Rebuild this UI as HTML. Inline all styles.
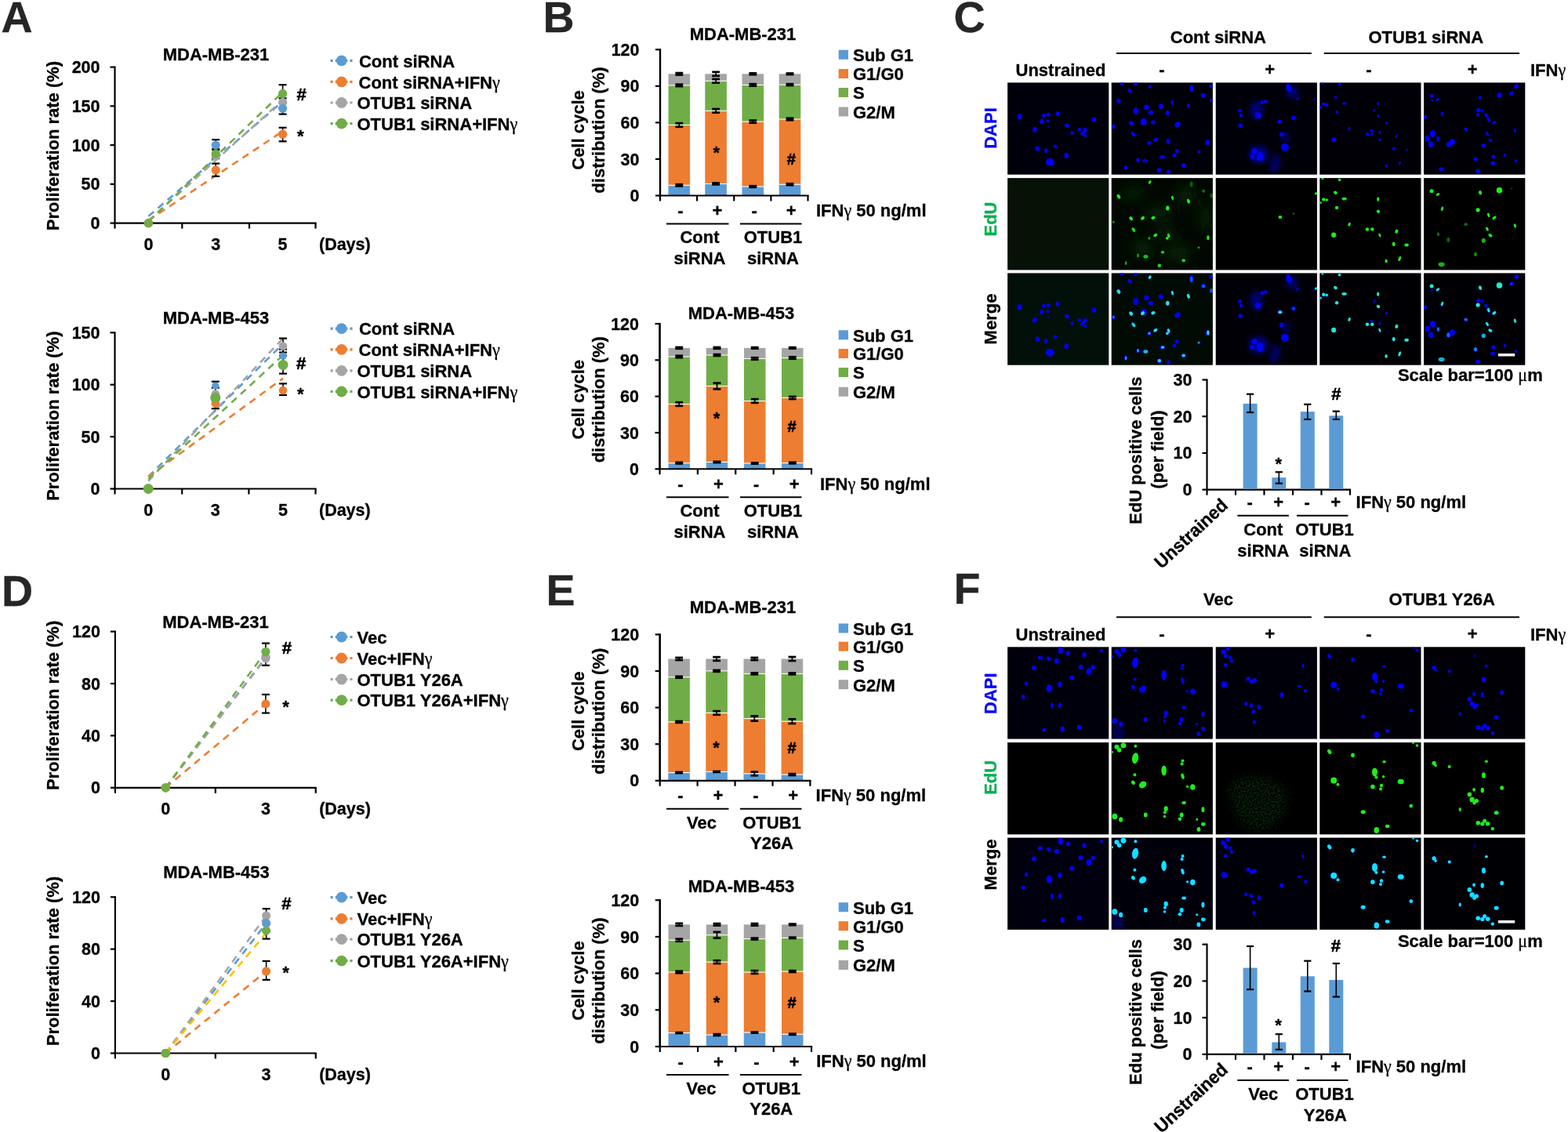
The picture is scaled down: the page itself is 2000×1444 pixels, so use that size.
<!DOCTYPE html>
<html><head><meta charset="utf-8"><title>Figure</title>
<style>html,body{margin:0;padding:0;background:#fff;} svg{display:block;}</style></head>
<body><svg width="2000" height="1444" viewBox="0 0 2000 1444" font-family='"Liberation Sans", Arial, sans-serif'>
<rect x="0" y="0" width="2000" height="1444" fill="#fff"/>
<text x="1.50" y="41.00" font-size="55.5" text-anchor="start" fill="#262626" font-weight="bold" transform="translate(1.50 41.00) rotate(0) scale(1 1.0) translate(-1.50 -41.00)" stroke="#262626" stroke-width="0.3">A</text>
<text x="692.50" y="41.00" font-size="55.5" text-anchor="start" fill="#262626" font-weight="bold" transform="translate(692.50 41.00) rotate(0) scale(1 1.0) translate(-692.50 -41.00)" stroke="#262626" stroke-width="0.3">B</text>
<text x="1216.50" y="41.20" font-size="55.5" text-anchor="start" fill="#262626" font-weight="bold" transform="translate(1216.50 41.20) rotate(0) scale(1 1.0) translate(-1216.50 -41.20)" stroke="#262626" stroke-width="0.3">C</text>
<text x="2.00" y="772.70" font-size="55.5" text-anchor="start" fill="#262626" font-weight="bold" transform="translate(2.00 772.70) rotate(0) scale(1 1.0) translate(-2.00 -772.70)" stroke="#262626" stroke-width="0.3">D</text>
<text x="696.50" y="772.30" font-size="55.5" text-anchor="start" fill="#262626" font-weight="bold" transform="translate(696.50 772.30) rotate(0) scale(1 1.0) translate(-696.50 -772.30)" stroke="#262626" stroke-width="0.3">E</text>
<text x="1216.50" y="770.00" font-size="55.5" text-anchor="start" fill="#262626" font-weight="bold" transform="translate(1216.50 770.00) rotate(0) scale(1 1.0) translate(-1216.50 -770.00)" stroke="#262626" stroke-width="0.3">F</text>
<text x="275.50" y="77.50" font-size="22" text-anchor="middle" fill="#000" font-weight="bold" transform="translate(275.50 77.50) rotate(0) scale(1 1.04) translate(-275.50 -77.50)" stroke="#000" stroke-width="0.3">MDA-MB-231</text>
<text x="75.50" y="186.00" font-size="22" text-anchor="middle" fill="#000" font-weight="bold" transform="translate(75.50 186.00) rotate(-90) scale(1 1.04) translate(-75.50 -186.00)" stroke="#000" stroke-width="0.3">Proliferation rate (%)</text>
<line x1="146.50" y1="84.60" x2="146.50" y2="285.60" stroke="#000" stroke-width="2.2"/>
<line x1="140.50" y1="284.60" x2="146.50" y2="284.60" stroke="#000" stroke-width="2.2"/>
<text x="127.50" y="292.20" font-size="21.5" text-anchor="end" fill="#000" font-weight="bold" transform="translate(127.50 292.20) rotate(0) scale(1 1.04) translate(-127.50 -292.20)" stroke="#000" stroke-width="0.3">0</text>
<line x1="140.50" y1="234.85" x2="146.50" y2="234.85" stroke="#000" stroke-width="2.2"/>
<text x="127.50" y="242.45" font-size="21.5" text-anchor="end" fill="#000" font-weight="bold" transform="translate(127.50 242.45) rotate(0) scale(1 1.04) translate(-127.50 -242.45)" stroke="#000" stroke-width="0.3">50</text>
<line x1="140.50" y1="185.10" x2="146.50" y2="185.10" stroke="#000" stroke-width="2.2"/>
<text x="127.50" y="192.70" font-size="21.5" text-anchor="end" fill="#000" font-weight="bold" transform="translate(127.50 192.70) rotate(0) scale(1 1.04) translate(-127.50 -192.70)" stroke="#000" stroke-width="0.3">100</text>
<line x1="140.50" y1="135.35" x2="146.50" y2="135.35" stroke="#000" stroke-width="2.2"/>
<text x="127.50" y="142.95" font-size="21.5" text-anchor="end" fill="#000" font-weight="bold" transform="translate(127.50 142.95) rotate(0) scale(1 1.04) translate(-127.50 -142.95)" stroke="#000" stroke-width="0.3">150</text>
<line x1="140.50" y1="85.60" x2="146.50" y2="85.60" stroke="#000" stroke-width="2.2"/>
<text x="127.50" y="93.20" font-size="21.5" text-anchor="end" fill="#000" font-weight="bold" transform="translate(127.50 93.20) rotate(0) scale(1 1.04) translate(-127.50 -93.20)" stroke="#000" stroke-width="0.3">200</text>
<line x1="145.50" y1="284.60" x2="403.60" y2="284.60" stroke="#000" stroke-width="2.2"/>
<line x1="146.50" y1="284.60" x2="146.50" y2="291.60" stroke="#000" stroke-width="2.2"/>
<line x1="232.30" y1="284.60" x2="232.30" y2="291.60" stroke="#000" stroke-width="2.2"/>
<line x1="318.00" y1="284.60" x2="318.00" y2="291.60" stroke="#000" stroke-width="2.2"/>
<line x1="402.50" y1="284.60" x2="402.50" y2="291.60" stroke="#000" stroke-width="2.2"/>
<text x="189.40" y="319.10" font-size="21.5" text-anchor="middle" fill="#000" font-weight="bold" transform="translate(189.40 319.10) rotate(0) scale(1 1.04) translate(-189.40 -319.10)" stroke="#000" stroke-width="0.3">0</text>
<text x="275.20" y="319.10" font-size="21.5" text-anchor="middle" fill="#000" font-weight="bold" transform="translate(275.20 319.10) rotate(0) scale(1 1.04) translate(-275.20 -319.10)" stroke="#000" stroke-width="0.3">3</text>
<text x="360.60" y="319.10" font-size="21.5" text-anchor="middle" fill="#000" font-weight="bold" transform="translate(360.60 319.10) rotate(0) scale(1 1.04) translate(-360.60 -319.10)" stroke="#000" stroke-width="0.3">5</text>
<text x="407.00" y="319.10" font-size="21.5" text-anchor="start" fill="#000" font-weight="bold" transform="translate(407.00 319.10) rotate(0) scale(1 1.04) translate(-407.00 -319.10)" stroke="#000" stroke-width="0.3">(Days)</text>
<line x1="189.40" y1="275.81" x2="360.60" y2="129.55" stroke="#5b9bd5" stroke-width="2.6" stroke-dasharray="9 7"/>
<line x1="189.40" y1="281.78" x2="360.60" y2="127.56" stroke="#a5a5a5" stroke-width="2.6" stroke-dasharray="9 7"/>
<line x1="189.40" y1="280.95" x2="360.60" y2="167.52" stroke="#ed7d31" stroke-width="2.6" stroke-dasharray="9 7"/>
<line x1="189.40" y1="282.61" x2="360.60" y2="117.44" stroke="#70ad47" stroke-width="2.6" stroke-dasharray="9 7"/>
<line x1="275.20" y1="191.07" x2="275.20" y2="178.13" stroke="#000" stroke-width="1.6"/>
<line x1="270.20" y1="191.07" x2="280.20" y2="191.07" stroke="#000" stroke-width="2.2"/>
<line x1="270.20" y1="178.13" x2="280.20" y2="178.13" stroke="#000" stroke-width="2.2"/>
<line x1="275.20" y1="202.02" x2="275.20" y2="190.08" stroke="#000" stroke-width="1.6"/>
<line x1="270.20" y1="202.02" x2="280.20" y2="202.02" stroke="#000" stroke-width="2.2"/>
<line x1="270.20" y1="190.08" x2="280.20" y2="190.08" stroke="#000" stroke-width="2.2"/>
<line x1="275.20" y1="224.90" x2="275.20" y2="208.58" stroke="#000" stroke-width="1.6"/>
<line x1="270.20" y1="224.90" x2="280.20" y2="224.90" stroke="#000" stroke-width="2.2"/>
<line x1="270.20" y1="208.58" x2="280.20" y2="208.58" stroke="#000" stroke-width="2.2"/>
<line x1="360.60" y1="108.19" x2="360.60" y2="125.40" stroke="#000" stroke-width="1.6"/>
<line x1="355.60" y1="108.19" x2="365.60" y2="108.19" stroke="#000" stroke-width="2.2"/>
<line x1="355.60" y1="125.40" x2="365.60" y2="125.40" stroke="#000" stroke-width="2.2"/>
<line x1="360.60" y1="145.60" x2="360.60" y2="131.37" stroke="#000" stroke-width="1.6"/>
<line x1="355.60" y1="145.60" x2="365.60" y2="145.60" stroke="#000" stroke-width="2.2"/>
<line x1="355.60" y1="131.37" x2="365.60" y2="131.37" stroke="#000" stroke-width="2.2"/>
<line x1="360.60" y1="180.32" x2="360.60" y2="162.81" stroke="#000" stroke-width="1.6"/>
<line x1="355.60" y1="180.32" x2="365.60" y2="180.32" stroke="#000" stroke-width="2.2"/>
<line x1="355.60" y1="162.81" x2="365.60" y2="162.81" stroke="#000" stroke-width="2.2"/>
<circle cx="189.40" cy="284.60" r="5.60" fill="#a5a5a5"/>
<circle cx="275.20" cy="199.03" r="5.60" fill="#a5a5a5"/>
<circle cx="360.60" cy="130.38" r="5.60" fill="#a5a5a5"/>
<circle cx="189.40" cy="284.60" r="5.60" fill="#5b9bd5"/>
<circle cx="275.20" cy="185.10" r="5.60" fill="#5b9bd5"/>
<circle cx="360.60" cy="138.34" r="5.60" fill="#5b9bd5"/>
<circle cx="189.40" cy="284.60" r="5.60" fill="#ed7d31"/>
<circle cx="275.20" cy="216.94" r="5.60" fill="#ed7d31"/>
<circle cx="360.60" cy="171.17" r="5.60" fill="#ed7d31"/>
<circle cx="189.40" cy="284.60" r="5.60" fill="#70ad47"/>
<circle cx="275.20" cy="196.05" r="5.60" fill="#70ad47"/>
<circle cx="360.60" cy="119.43" r="5.60" fill="#70ad47"/>
<text x="384.60" y="128.30" font-size="22" text-anchor="middle" fill="#000" font-weight="bold" transform="translate(384.60 128.30) rotate(0) scale(1 1.04) translate(-384.60 -128.30)" stroke="#000" stroke-width="0.6">#</text>
<text x="383.20" y="181.30" font-size="22" text-anchor="middle" fill="#000" font-weight="bold" transform="translate(383.20 181.30) rotate(0) scale(1 1.04) translate(-383.20 -181.30)" stroke="#000" stroke-width="0.3">*</text>
<line x1="421.50" y1="77.30" x2="451.00" y2="77.30" stroke="#5b9bd5" stroke-width="3.2" stroke-dasharray="3.2 3"/>
<circle cx="435.70" cy="77.30" r="6.90" fill="#5b9bd5"/>
<text x="458.00" y="85.60" font-size="22" text-anchor="start" fill="#000" font-weight="bold" transform="translate(458.00 85.60) rotate(0) scale(1 1.04) translate(-458.00 -85.60)" stroke="#000" stroke-width="0.3">Cont siRNA</text>
<line x1="421.50" y1="104.30" x2="451.00" y2="104.30" stroke="#ed7d31" stroke-width="3.2" stroke-dasharray="3.2 3"/>
<circle cx="435.70" cy="104.30" r="6.90" fill="#ed7d31"/>
<text x="457.50" y="112.60" font-size="22" text-anchor="start" fill="#000" font-weight="bold" transform="translate(457.50 112.60) rotate(0) scale(1 1.04) translate(-457.50 -112.60)" stroke="#000" stroke-width="0.3">Cont siRNA+IFN<tspan font-family="Liberation Serif, serif" font-weight="normal">γ</tspan></text>
<line x1="421.50" y1="131.00" x2="451.00" y2="131.00" stroke="#a5a5a5" stroke-width="3.2" stroke-dasharray="3.2 3"/>
<circle cx="435.70" cy="131.00" r="6.90" fill="#a5a5a5"/>
<text x="455.50" y="139.30" font-size="22" text-anchor="start" fill="#000" font-weight="bold" transform="translate(455.50 139.30) rotate(0) scale(1 1.04) translate(-455.50 -139.30)" stroke="#000" stroke-width="0.3">OTUB1 siRNA</text>
<line x1="421.50" y1="157.70" x2="451.00" y2="157.70" stroke="#70ad47" stroke-width="3.2" stroke-dasharray="3.2 3"/>
<circle cx="435.70" cy="157.70" r="6.90" fill="#70ad47"/>
<text x="455.50" y="166.00" font-size="22" text-anchor="start" fill="#000" font-weight="bold" transform="translate(455.50 166.00) rotate(0) scale(1 1.04) translate(-455.50 -166.00)" stroke="#000" stroke-width="0.3">OTUB1 siRNA+IFN<tspan font-family="Liberation Serif, serif" font-weight="normal">γ</tspan></text>
<text x="275.50" y="413.30" font-size="22" text-anchor="middle" fill="#000" font-weight="bold" transform="translate(275.50 413.30) rotate(0) scale(1 1.04) translate(-275.50 -413.30)" stroke="#000" stroke-width="0.3">MDA-MB-453</text>
<text x="75.50" y="530.70" font-size="22" text-anchor="middle" fill="#000" font-weight="bold" transform="translate(75.50 530.70) rotate(-90) scale(1 1.04) translate(-75.50 -530.70)" stroke="#000" stroke-width="0.3">Proliferation rate (%)</text>
<line x1="146.50" y1="423.30" x2="146.50" y2="624.50" stroke="#000" stroke-width="2.2"/>
<line x1="140.50" y1="623.50" x2="146.50" y2="623.50" stroke="#000" stroke-width="2.2"/>
<text x="127.50" y="631.10" font-size="21.5" text-anchor="end" fill="#000" font-weight="bold" transform="translate(127.50 631.10) rotate(0) scale(1 1.04) translate(-127.50 -631.10)" stroke="#000" stroke-width="0.3">0</text>
<line x1="140.50" y1="557.10" x2="146.50" y2="557.10" stroke="#000" stroke-width="2.2"/>
<text x="127.50" y="564.70" font-size="21.5" text-anchor="end" fill="#000" font-weight="bold" transform="translate(127.50 564.70) rotate(0) scale(1 1.04) translate(-127.50 -564.70)" stroke="#000" stroke-width="0.3">50</text>
<line x1="140.50" y1="490.70" x2="146.50" y2="490.70" stroke="#000" stroke-width="2.2"/>
<text x="127.50" y="498.30" font-size="21.5" text-anchor="end" fill="#000" font-weight="bold" transform="translate(127.50 498.30) rotate(0) scale(1 1.04) translate(-127.50 -498.30)" stroke="#000" stroke-width="0.3">100</text>
<line x1="140.50" y1="424.30" x2="146.50" y2="424.30" stroke="#000" stroke-width="2.2"/>
<text x="127.50" y="431.90" font-size="21.5" text-anchor="end" fill="#000" font-weight="bold" transform="translate(127.50 431.90) rotate(0) scale(1 1.04) translate(-127.50 -431.90)" stroke="#000" stroke-width="0.3">150</text>
<line x1="145.50" y1="623.50" x2="403.60" y2="623.50" stroke="#000" stroke-width="2.2"/>
<line x1="146.50" y1="623.50" x2="146.50" y2="630.50" stroke="#000" stroke-width="2.2"/>
<line x1="232.20" y1="623.50" x2="232.20" y2="630.50" stroke="#000" stroke-width="2.2"/>
<line x1="317.40" y1="623.50" x2="317.40" y2="630.50" stroke="#000" stroke-width="2.2"/>
<line x1="402.50" y1="623.50" x2="402.50" y2="630.50" stroke="#000" stroke-width="2.2"/>
<text x="189.20" y="658.00" font-size="21.5" text-anchor="middle" fill="#000" font-weight="bold" transform="translate(189.20 658.00) rotate(0) scale(1 1.04) translate(-189.20 -658.00)" stroke="#000" stroke-width="0.3">0</text>
<text x="274.80" y="658.00" font-size="21.5" text-anchor="middle" fill="#000" font-weight="bold" transform="translate(274.80 658.00) rotate(0) scale(1 1.04) translate(-274.80 -658.00)" stroke="#000" stroke-width="0.3">3</text>
<text x="361.00" y="658.00" font-size="21.5" text-anchor="middle" fill="#000" font-weight="bold" transform="translate(361.00 658.00) rotate(0) scale(1 1.04) translate(-361.00 -658.00)" stroke="#000" stroke-width="0.3">5</text>
<text x="407.00" y="658.00" font-size="21.5" text-anchor="start" fill="#000" font-weight="bold" transform="translate(407.00 658.00) rotate(0) scale(1 1.04) translate(-407.00 -658.00)" stroke="#000" stroke-width="0.3">(Days)</text>
<line x1="189.20" y1="607.90" x2="361.00" y2="438.58" stroke="#5b9bd5" stroke-width="2.6" stroke-dasharray="9 7"/>
<line x1="189.20" y1="613.54" x2="361.00" y2="431.60" stroke="#a5a5a5" stroke-width="2.6" stroke-dasharray="9 7"/>
<line x1="189.20" y1="608.12" x2="361.00" y2="482.62" stroke="#ed7d31" stroke-width="2.6" stroke-dasharray="9 7"/>
<line x1="189.20" y1="611.11" x2="361.00" y2="453.07" stroke="#70ad47" stroke-width="2.6" stroke-dasharray="9 7"/>
<line x1="274.80" y1="521.24" x2="274.80" y2="486.72" stroke="#000" stroke-width="1.6"/>
<line x1="269.80" y1="521.24" x2="279.80" y2="521.24" stroke="#000" stroke-width="2.2"/>
<line x1="269.80" y1="486.72" x2="279.80" y2="486.72" stroke="#000" stroke-width="2.2"/>
<line x1="274.80" y1="510.62" x2="274.80" y2="494.68" stroke="#000" stroke-width="1.6"/>
<line x1="269.80" y1="510.62" x2="279.80" y2="510.62" stroke="#000" stroke-width="2.2"/>
<line x1="269.80" y1="494.68" x2="279.80" y2="494.68" stroke="#000" stroke-width="2.2"/>
<line x1="361.00" y1="449.53" x2="361.00" y2="431.60" stroke="#000" stroke-width="1.6"/>
<line x1="356.00" y1="449.53" x2="366.00" y2="449.53" stroke="#000" stroke-width="2.2"/>
<line x1="356.00" y1="431.60" x2="366.00" y2="431.60" stroke="#000" stroke-width="2.2"/>
<line x1="361.00" y1="476.62" x2="361.00" y2="453.52" stroke="#000" stroke-width="1.6"/>
<line x1="356.00" y1="476.62" x2="366.00" y2="476.62" stroke="#000" stroke-width="2.2"/>
<line x1="356.00" y1="453.52" x2="366.00" y2="453.52" stroke="#000" stroke-width="2.2"/>
<line x1="361.00" y1="503.98" x2="361.00" y2="489.37" stroke="#000" stroke-width="1.6"/>
<line x1="356.00" y1="503.98" x2="366.00" y2="503.98" stroke="#000" stroke-width="2.2"/>
<line x1="356.00" y1="489.37" x2="366.00" y2="489.37" stroke="#000" stroke-width="2.2"/>
<line x1="361.00" y1="464.14" x2="361.00" y2="445.55" stroke="#000" stroke-width="1.6"/>
<line x1="356.00" y1="464.14" x2="366.00" y2="464.14" stroke="#000" stroke-width="2.2"/>
<line x1="356.00" y1="445.55" x2="366.00" y2="445.55" stroke="#000" stroke-width="2.2"/>
<circle cx="189.20" cy="623.50" r="5.30" fill="#ed7d31"/>
<circle cx="274.80" cy="514.60" r="5.30" fill="#ed7d31"/>
<circle cx="361.00" cy="498.00" r="5.30" fill="#ed7d31"/>
<circle cx="189.20" cy="623.50" r="5.30" fill="#a5a5a5"/>
<circle cx="274.80" cy="502.65" r="5.30" fill="#a5a5a5"/>
<circle cx="361.00" cy="441.56" r="5.30" fill="#a5a5a5"/>
<circle cx="189.20" cy="623.50" r="4.60" fill="#5b9bd5"/>
<circle cx="274.80" cy="492.03" r="4.60" fill="#5b9bd5"/>
<circle cx="361.00" cy="454.18" r="4.60" fill="#5b9bd5"/>
<circle cx="189.20" cy="623.50" r="6.50" fill="#70ad47"/>
<circle cx="274.80" cy="507.30" r="6.50" fill="#70ad47"/>
<circle cx="361.00" cy="465.47" r="6.50" fill="#70ad47"/>
<text x="384.20" y="471.40" font-size="22" text-anchor="middle" fill="#000" font-weight="bold" transform="translate(384.20 471.40) rotate(0) scale(1 1.04) translate(-384.20 -471.40)" stroke="#000" stroke-width="0.6">#</text>
<text x="383.40" y="510.00" font-size="22" text-anchor="middle" fill="#000" font-weight="bold" transform="translate(383.40 510.00) rotate(0) scale(1 1.04) translate(-383.40 -510.00)" stroke="#000" stroke-width="0.3">*</text>
<line x1="421.50" y1="419.20" x2="451.00" y2="419.20" stroke="#5b9bd5" stroke-width="3.2" stroke-dasharray="3.2 3"/>
<circle cx="435.70" cy="419.20" r="6.90" fill="#5b9bd5"/>
<text x="458.00" y="427.50" font-size="22" text-anchor="start" fill="#000" font-weight="bold" transform="translate(458.00 427.50) rotate(0) scale(1 1.04) translate(-458.00 -427.50)" stroke="#000" stroke-width="0.3">Cont siRNA</text>
<line x1="421.50" y1="445.80" x2="451.00" y2="445.80" stroke="#ed7d31" stroke-width="3.2" stroke-dasharray="3.2 3"/>
<circle cx="435.70" cy="445.80" r="6.90" fill="#ed7d31"/>
<text x="457.50" y="454.10" font-size="22" text-anchor="start" fill="#000" font-weight="bold" transform="translate(457.50 454.10) rotate(0) scale(1 1.04) translate(-457.50 -454.10)" stroke="#000" stroke-width="0.3">Cont siRNA+IFN<tspan font-family="Liberation Serif, serif" font-weight="normal">γ</tspan></text>
<line x1="421.50" y1="472.80" x2="451.00" y2="472.80" stroke="#a5a5a5" stroke-width="3.2" stroke-dasharray="3.2 3"/>
<circle cx="435.70" cy="472.80" r="6.90" fill="#a5a5a5"/>
<text x="455.50" y="481.10" font-size="22" text-anchor="start" fill="#000" font-weight="bold" transform="translate(455.50 481.10) rotate(0) scale(1 1.04) translate(-455.50 -481.10)" stroke="#000" stroke-width="0.3">OTUB1 siRNA</text>
<line x1="421.50" y1="499.50" x2="451.00" y2="499.50" stroke="#70ad47" stroke-width="3.2" stroke-dasharray="3.2 3"/>
<circle cx="435.70" cy="499.50" r="6.90" fill="#70ad47"/>
<text x="455.50" y="507.80" font-size="22" text-anchor="start" fill="#000" font-weight="bold" transform="translate(455.50 507.80) rotate(0) scale(1 1.04) translate(-455.50 -507.80)" stroke="#000" stroke-width="0.3">OTUB1 siRNA+IFN<tspan font-family="Liberation Serif, serif" font-weight="normal">γ</tspan></text>
<text x="275.00" y="801.50" font-size="22" text-anchor="middle" fill="#000" font-weight="bold" transform="translate(275.00 801.50) rotate(0) scale(1 1.04) translate(-275.00 -801.50)" stroke="#000" stroke-width="0.3">MDA-MB-231</text>
<text x="75.50" y="899.90" font-size="22" text-anchor="middle" fill="#000" font-weight="bold" transform="translate(75.50 899.90) rotate(-90) scale(1 1.04) translate(-75.50 -899.90)" stroke="#000" stroke-width="0.3">Proliferation rate (%)</text>
<line x1="146.90" y1="804.60" x2="146.90" y2="1005.80" stroke="#000" stroke-width="2.2"/>
<line x1="140.90" y1="1004.80" x2="146.90" y2="1004.80" stroke="#000" stroke-width="2.2"/>
<text x="127.90" y="1012.40" font-size="21.5" text-anchor="end" fill="#000" font-weight="bold" transform="translate(127.90 1012.40) rotate(0) scale(1 1.04) translate(-127.90 -1012.40)" stroke="#000" stroke-width="0.3">0</text>
<line x1="140.90" y1="938.40" x2="146.90" y2="938.40" stroke="#000" stroke-width="2.2"/>
<text x="127.90" y="946.00" font-size="21.5" text-anchor="end" fill="#000" font-weight="bold" transform="translate(127.90 946.00) rotate(0) scale(1 1.04) translate(-127.90 -946.00)" stroke="#000" stroke-width="0.3">40</text>
<line x1="140.90" y1="872.00" x2="146.90" y2="872.00" stroke="#000" stroke-width="2.2"/>
<text x="127.90" y="879.60" font-size="21.5" text-anchor="end" fill="#000" font-weight="bold" transform="translate(127.90 879.60) rotate(0) scale(1 1.04) translate(-127.90 -879.60)" stroke="#000" stroke-width="0.3">80</text>
<line x1="140.90" y1="805.60" x2="146.90" y2="805.60" stroke="#000" stroke-width="2.2"/>
<text x="127.90" y="813.20" font-size="21.5" text-anchor="end" fill="#000" font-weight="bold" transform="translate(127.90 813.20) rotate(0) scale(1 1.04) translate(-127.90 -813.20)" stroke="#000" stroke-width="0.3">120</text>
<line x1="145.90" y1="1004.80" x2="403.80" y2="1004.80" stroke="#000" stroke-width="2.2"/>
<line x1="146.90" y1="1004.80" x2="146.90" y2="1011.80" stroke="#000" stroke-width="2.2"/>
<line x1="274.80" y1="1004.80" x2="274.80" y2="1011.80" stroke="#000" stroke-width="2.2"/>
<line x1="402.70" y1="1004.80" x2="402.70" y2="1011.80" stroke="#000" stroke-width="2.2"/>
<text x="211.20" y="1039.30" font-size="21.5" text-anchor="middle" fill="#000" font-weight="bold" transform="translate(211.20 1039.30) rotate(0) scale(1 1.04) translate(-211.20 -1039.30)" stroke="#000" stroke-width="0.3">0</text>
<text x="338.90" y="1039.30" font-size="21.5" text-anchor="middle" fill="#000" font-weight="bold" transform="translate(338.90 1039.30) rotate(0) scale(1 1.04) translate(-338.90 -1039.30)" stroke="#000" stroke-width="0.3">3</text>
<text x="407.20" y="1039.30" font-size="21.5" text-anchor="start" fill="#000" font-weight="bold" transform="translate(407.20 1039.30) rotate(0) scale(1 1.04) translate(-407.20 -1039.30)" stroke="#000" stroke-width="0.3">(Days)</text>
<line x1="211.20" y1="1004.80" x2="338.90" y2="838.80" stroke="#5b9bd5" stroke-width="2.6" stroke-dasharray="9 7"/>
<line x1="211.20" y1="1004.80" x2="338.90" y2="839.80" stroke="#a5a5a5" stroke-width="2.6" stroke-dasharray="9 7"/>
<line x1="211.20" y1="1004.80" x2="338.90" y2="897.90" stroke="#ed7d31" stroke-width="2.6" stroke-dasharray="9 7"/>
<line x1="211.20" y1="1004.80" x2="338.90" y2="831.33" stroke="#70ad47" stroke-width="2.6" stroke-dasharray="9 7"/>
<line x1="338.90" y1="848.76" x2="338.90" y2="820.54" stroke="#000" stroke-width="1.6"/>
<line x1="333.90" y1="848.76" x2="343.90" y2="848.76" stroke="#000" stroke-width="2.2"/>
<line x1="333.90" y1="820.54" x2="343.90" y2="820.54" stroke="#000" stroke-width="2.2"/>
<line x1="338.90" y1="909.52" x2="338.90" y2="885.94" stroke="#000" stroke-width="1.6"/>
<line x1="333.90" y1="909.52" x2="343.90" y2="909.52" stroke="#000" stroke-width="2.2"/>
<line x1="333.90" y1="885.94" x2="343.90" y2="885.94" stroke="#000" stroke-width="2.2"/>
<circle cx="211.20" cy="1004.80" r="5.60" fill="#5b9bd5"/>
<circle cx="338.90" cy="838.80" r="5.60" fill="#5b9bd5"/>
<circle cx="211.20" cy="1004.80" r="5.60" fill="#a5a5a5"/>
<circle cx="338.90" cy="839.80" r="5.60" fill="#a5a5a5"/>
<circle cx="211.20" cy="1004.80" r="5.60" fill="#ed7d31"/>
<circle cx="338.90" cy="897.90" r="5.60" fill="#ed7d31"/>
<circle cx="211.20" cy="1004.80" r="5.60" fill="#70ad47"/>
<circle cx="338.90" cy="831.33" r="5.60" fill="#70ad47"/>
<text x="365.80" y="834.50" font-size="22" text-anchor="middle" fill="#000" font-weight="bold" transform="translate(365.80 834.50) rotate(0) scale(1 1.04) translate(-365.80 -834.50)" stroke="#000" stroke-width="0.6">#</text>
<text x="364.50" y="909.00" font-size="22" text-anchor="middle" fill="#000" font-weight="bold" transform="translate(364.50 909.00) rotate(0) scale(1 1.04) translate(-364.50 -909.00)" stroke="#000" stroke-width="0.3">*</text>
<line x1="421.50" y1="812.50" x2="451.00" y2="812.50" stroke="#5b9bd5" stroke-width="3.2" stroke-dasharray="3.2 3"/>
<circle cx="435.70" cy="812.50" r="6.90" fill="#5b9bd5"/>
<text x="455.50" y="820.80" font-size="22" text-anchor="start" fill="#000" font-weight="bold" transform="translate(455.50 820.80) rotate(0) scale(1 1.04) translate(-455.50 -820.80)" stroke="#000" stroke-width="0.3">Vec</text>
<line x1="421.50" y1="839.50" x2="451.00" y2="839.50" stroke="#ed7d31" stroke-width="3.2" stroke-dasharray="3.2 3"/>
<circle cx="435.70" cy="839.50" r="6.90" fill="#ed7d31"/>
<text x="455.50" y="847.80" font-size="22" text-anchor="start" fill="#000" font-weight="bold" transform="translate(455.50 847.80) rotate(0) scale(1 1.04) translate(-455.50 -847.80)" stroke="#000" stroke-width="0.3">Vec+IFN<tspan font-family="Liberation Serif, serif" font-weight="normal">γ</tspan></text>
<line x1="421.50" y1="866.50" x2="451.00" y2="866.50" stroke="#a5a5a5" stroke-width="3.2" stroke-dasharray="3.2 3"/>
<circle cx="435.70" cy="866.50" r="6.90" fill="#a5a5a5"/>
<text x="455.50" y="874.80" font-size="22" text-anchor="start" fill="#000" font-weight="bold" transform="translate(455.50 874.80) rotate(0) scale(1 1.04) translate(-455.50 -874.80)" stroke="#000" stroke-width="0.3">OTUB1 Y26A</text>
<line x1="421.50" y1="893.20" x2="451.00" y2="893.20" stroke="#70ad47" stroke-width="3.2" stroke-dasharray="3.2 3"/>
<circle cx="435.70" cy="893.20" r="6.90" fill="#70ad47"/>
<text x="455.50" y="901.50" font-size="22" text-anchor="start" fill="#000" font-weight="bold" transform="translate(455.50 901.50) rotate(0) scale(1 1.04) translate(-455.50 -901.50)" stroke="#000" stroke-width="0.3">OTUB1 Y26A+IFN<tspan font-family="Liberation Serif, serif" font-weight="normal">γ</tspan></text>
<text x="276.00" y="1119.60" font-size="22" text-anchor="middle" fill="#000" font-weight="bold" transform="translate(276.00 1119.60) rotate(0) scale(1 1.04) translate(-276.00 -1119.60)" stroke="#000" stroke-width="0.3">MDA-MB-453</text>
<text x="75.50" y="1226.00" font-size="22" text-anchor="middle" fill="#000" font-weight="bold" transform="translate(75.50 1226.00) rotate(-90) scale(1 1.04) translate(-75.50 -1226.00)" stroke="#000" stroke-width="0.3">Proliferation rate (%)</text>
<line x1="146.90" y1="1143.30" x2="146.90" y2="1344.50" stroke="#000" stroke-width="2.2"/>
<line x1="140.90" y1="1343.50" x2="146.90" y2="1343.50" stroke="#000" stroke-width="2.2"/>
<text x="127.90" y="1351.10" font-size="21.5" text-anchor="end" fill="#000" font-weight="bold" transform="translate(127.90 1351.10) rotate(0) scale(1 1.04) translate(-127.90 -1351.10)" stroke="#000" stroke-width="0.3">0</text>
<line x1="140.90" y1="1277.10" x2="146.90" y2="1277.10" stroke="#000" stroke-width="2.2"/>
<text x="127.90" y="1284.70" font-size="21.5" text-anchor="end" fill="#000" font-weight="bold" transform="translate(127.90 1284.70) rotate(0) scale(1 1.04) translate(-127.90 -1284.70)" stroke="#000" stroke-width="0.3">40</text>
<line x1="140.90" y1="1210.70" x2="146.90" y2="1210.70" stroke="#000" stroke-width="2.2"/>
<text x="127.90" y="1218.30" font-size="21.5" text-anchor="end" fill="#000" font-weight="bold" transform="translate(127.90 1218.30) rotate(0) scale(1 1.04) translate(-127.90 -1218.30)" stroke="#000" stroke-width="0.3">80</text>
<line x1="140.90" y1="1144.30" x2="146.90" y2="1144.30" stroke="#000" stroke-width="2.2"/>
<text x="127.90" y="1151.90" font-size="21.5" text-anchor="end" fill="#000" font-weight="bold" transform="translate(127.90 1151.90) rotate(0) scale(1 1.04) translate(-127.90 -1151.90)" stroke="#000" stroke-width="0.3">120</text>
<line x1="145.90" y1="1343.50" x2="403.80" y2="1343.50" stroke="#000" stroke-width="2.2"/>
<line x1="146.90" y1="1343.50" x2="146.90" y2="1350.50" stroke="#000" stroke-width="2.2"/>
<line x1="274.80" y1="1343.50" x2="274.80" y2="1350.50" stroke="#000" stroke-width="2.2"/>
<line x1="402.70" y1="1343.50" x2="402.70" y2="1350.50" stroke="#000" stroke-width="2.2"/>
<text x="211.20" y="1378.00" font-size="21.5" text-anchor="middle" fill="#000" font-weight="bold" transform="translate(211.20 1378.00) rotate(0) scale(1 1.04) translate(-211.20 -1378.00)" stroke="#000" stroke-width="0.3">0</text>
<text x="339.60" y="1378.00" font-size="21.5" text-anchor="middle" fill="#000" font-weight="bold" transform="translate(339.60 1378.00) rotate(0) scale(1 1.04) translate(-339.60 -1378.00)" stroke="#000" stroke-width="0.3">3</text>
<text x="407.20" y="1378.00" font-size="21.5" text-anchor="start" fill="#000" font-weight="bold" transform="translate(407.20 1378.00) rotate(0) scale(1 1.04) translate(-407.20 -1378.00)" stroke="#000" stroke-width="0.3">(Days)</text>
<line x1="211.20" y1="1343.50" x2="339.60" y2="1177.67" stroke="#5b9bd5" stroke-width="2.6" stroke-dasharray="9 7"/>
<line x1="211.20" y1="1343.50" x2="339.60" y2="1168.20" stroke="#a5a5a5" stroke-width="2.6" stroke-dasharray="9 7"/>
<line x1="211.20" y1="1343.50" x2="339.60" y2="1238.92" stroke="#ed7d31" stroke-width="2.6" stroke-dasharray="9 7"/>
<line x1="211.20" y1="1343.50" x2="339.60" y2="1189.95" stroke="#ffc000" stroke-width="2.6" stroke-dasharray="9 7"/>
<line x1="339.60" y1="1197.59" x2="339.60" y2="1159.24" stroke="#000" stroke-width="1.6"/>
<line x1="334.60" y1="1197.59" x2="344.60" y2="1197.59" stroke="#000" stroke-width="2.2"/>
<line x1="334.60" y1="1159.24" x2="344.60" y2="1159.24" stroke="#000" stroke-width="2.2"/>
<line x1="339.60" y1="1249.88" x2="339.60" y2="1225.97" stroke="#000" stroke-width="1.6"/>
<line x1="334.60" y1="1249.88" x2="344.60" y2="1249.88" stroke="#000" stroke-width="2.2"/>
<line x1="334.60" y1="1225.97" x2="344.60" y2="1225.97" stroke="#000" stroke-width="2.2"/>
<circle cx="211.20" cy="1343.50" r="5.60" fill="#a5a5a5"/>
<circle cx="339.60" cy="1168.20" r="5.60" fill="#a5a5a5"/>
<circle cx="211.20" cy="1343.50" r="5.60" fill="#5b9bd5"/>
<circle cx="339.60" cy="1177.67" r="5.60" fill="#5b9bd5"/>
<circle cx="211.20" cy="1343.50" r="5.60" fill="#ed7d31"/>
<circle cx="339.60" cy="1238.92" r="5.60" fill="#ed7d31"/>
<circle cx="211.20" cy="1343.50" r="5.60" fill="#70ad47"/>
<circle cx="339.60" cy="1187.13" r="5.60" fill="#70ad47"/>
<text x="365.50" y="1160.50" font-size="22" text-anchor="middle" fill="#000" font-weight="bold" transform="translate(365.50 1160.50) rotate(0) scale(1 1.04) translate(-365.50 -1160.50)" stroke="#000" stroke-width="0.6">#</text>
<text x="364.50" y="1248.00" font-size="22" text-anchor="middle" fill="#000" font-weight="bold" transform="translate(364.50 1248.00) rotate(0) scale(1 1.04) translate(-364.50 -1248.00)" stroke="#000" stroke-width="0.3">*</text>
<line x1="421.50" y1="1144.70" x2="451.00" y2="1144.70" stroke="#5b9bd5" stroke-width="3.2" stroke-dasharray="3.2 3"/>
<circle cx="435.70" cy="1144.70" r="6.90" fill="#5b9bd5"/>
<text x="455.50" y="1153.00" font-size="22" text-anchor="start" fill="#000" font-weight="bold" transform="translate(455.50 1153.00) rotate(0) scale(1 1.04) translate(-455.50 -1153.00)" stroke="#000" stroke-width="0.3">Vec</text>
<line x1="421.50" y1="1171.80" x2="451.00" y2="1171.80" stroke="#ed7d31" stroke-width="3.2" stroke-dasharray="3.2 3"/>
<circle cx="435.70" cy="1171.80" r="6.90" fill="#ed7d31"/>
<text x="455.50" y="1180.10" font-size="22" text-anchor="start" fill="#000" font-weight="bold" transform="translate(455.50 1180.10) rotate(0) scale(1 1.04) translate(-455.50 -1180.10)" stroke="#000" stroke-width="0.3">Vec+IFN<tspan font-family="Liberation Serif, serif" font-weight="normal">γ</tspan></text>
<line x1="421.50" y1="1198.20" x2="451.00" y2="1198.20" stroke="#a5a5a5" stroke-width="3.2" stroke-dasharray="3.2 3"/>
<circle cx="435.70" cy="1198.20" r="6.90" fill="#a5a5a5"/>
<text x="455.50" y="1206.50" font-size="22" text-anchor="start" fill="#000" font-weight="bold" transform="translate(455.50 1206.50) rotate(0) scale(1 1.04) translate(-455.50 -1206.50)" stroke="#000" stroke-width="0.3">OTUB1 Y26A</text>
<line x1="421.50" y1="1225.60" x2="451.00" y2="1225.60" stroke="#70ad47" stroke-width="3.2" stroke-dasharray="3.2 3"/>
<circle cx="435.70" cy="1225.60" r="6.90" fill="#70ad47"/>
<text x="455.50" y="1233.90" font-size="22" text-anchor="start" fill="#000" font-weight="bold" transform="translate(455.50 1233.90) rotate(0) scale(1 1.04) translate(-455.50 -1233.90)" stroke="#000" stroke-width="0.3">OTUB1 Y26A+IFN<tspan font-family="Liberation Serif, serif" font-weight="normal">γ</tspan></text>
<text x="947.50" y="51.00" font-size="22" text-anchor="middle" fill="#000" font-weight="bold" transform="translate(947.50 51.00) rotate(0) scale(1 1.04) translate(-947.50 -51.00)" stroke="#000" stroke-width="0.3">MDA-MB-231</text>
<text x="745.50" y="166.00" font-size="22" text-anchor="middle" fill="#000" font-weight="bold" transform="translate(745.50 166.00) rotate(-90) scale(1 1.04) translate(-745.50 -166.00)" stroke="#000" stroke-width="0.3">Cell cycle</text>
<text x="771.00" y="166.00" font-size="22" text-anchor="middle" fill="#000" font-weight="bold" transform="translate(771.00 166.00) rotate(-90) scale(1 1.04) translate(-771.00 -166.00)" stroke="#000" stroke-width="0.3">distribution (%)</text>
<line x1="842.00" y1="62.25" x2="842.00" y2="250.50" stroke="#000" stroke-width="2.2"/>
<line x1="836.00" y1="249.50" x2="842.00" y2="249.50" stroke="#000" stroke-width="2.2"/>
<text x="815.50" y="257.10" font-size="21.5" text-anchor="end" fill="#000" font-weight="bold" transform="translate(815.50 257.10) rotate(0) scale(1 1.04) translate(-815.50 -257.10)" stroke="#000" stroke-width="0.3">0</text>
<line x1="836.00" y1="202.94" x2="842.00" y2="202.94" stroke="#000" stroke-width="2.2"/>
<text x="815.50" y="210.54" font-size="21.5" text-anchor="end" fill="#000" font-weight="bold" transform="translate(815.50 210.54) rotate(0) scale(1 1.04) translate(-815.50 -210.54)" stroke="#000" stroke-width="0.3">30</text>
<line x1="836.00" y1="156.38" x2="842.00" y2="156.38" stroke="#000" stroke-width="2.2"/>
<text x="815.50" y="163.97" font-size="21.5" text-anchor="end" fill="#000" font-weight="bold" transform="translate(815.50 163.97) rotate(0) scale(1 1.04) translate(-815.50 -163.97)" stroke="#000" stroke-width="0.3">60</text>
<line x1="836.00" y1="109.81" x2="842.00" y2="109.81" stroke="#000" stroke-width="2.2"/>
<text x="815.50" y="117.41" font-size="21.5" text-anchor="end" fill="#000" font-weight="bold" transform="translate(815.50 117.41) rotate(0) scale(1 1.04) translate(-815.50 -117.41)" stroke="#000" stroke-width="0.3">90</text>
<line x1="836.00" y1="63.25" x2="842.00" y2="63.25" stroke="#000" stroke-width="2.2"/>
<text x="815.50" y="70.85" font-size="21.5" text-anchor="end" fill="#000" font-weight="bold" transform="translate(815.50 70.85) rotate(0) scale(1 1.04) translate(-815.50 -70.85)" stroke="#000" stroke-width="0.3">120</text>
<rect x="852.50" y="236.31" width="27.60" height="13.19" fill="#5b9bd5"/>
<rect x="852.50" y="159.48" width="27.60" height="76.83" fill="#ed7d31"/>
<rect x="852.50" y="108.88" width="27.60" height="50.60" fill="#70ad47"/>
<rect x="852.50" y="94.29" width="27.60" height="14.59" fill="#a5a5a5"/>
<line x1="852.50" y1="236.31" x2="880.10" y2="236.31" stroke="#fff" stroke-width="1.1"/>
<line x1="852.50" y1="159.48" x2="880.10" y2="159.48" stroke="#fff" stroke-width="1.1"/>
<line x1="852.50" y1="108.88" x2="880.10" y2="108.88" stroke="#fff" stroke-width="1.1"/>
<line x1="866.30" y1="237.39" x2="866.30" y2="235.22" stroke="#000" stroke-width="1.7"/>
<line x1="861.40" y1="237.39" x2="871.20" y2="237.39" stroke="#000" stroke-width="2.7"/>
<line x1="861.40" y1="235.22" x2="871.20" y2="235.22" stroke="#000" stroke-width="2.7"/>
<line x1="866.30" y1="161.81" x2="866.30" y2="157.15" stroke="#000" stroke-width="1.7"/>
<line x1="861.40" y1="161.81" x2="871.20" y2="161.81" stroke="#000" stroke-width="2.7"/>
<line x1="861.40" y1="157.15" x2="871.20" y2="157.15" stroke="#000" stroke-width="2.7"/>
<line x1="866.30" y1="110.12" x2="866.30" y2="107.64" stroke="#000" stroke-width="1.7"/>
<line x1="861.40" y1="110.12" x2="871.20" y2="110.12" stroke="#000" stroke-width="2.7"/>
<line x1="861.40" y1="107.64" x2="871.20" y2="107.64" stroke="#000" stroke-width="2.7"/>
<line x1="866.30" y1="95.53" x2="866.30" y2="93.05" stroke="#000" stroke-width="1.7"/>
<line x1="861.40" y1="95.53" x2="871.20" y2="95.53" stroke="#000" stroke-width="2.7"/>
<line x1="861.40" y1="93.05" x2="871.20" y2="93.05" stroke="#000" stroke-width="2.7"/>
<rect x="899.30" y="234.44" width="27.60" height="15.06" fill="#5b9bd5"/>
<rect x="899.30" y="141.32" width="27.60" height="93.12" fill="#ed7d31"/>
<rect x="899.30" y="103.29" width="27.60" height="38.03" fill="#70ad47"/>
<rect x="899.30" y="94.29" width="27.60" height="9.00" fill="#a5a5a5"/>
<line x1="899.30" y1="234.44" x2="926.90" y2="234.44" stroke="#fff" stroke-width="1.1"/>
<line x1="899.30" y1="141.32" x2="926.90" y2="141.32" stroke="#fff" stroke-width="1.1"/>
<line x1="899.30" y1="103.29" x2="926.90" y2="103.29" stroke="#fff" stroke-width="1.1"/>
<line x1="913.10" y1="235.38" x2="913.10" y2="233.51" stroke="#000" stroke-width="1.7"/>
<line x1="908.20" y1="235.38" x2="918.00" y2="235.38" stroke="#000" stroke-width="2.7"/>
<line x1="908.20" y1="233.51" x2="918.00" y2="233.51" stroke="#000" stroke-width="2.7"/>
<line x1="913.10" y1="143.65" x2="913.10" y2="138.99" stroke="#000" stroke-width="1.7"/>
<line x1="908.20" y1="143.65" x2="918.00" y2="143.65" stroke="#000" stroke-width="2.7"/>
<line x1="908.20" y1="138.99" x2="918.00" y2="138.99" stroke="#000" stroke-width="2.7"/>
<line x1="913.10" y1="105.62" x2="913.10" y2="100.97" stroke="#000" stroke-width="1.7"/>
<line x1="908.20" y1="105.62" x2="918.00" y2="105.62" stroke="#000" stroke-width="2.7"/>
<line x1="908.20" y1="100.97" x2="918.00" y2="100.97" stroke="#000" stroke-width="2.7"/>
<line x1="913.10" y1="96.78" x2="913.10" y2="91.81" stroke="#000" stroke-width="1.7"/>
<line x1="908.20" y1="96.78" x2="918.00" y2="96.78" stroke="#000" stroke-width="2.7"/>
<line x1="908.20" y1="91.81" x2="918.00" y2="91.81" stroke="#000" stroke-width="2.7"/>
<rect x="946.50" y="238.01" width="27.60" height="11.49" fill="#5b9bd5"/>
<rect x="946.50" y="155.13" width="27.60" height="82.88" fill="#ed7d31"/>
<rect x="946.50" y="108.42" width="27.60" height="46.72" fill="#70ad47"/>
<rect x="946.50" y="94.29" width="27.60" height="14.12" fill="#a5a5a5"/>
<line x1="946.50" y1="238.01" x2="974.10" y2="238.01" stroke="#fff" stroke-width="1.1"/>
<line x1="946.50" y1="155.13" x2="974.10" y2="155.13" stroke="#fff" stroke-width="1.1"/>
<line x1="946.50" y1="108.42" x2="974.10" y2="108.42" stroke="#fff" stroke-width="1.1"/>
<line x1="960.30" y1="238.79" x2="960.30" y2="237.24" stroke="#000" stroke-width="1.7"/>
<line x1="955.40" y1="238.79" x2="965.20" y2="238.79" stroke="#000" stroke-width="2.7"/>
<line x1="955.40" y1="237.24" x2="965.20" y2="237.24" stroke="#000" stroke-width="2.7"/>
<line x1="960.30" y1="156.69" x2="960.30" y2="153.58" stroke="#000" stroke-width="1.7"/>
<line x1="955.40" y1="156.69" x2="965.20" y2="156.69" stroke="#000" stroke-width="2.7"/>
<line x1="955.40" y1="153.58" x2="965.20" y2="153.58" stroke="#000" stroke-width="2.7"/>
<line x1="960.30" y1="109.66" x2="960.30" y2="107.17" stroke="#000" stroke-width="1.7"/>
<line x1="955.40" y1="109.66" x2="965.20" y2="109.66" stroke="#000" stroke-width="2.7"/>
<line x1="955.40" y1="107.17" x2="965.20" y2="107.17" stroke="#000" stroke-width="2.7"/>
<line x1="960.30" y1="95.22" x2="960.30" y2="93.36" stroke="#000" stroke-width="1.7"/>
<line x1="955.40" y1="95.22" x2="965.20" y2="95.22" stroke="#000" stroke-width="2.7"/>
<line x1="955.40" y1="93.36" x2="965.20" y2="93.36" stroke="#000" stroke-width="2.7"/>
<rect x="993.70" y="235.22" width="27.60" height="14.28" fill="#5b9bd5"/>
<rect x="993.70" y="152.03" width="27.60" height="83.19" fill="#ed7d31"/>
<rect x="993.70" y="108.11" width="27.60" height="43.92" fill="#70ad47"/>
<rect x="993.70" y="94.29" width="27.60" height="13.81" fill="#a5a5a5"/>
<line x1="993.70" y1="235.22" x2="1021.30" y2="235.22" stroke="#fff" stroke-width="1.1"/>
<line x1="993.70" y1="152.03" x2="1021.30" y2="152.03" stroke="#fff" stroke-width="1.1"/>
<line x1="993.70" y1="108.11" x2="1021.30" y2="108.11" stroke="#fff" stroke-width="1.1"/>
<line x1="1007.50" y1="236.15" x2="1007.50" y2="234.29" stroke="#000" stroke-width="1.7"/>
<line x1="1002.60" y1="236.15" x2="1012.40" y2="236.15" stroke="#000" stroke-width="2.7"/>
<line x1="1002.60" y1="234.29" x2="1012.40" y2="234.29" stroke="#000" stroke-width="2.7"/>
<line x1="1007.50" y1="153.27" x2="1007.50" y2="150.79" stroke="#000" stroke-width="1.7"/>
<line x1="1002.60" y1="153.27" x2="1012.40" y2="153.27" stroke="#000" stroke-width="2.7"/>
<line x1="1002.60" y1="150.79" x2="1012.40" y2="150.79" stroke="#000" stroke-width="2.7"/>
<line x1="1007.50" y1="109.04" x2="1007.50" y2="107.17" stroke="#000" stroke-width="1.7"/>
<line x1="1002.60" y1="109.04" x2="1012.40" y2="109.04" stroke="#000" stroke-width="2.7"/>
<line x1="1002.60" y1="107.17" x2="1012.40" y2="107.17" stroke="#000" stroke-width="2.7"/>
<line x1="1007.50" y1="95.07" x2="1007.50" y2="93.52" stroke="#000" stroke-width="1.7"/>
<line x1="1002.60" y1="95.07" x2="1012.40" y2="95.07" stroke="#000" stroke-width="2.7"/>
<line x1="1002.60" y1="93.52" x2="1012.40" y2="93.52" stroke="#000" stroke-width="2.7"/>
<line x1="841.00" y1="249.50" x2="1031.60" y2="249.50" stroke="#000" stroke-width="2.2"/>
<line x1="842.00" y1="249.50" x2="842.00" y2="256.50" stroke="#000" stroke-width="2.2"/>
<line x1="889.12" y1="249.50" x2="889.12" y2="256.50" stroke="#000" stroke-width="2.2"/>
<line x1="936.25" y1="249.50" x2="936.25" y2="256.50" stroke="#000" stroke-width="2.2"/>
<line x1="983.38" y1="249.50" x2="983.38" y2="256.50" stroke="#000" stroke-width="2.2"/>
<line x1="1030.50" y1="249.50" x2="1030.50" y2="256.50" stroke="#000" stroke-width="2.2"/>
<line x1="842.00" y1="62.25" x2="842.00" y2="250.50" stroke="#000" stroke-width="2.2"/>
<text x="913.70" y="202.00" font-size="22" text-anchor="middle" fill="#000" font-weight="bold" transform="translate(913.70 202.00) rotate(0) scale(1 1.04) translate(-913.70 -202.00)" stroke="#000" stroke-width="0.3">*</text>
<text x="1009.40" y="210.10" font-size="20" text-anchor="middle" fill="#000" font-weight="bold" transform="translate(1009.40 210.10) rotate(0) scale(1 1.04) translate(-1009.40 -210.10)" stroke="#000" stroke-width="0.6">#</text>
<text x="867.86" y="276.10" font-size="22" text-anchor="middle" fill="#000" font-weight="bold" transform="translate(867.86 276.10) rotate(0) scale(1 1.04) translate(-867.86 -276.10)" stroke="#000" stroke-width="0.3">-</text>
<text x="914.99" y="276.10" font-size="22" text-anchor="middle" fill="#000" font-weight="bold" transform="translate(914.99 276.10) rotate(0) scale(1 1.04) translate(-914.99 -276.10)" stroke="#000" stroke-width="0.3">+</text>
<text x="962.11" y="276.10" font-size="22" text-anchor="middle" fill="#000" font-weight="bold" transform="translate(962.11 276.10) rotate(0) scale(1 1.04) translate(-962.11 -276.10)" stroke="#000" stroke-width="0.3">-</text>
<text x="1009.24" y="276.10" font-size="22" text-anchor="middle" fill="#000" font-weight="bold" transform="translate(1009.24 276.10) rotate(0) scale(1 1.04) translate(-1009.24 -276.10)" stroke="#000" stroke-width="0.3">+</text>
<text x="1041.00" y="276.00" font-size="22" text-anchor="start" fill="#000" font-weight="bold" transform="translate(1041.00 276.00) rotate(0) scale(1 1.04) translate(-1041.00 -276.00)" stroke="#000" stroke-width="0.3">IFN<tspan font-family="Liberation Serif, serif" font-weight="normal">γ</tspan> 50 ng/ml</text>
<line x1="850.00" y1="285.50" x2="929.50" y2="285.50" stroke="#000" stroke-width="2.0"/>
<line x1="944.00" y1="285.50" x2="1022.50" y2="285.50" stroke="#000" stroke-width="2.0"/>
<text x="892.50" y="310.50" font-size="22" text-anchor="middle" fill="#000" font-weight="bold" transform="translate(892.50 310.50) rotate(0) scale(1 1.04) translate(-892.50 -310.50)" stroke="#000" stroke-width="0.3">Cont</text>
<text x="892.50" y="337.00" font-size="22" text-anchor="middle" fill="#000" font-weight="bold" transform="translate(892.50 337.00) rotate(0) scale(1 1.04) translate(-892.50 -337.00)" stroke="#000" stroke-width="0.3">siRNA</text>
<text x="986.00" y="310.50" font-size="22" text-anchor="middle" fill="#000" font-weight="bold" transform="translate(986.00 310.50) rotate(0) scale(1 1.04) translate(-986.00 -310.50)" stroke="#000" stroke-width="0.3">OTUB1</text>
<text x="986.00" y="337.00" font-size="22" text-anchor="middle" fill="#000" font-weight="bold" transform="translate(986.00 337.00) rotate(0) scale(1 1.04) translate(-986.00 -337.00)" stroke="#000" stroke-width="0.3">siRNA</text>
<rect x="1069.70" y="63.75" width="12.30" height="12.00" fill="#5b9bd5"/>
<text x="1088.00" y="78.25" font-size="22" text-anchor="start" fill="#000" font-weight="bold" transform="translate(1088.00 78.25) rotate(0) scale(1 1.04) translate(-1088.00 -78.25)" stroke="#000" stroke-width="0.3">Sub G1</text>
<rect x="1069.70" y="88.00" width="12.30" height="12.00" fill="#ed7d31"/>
<text x="1088.00" y="102.50" font-size="22" text-anchor="start" fill="#000" font-weight="bold" transform="translate(1088.00 102.50) rotate(0) scale(1 1.04) translate(-1088.00 -102.50)" stroke="#000" stroke-width="0.3">G1/G0</text>
<rect x="1069.70" y="112.00" width="12.30" height="12.00" fill="#70ad47"/>
<text x="1088.00" y="126.50" font-size="22" text-anchor="start" fill="#000" font-weight="bold" transform="translate(1088.00 126.50) rotate(0) scale(1 1.04) translate(-1088.00 -126.50)" stroke="#000" stroke-width="0.3">S</text>
<rect x="1069.70" y="136.50" width="12.30" height="12.00" fill="#a5a5a5"/>
<text x="1088.00" y="151.00" font-size="22" text-anchor="start" fill="#000" font-weight="bold" transform="translate(1088.00 151.00) rotate(0) scale(1 1.04) translate(-1088.00 -151.00)" stroke="#000" stroke-width="0.3">G2/M</text>
<text x="945.50" y="407.50" font-size="22" text-anchor="middle" fill="#000" font-weight="bold" transform="translate(945.50 407.50) rotate(0) scale(1 1.04) translate(-945.50 -407.50)" stroke="#000" stroke-width="0.3">MDA-MB-453</text>
<text x="745.50" y="509.70" font-size="22" text-anchor="middle" fill="#000" font-weight="bold" transform="translate(745.50 509.70) rotate(-90) scale(1 1.04) translate(-745.50 -509.70)" stroke="#000" stroke-width="0.3">Cell cycle</text>
<text x="771.00" y="509.70" font-size="22" text-anchor="middle" fill="#000" font-weight="bold" transform="translate(771.00 509.70) rotate(-90) scale(1 1.04) translate(-771.00 -509.70)" stroke="#000" stroke-width="0.3">distribution (%)</text>
<line x1="841.50" y1="412.00" x2="841.50" y2="599.25" stroke="#000" stroke-width="2.2"/>
<line x1="835.50" y1="598.25" x2="841.50" y2="598.25" stroke="#000" stroke-width="2.2"/>
<text x="815.00" y="605.85" font-size="21.5" text-anchor="end" fill="#000" font-weight="bold" transform="translate(815.00 605.85) rotate(0) scale(1 1.04) translate(-815.00 -605.85)" stroke="#000" stroke-width="0.3">0</text>
<line x1="835.50" y1="551.94" x2="841.50" y2="551.94" stroke="#000" stroke-width="2.2"/>
<text x="815.00" y="559.54" font-size="21.5" text-anchor="end" fill="#000" font-weight="bold" transform="translate(815.00 559.54) rotate(0) scale(1 1.04) translate(-815.00 -559.54)" stroke="#000" stroke-width="0.3">30</text>
<line x1="835.50" y1="505.62" x2="841.50" y2="505.62" stroke="#000" stroke-width="2.2"/>
<text x="815.00" y="513.23" font-size="21.5" text-anchor="end" fill="#000" font-weight="bold" transform="translate(815.00 513.23) rotate(0) scale(1 1.04) translate(-815.00 -513.23)" stroke="#000" stroke-width="0.3">60</text>
<line x1="835.50" y1="459.31" x2="841.50" y2="459.31" stroke="#000" stroke-width="2.2"/>
<text x="815.00" y="466.91" font-size="21.5" text-anchor="end" fill="#000" font-weight="bold" transform="translate(815.00 466.91) rotate(0) scale(1 1.04) translate(-815.00 -466.91)" stroke="#000" stroke-width="0.3">90</text>
<line x1="835.50" y1="413.00" x2="841.50" y2="413.00" stroke="#000" stroke-width="2.2"/>
<text x="815.00" y="420.60" font-size="21.5" text-anchor="end" fill="#000" font-weight="bold" transform="translate(815.00 420.60) rotate(0) scale(1 1.04) translate(-815.00 -420.60)" stroke="#000" stroke-width="0.3">120</text>
<rect x="852.50" y="590.69" width="27.50" height="7.56" fill="#5b9bd5"/>
<rect x="852.50" y="515.50" width="27.50" height="75.18" fill="#ed7d31"/>
<rect x="852.50" y="454.99" width="27.50" height="60.51" fill="#70ad47"/>
<rect x="852.50" y="443.88" width="27.50" height="11.12" fill="#a5a5a5"/>
<line x1="852.50" y1="590.69" x2="880.00" y2="590.69" stroke="#fff" stroke-width="1.1"/>
<line x1="852.50" y1="515.50" x2="880.00" y2="515.50" stroke="#fff" stroke-width="1.1"/>
<line x1="852.50" y1="454.99" x2="880.00" y2="454.99" stroke="#fff" stroke-width="1.1"/>
<line x1="866.25" y1="591.46" x2="866.25" y2="589.91" stroke="#000" stroke-width="1.7"/>
<line x1="861.35" y1="591.46" x2="871.15" y2="591.46" stroke="#000" stroke-width="2.7"/>
<line x1="861.35" y1="589.91" x2="871.15" y2="589.91" stroke="#000" stroke-width="2.7"/>
<line x1="866.25" y1="517.82" x2="866.25" y2="513.19" stroke="#000" stroke-width="1.7"/>
<line x1="861.35" y1="517.82" x2="871.15" y2="517.82" stroke="#000" stroke-width="2.7"/>
<line x1="861.35" y1="513.19" x2="871.15" y2="513.19" stroke="#000" stroke-width="2.7"/>
<line x1="866.25" y1="456.23" x2="866.25" y2="453.75" stroke="#000" stroke-width="1.7"/>
<line x1="861.35" y1="456.23" x2="871.15" y2="456.23" stroke="#000" stroke-width="2.7"/>
<line x1="861.35" y1="453.75" x2="871.15" y2="453.75" stroke="#000" stroke-width="2.7"/>
<line x1="866.25" y1="444.80" x2="866.25" y2="442.95" stroke="#000" stroke-width="1.7"/>
<line x1="861.35" y1="444.80" x2="871.15" y2="444.80" stroke="#000" stroke-width="2.7"/>
<line x1="861.35" y1="442.95" x2="871.15" y2="442.95" stroke="#000" stroke-width="2.7"/>
<rect x="900.75" y="589.45" width="27.50" height="8.80" fill="#5b9bd5"/>
<rect x="900.75" y="492.50" width="27.50" height="96.95" fill="#ed7d31"/>
<rect x="900.75" y="452.98" width="27.50" height="39.52" fill="#70ad47"/>
<rect x="900.75" y="443.88" width="27.50" height="9.11" fill="#a5a5a5"/>
<line x1="900.75" y1="589.45" x2="928.25" y2="589.45" stroke="#fff" stroke-width="1.1"/>
<line x1="900.75" y1="492.50" x2="928.25" y2="492.50" stroke="#fff" stroke-width="1.1"/>
<line x1="900.75" y1="452.98" x2="928.25" y2="452.98" stroke="#fff" stroke-width="1.1"/>
<line x1="914.50" y1="590.07" x2="914.50" y2="588.83" stroke="#000" stroke-width="1.7"/>
<line x1="909.60" y1="590.07" x2="919.40" y2="590.07" stroke="#000" stroke-width="2.7"/>
<line x1="909.60" y1="588.83" x2="919.40" y2="588.83" stroke="#000" stroke-width="2.7"/>
<line x1="914.50" y1="496.36" x2="914.50" y2="488.64" stroke="#000" stroke-width="1.7"/>
<line x1="909.60" y1="496.36" x2="919.40" y2="496.36" stroke="#000" stroke-width="2.7"/>
<line x1="909.60" y1="488.64" x2="919.40" y2="488.64" stroke="#000" stroke-width="2.7"/>
<line x1="914.50" y1="453.91" x2="914.50" y2="452.06" stroke="#000" stroke-width="1.7"/>
<line x1="909.60" y1="453.91" x2="919.40" y2="453.91" stroke="#000" stroke-width="2.7"/>
<line x1="909.60" y1="452.06" x2="919.40" y2="452.06" stroke="#000" stroke-width="2.7"/>
<line x1="914.50" y1="444.80" x2="914.50" y2="442.95" stroke="#000" stroke-width="1.7"/>
<line x1="909.60" y1="444.80" x2="919.40" y2="444.80" stroke="#000" stroke-width="2.7"/>
<line x1="909.60" y1="442.95" x2="919.40" y2="442.95" stroke="#000" stroke-width="2.7"/>
<rect x="949.00" y="590.99" width="27.50" height="7.26" fill="#5b9bd5"/>
<rect x="949.00" y="511.49" width="27.50" height="79.50" fill="#ed7d31"/>
<rect x="949.00" y="457.46" width="27.50" height="54.03" fill="#70ad47"/>
<rect x="949.00" y="443.88" width="27.50" height="13.59" fill="#a5a5a5"/>
<line x1="949.00" y1="590.99" x2="976.50" y2="590.99" stroke="#fff" stroke-width="1.1"/>
<line x1="949.00" y1="511.49" x2="976.50" y2="511.49" stroke="#fff" stroke-width="1.1"/>
<line x1="949.00" y1="457.46" x2="976.50" y2="457.46" stroke="#fff" stroke-width="1.1"/>
<line x1="962.75" y1="591.61" x2="962.75" y2="590.38" stroke="#000" stroke-width="1.7"/>
<line x1="957.85" y1="591.61" x2="967.65" y2="591.61" stroke="#000" stroke-width="2.7"/>
<line x1="957.85" y1="590.38" x2="967.65" y2="590.38" stroke="#000" stroke-width="2.7"/>
<line x1="962.75" y1="513.81" x2="962.75" y2="509.18" stroke="#000" stroke-width="1.7"/>
<line x1="957.85" y1="513.81" x2="967.65" y2="513.81" stroke="#000" stroke-width="2.7"/>
<line x1="957.85" y1="509.18" x2="967.65" y2="509.18" stroke="#000" stroke-width="2.7"/>
<line x1="962.75" y1="458.69" x2="962.75" y2="456.23" stroke="#000" stroke-width="1.7"/>
<line x1="957.85" y1="458.69" x2="967.65" y2="458.69" stroke="#000" stroke-width="2.7"/>
<line x1="957.85" y1="456.23" x2="967.65" y2="456.23" stroke="#000" stroke-width="2.7"/>
<line x1="962.75" y1="444.65" x2="962.75" y2="443.10" stroke="#000" stroke-width="1.7"/>
<line x1="957.85" y1="444.65" x2="967.65" y2="444.65" stroke="#000" stroke-width="2.7"/>
<line x1="957.85" y1="443.10" x2="967.65" y2="443.10" stroke="#000" stroke-width="2.7"/>
<rect x="997.00" y="590.53" width="27.50" height="7.72" fill="#5b9bd5"/>
<rect x="997.00" y="507.48" width="27.50" height="83.05" fill="#ed7d31"/>
<rect x="997.00" y="456.53" width="27.50" height="50.94" fill="#70ad47"/>
<rect x="997.00" y="443.88" width="27.50" height="12.66" fill="#a5a5a5"/>
<line x1="997.00" y1="590.53" x2="1024.50" y2="590.53" stroke="#fff" stroke-width="1.1"/>
<line x1="997.00" y1="507.48" x2="1024.50" y2="507.48" stroke="#fff" stroke-width="1.1"/>
<line x1="997.00" y1="456.53" x2="1024.50" y2="456.53" stroke="#fff" stroke-width="1.1"/>
<line x1="1010.75" y1="591.30" x2="1010.75" y2="589.76" stroke="#000" stroke-width="1.7"/>
<line x1="1005.85" y1="591.30" x2="1015.65" y2="591.30" stroke="#000" stroke-width="2.7"/>
<line x1="1005.85" y1="589.76" x2="1015.65" y2="589.76" stroke="#000" stroke-width="2.7"/>
<line x1="1010.75" y1="509.02" x2="1010.75" y2="505.93" stroke="#000" stroke-width="1.7"/>
<line x1="1005.85" y1="509.02" x2="1015.65" y2="509.02" stroke="#000" stroke-width="2.7"/>
<line x1="1005.85" y1="505.93" x2="1015.65" y2="505.93" stroke="#000" stroke-width="2.7"/>
<line x1="1010.75" y1="457.77" x2="1010.75" y2="455.30" stroke="#000" stroke-width="1.7"/>
<line x1="1005.85" y1="457.77" x2="1015.65" y2="457.77" stroke="#000" stroke-width="2.7"/>
<line x1="1005.85" y1="455.30" x2="1015.65" y2="455.30" stroke="#000" stroke-width="2.7"/>
<line x1="1010.75" y1="444.65" x2="1010.75" y2="443.10" stroke="#000" stroke-width="1.7"/>
<line x1="1005.85" y1="444.65" x2="1015.65" y2="444.65" stroke="#000" stroke-width="2.7"/>
<line x1="1005.85" y1="443.10" x2="1015.65" y2="443.10" stroke="#000" stroke-width="2.7"/>
<line x1="840.50" y1="598.25" x2="1036.10" y2="598.25" stroke="#000" stroke-width="2.2"/>
<line x1="841.50" y1="598.25" x2="841.50" y2="605.25" stroke="#000" stroke-width="2.2"/>
<line x1="889.88" y1="598.25" x2="889.88" y2="605.25" stroke="#000" stroke-width="2.2"/>
<line x1="938.25" y1="598.25" x2="938.25" y2="605.25" stroke="#000" stroke-width="2.2"/>
<line x1="986.62" y1="598.25" x2="986.62" y2="605.25" stroke="#000" stroke-width="2.2"/>
<line x1="1035.00" y1="598.25" x2="1035.00" y2="605.25" stroke="#000" stroke-width="2.2"/>
<line x1="841.50" y1="412.00" x2="841.50" y2="599.25" stroke="#000" stroke-width="2.2"/>
<text x="914.00" y="541.00" font-size="22" text-anchor="middle" fill="#000" font-weight="bold" transform="translate(914.00 541.00) rotate(0) scale(1 1.04) translate(-914.00 -541.00)" stroke="#000" stroke-width="0.3">*</text>
<text x="1010.00" y="550.80" font-size="20" text-anchor="middle" fill="#000" font-weight="bold" transform="translate(1010.00 550.80) rotate(0) scale(1 1.04) translate(-1010.00 -550.80)" stroke="#000" stroke-width="0.6">#</text>
<text x="867.99" y="624.85" font-size="22" text-anchor="middle" fill="#000" font-weight="bold" transform="translate(867.99 624.85) rotate(0) scale(1 1.04) translate(-867.99 -624.85)" stroke="#000" stroke-width="0.3">-</text>
<text x="916.36" y="624.85" font-size="22" text-anchor="middle" fill="#000" font-weight="bold" transform="translate(916.36 624.85) rotate(0) scale(1 1.04) translate(-916.36 -624.85)" stroke="#000" stroke-width="0.3">+</text>
<text x="964.74" y="624.85" font-size="22" text-anchor="middle" fill="#000" font-weight="bold" transform="translate(964.74 624.85) rotate(0) scale(1 1.04) translate(-964.74 -624.85)" stroke="#000" stroke-width="0.3">-</text>
<text x="1013.11" y="624.85" font-size="22" text-anchor="middle" fill="#000" font-weight="bold" transform="translate(1013.11 624.85) rotate(0) scale(1 1.04) translate(-1013.11 -624.85)" stroke="#000" stroke-width="0.3">+</text>
<text x="1046.00" y="624.75" font-size="22" text-anchor="start" fill="#000" font-weight="bold" transform="translate(1046.00 624.75) rotate(0) scale(1 1.04) translate(-1046.00 -624.75)" stroke="#000" stroke-width="0.3">IFN<tspan font-family="Liberation Serif, serif" font-weight="normal">γ</tspan> 50 ng/ml</text>
<line x1="850.00" y1="634.25" x2="929.50" y2="634.25" stroke="#000" stroke-width="2.0"/>
<line x1="944.00" y1="634.25" x2="1022.50" y2="634.25" stroke="#000" stroke-width="2.0"/>
<text x="892.50" y="659.25" font-size="22" text-anchor="middle" fill="#000" font-weight="bold" transform="translate(892.50 659.25) rotate(0) scale(1 1.04) translate(-892.50 -659.25)" stroke="#000" stroke-width="0.3">Cont</text>
<text x="892.50" y="685.75" font-size="22" text-anchor="middle" fill="#000" font-weight="bold" transform="translate(892.50 685.75) rotate(0) scale(1 1.04) translate(-892.50 -685.75)" stroke="#000" stroke-width="0.3">siRNA</text>
<text x="986.00" y="659.25" font-size="22" text-anchor="middle" fill="#000" font-weight="bold" transform="translate(986.00 659.25) rotate(0) scale(1 1.04) translate(-986.00 -659.25)" stroke="#000" stroke-width="0.3">OTUB1</text>
<text x="986.00" y="685.75" font-size="22" text-anchor="middle" fill="#000" font-weight="bold" transform="translate(986.00 685.75) rotate(0) scale(1 1.04) translate(-986.00 -685.75)" stroke="#000" stroke-width="0.3">siRNA</text>
<rect x="1069.70" y="421.25" width="12.30" height="12.00" fill="#5b9bd5"/>
<text x="1088.00" y="435.75" font-size="22" text-anchor="start" fill="#000" font-weight="bold" transform="translate(1088.00 435.75) rotate(0) scale(1 1.04) translate(-1088.00 -435.75)" stroke="#000" stroke-width="0.3">Sub G1</text>
<rect x="1069.70" y="445.00" width="12.30" height="12.00" fill="#ed7d31"/>
<text x="1088.00" y="459.50" font-size="22" text-anchor="start" fill="#000" font-weight="bold" transform="translate(1088.00 459.50) rotate(0) scale(1 1.04) translate(-1088.00 -459.50)" stroke="#000" stroke-width="0.3">G1/G0</text>
<rect x="1069.70" y="469.00" width="12.30" height="12.00" fill="#70ad47"/>
<text x="1088.00" y="483.50" font-size="22" text-anchor="start" fill="#000" font-weight="bold" transform="translate(1088.00 483.50) rotate(0) scale(1 1.04) translate(-1088.00 -483.50)" stroke="#000" stroke-width="0.3">S</text>
<rect x="1069.70" y="493.75" width="12.30" height="12.00" fill="#a5a5a5"/>
<text x="1088.00" y="508.25" font-size="22" text-anchor="start" fill="#000" font-weight="bold" transform="translate(1088.00 508.25) rotate(0) scale(1 1.04) translate(-1088.00 -508.25)" stroke="#000" stroke-width="0.3">G2/M</text>
<text x="947.50" y="782.50" font-size="22" text-anchor="middle" fill="#000" font-weight="bold" transform="translate(947.50 782.50) rotate(0) scale(1 1.04) translate(-947.50 -782.50)" stroke="#000" stroke-width="0.3">MDA-MB-231</text>
<text x="745.50" y="907.30" font-size="22" text-anchor="middle" fill="#000" font-weight="bold" transform="translate(745.50 907.30) rotate(-90) scale(1 1.04) translate(-745.50 -907.30)" stroke="#000" stroke-width="0.3">Cell cycle</text>
<text x="771.00" y="907.30" font-size="22" text-anchor="middle" fill="#000" font-weight="bold" transform="translate(771.00 907.30) rotate(-90) scale(1 1.04) translate(-771.00 -907.30)" stroke="#000" stroke-width="0.3">distribution (%)</text>
<line x1="841.70" y1="808.40" x2="841.70" y2="996.80" stroke="#000" stroke-width="2.2"/>
<line x1="835.70" y1="995.80" x2="841.70" y2="995.80" stroke="#000" stroke-width="2.2"/>
<text x="815.20" y="1003.40" font-size="21.5" text-anchor="end" fill="#000" font-weight="bold" transform="translate(815.20 1003.40) rotate(0) scale(1 1.04) translate(-815.20 -1003.40)" stroke="#000" stroke-width="0.3">0</text>
<line x1="835.70" y1="949.20" x2="841.70" y2="949.20" stroke="#000" stroke-width="2.2"/>
<text x="815.20" y="956.80" font-size="21.5" text-anchor="end" fill="#000" font-weight="bold" transform="translate(815.20 956.80) rotate(0) scale(1 1.04) translate(-815.20 -956.80)" stroke="#000" stroke-width="0.3">30</text>
<line x1="835.70" y1="902.60" x2="841.70" y2="902.60" stroke="#000" stroke-width="2.2"/>
<text x="815.20" y="910.20" font-size="21.5" text-anchor="end" fill="#000" font-weight="bold" transform="translate(815.20 910.20) rotate(0) scale(1 1.04) translate(-815.20 -910.20)" stroke="#000" stroke-width="0.3">60</text>
<line x1="835.70" y1="856.00" x2="841.70" y2="856.00" stroke="#000" stroke-width="2.2"/>
<text x="815.20" y="863.60" font-size="21.5" text-anchor="end" fill="#000" font-weight="bold" transform="translate(815.20 863.60) rotate(0) scale(1 1.04) translate(-815.20 -863.60)" stroke="#000" stroke-width="0.3">90</text>
<line x1="835.70" y1="809.40" x2="841.70" y2="809.40" stroke="#000" stroke-width="2.2"/>
<text x="815.20" y="817.00" font-size="21.5" text-anchor="end" fill="#000" font-weight="bold" transform="translate(815.20 817.00) rotate(0) scale(1 1.04) translate(-815.20 -817.00)" stroke="#000" stroke-width="0.3">120</text>
<rect x="852.30" y="985.55" width="27.60" height="10.25" fill="#5b9bd5"/>
<rect x="852.30" y="920.93" width="27.60" height="64.62" fill="#ed7d31"/>
<rect x="852.30" y="863.77" width="27.60" height="57.16" fill="#70ad47"/>
<rect x="852.30" y="840.47" width="27.60" height="23.30" fill="#a5a5a5"/>
<line x1="852.30" y1="985.55" x2="879.90" y2="985.55" stroke="#fff" stroke-width="1.1"/>
<line x1="852.30" y1="920.93" x2="879.90" y2="920.93" stroke="#fff" stroke-width="1.1"/>
<line x1="852.30" y1="863.77" x2="879.90" y2="863.77" stroke="#fff" stroke-width="1.1"/>
<line x1="866.10" y1="986.17" x2="866.10" y2="984.93" stroke="#000" stroke-width="1.7"/>
<line x1="861.20" y1="986.17" x2="871.00" y2="986.17" stroke="#000" stroke-width="2.7"/>
<line x1="861.20" y1="984.93" x2="871.00" y2="984.93" stroke="#000" stroke-width="2.7"/>
<line x1="866.10" y1="921.86" x2="866.10" y2="920.00" stroke="#000" stroke-width="1.7"/>
<line x1="861.20" y1="921.86" x2="871.00" y2="921.86" stroke="#000" stroke-width="2.7"/>
<line x1="861.20" y1="920.00" x2="871.00" y2="920.00" stroke="#000" stroke-width="2.7"/>
<line x1="866.10" y1="864.70" x2="866.10" y2="862.83" stroke="#000" stroke-width="1.7"/>
<line x1="861.20" y1="864.70" x2="871.00" y2="864.70" stroke="#000" stroke-width="2.7"/>
<line x1="861.20" y1="862.83" x2="871.00" y2="862.83" stroke="#000" stroke-width="2.7"/>
<line x1="866.10" y1="842.02" x2="866.10" y2="838.91" stroke="#000" stroke-width="1.7"/>
<line x1="861.20" y1="842.02" x2="871.00" y2="842.02" stroke="#000" stroke-width="2.7"/>
<line x1="861.20" y1="838.91" x2="871.00" y2="838.91" stroke="#000" stroke-width="2.7"/>
<rect x="900.30" y="984.46" width="27.60" height="11.34" fill="#5b9bd5"/>
<rect x="900.30" y="909.43" width="27.60" height="75.03" fill="#ed7d31"/>
<rect x="900.30" y="855.84" width="27.60" height="53.59" fill="#70ad47"/>
<rect x="900.30" y="840.47" width="27.60" height="15.38" fill="#a5a5a5"/>
<line x1="900.30" y1="984.46" x2="927.90" y2="984.46" stroke="#fff" stroke-width="1.1"/>
<line x1="900.30" y1="909.43" x2="927.90" y2="909.43" stroke="#fff" stroke-width="1.1"/>
<line x1="900.30" y1="855.84" x2="927.90" y2="855.84" stroke="#fff" stroke-width="1.1"/>
<line x1="914.10" y1="984.93" x2="914.10" y2="983.99" stroke="#000" stroke-width="1.7"/>
<line x1="909.20" y1="984.93" x2="919.00" y2="984.93" stroke="#000" stroke-width="2.7"/>
<line x1="909.20" y1="983.99" x2="919.00" y2="983.99" stroke="#000" stroke-width="2.7"/>
<line x1="914.10" y1="911.76" x2="914.10" y2="907.10" stroke="#000" stroke-width="1.7"/>
<line x1="909.20" y1="911.76" x2="919.00" y2="911.76" stroke="#000" stroke-width="2.7"/>
<line x1="909.20" y1="907.10" x2="919.00" y2="907.10" stroke="#000" stroke-width="2.7"/>
<line x1="914.10" y1="856.78" x2="914.10" y2="854.91" stroke="#000" stroke-width="1.7"/>
<line x1="909.20" y1="856.78" x2="919.00" y2="856.78" stroke="#000" stroke-width="2.7"/>
<line x1="909.20" y1="854.91" x2="919.00" y2="854.91" stroke="#000" stroke-width="2.7"/>
<line x1="914.10" y1="842.80" x2="914.10" y2="838.14" stroke="#000" stroke-width="1.7"/>
<line x1="909.20" y1="842.80" x2="919.00" y2="842.80" stroke="#000" stroke-width="2.7"/>
<line x1="909.20" y1="838.14" x2="919.00" y2="838.14" stroke="#000" stroke-width="2.7"/>
<rect x="948.50" y="986.95" width="27.60" height="8.85" fill="#5b9bd5"/>
<rect x="948.50" y="916.58" width="27.60" height="70.37" fill="#ed7d31"/>
<rect x="948.50" y="859.42" width="27.60" height="57.16" fill="#70ad47"/>
<rect x="948.50" y="840.47" width="27.60" height="18.95" fill="#a5a5a5"/>
<line x1="948.50" y1="986.95" x2="976.10" y2="986.95" stroke="#fff" stroke-width="1.1"/>
<line x1="948.50" y1="916.58" x2="976.10" y2="916.58" stroke="#fff" stroke-width="1.1"/>
<line x1="948.50" y1="859.42" x2="976.10" y2="859.42" stroke="#fff" stroke-width="1.1"/>
<line x1="962.30" y1="989.28" x2="962.30" y2="984.62" stroke="#000" stroke-width="1.7"/>
<line x1="957.40" y1="989.28" x2="967.20" y2="989.28" stroke="#000" stroke-width="2.7"/>
<line x1="957.40" y1="984.62" x2="967.20" y2="984.62" stroke="#000" stroke-width="2.7"/>
<line x1="962.30" y1="919.69" x2="962.30" y2="913.47" stroke="#000" stroke-width="1.7"/>
<line x1="957.40" y1="919.69" x2="967.20" y2="919.69" stroke="#000" stroke-width="2.7"/>
<line x1="957.40" y1="913.47" x2="967.20" y2="913.47" stroke="#000" stroke-width="2.7"/>
<line x1="962.30" y1="860.35" x2="962.30" y2="858.49" stroke="#000" stroke-width="1.7"/>
<line x1="957.40" y1="860.35" x2="967.20" y2="860.35" stroke="#000" stroke-width="2.7"/>
<line x1="957.40" y1="858.49" x2="967.20" y2="858.49" stroke="#000" stroke-width="2.7"/>
<line x1="962.30" y1="842.02" x2="962.30" y2="838.91" stroke="#000" stroke-width="1.7"/>
<line x1="957.40" y1="842.02" x2="967.20" y2="842.02" stroke="#000" stroke-width="2.7"/>
<line x1="957.40" y1="838.91" x2="967.20" y2="838.91" stroke="#000" stroke-width="2.7"/>
<rect x="996.60" y="988.03" width="27.60" height="7.77" fill="#5b9bd5"/>
<rect x="996.60" y="920.15" width="27.60" height="67.88" fill="#ed7d31"/>
<rect x="996.60" y="859.42" width="27.60" height="60.74" fill="#70ad47"/>
<rect x="996.60" y="840.47" width="27.60" height="18.95" fill="#a5a5a5"/>
<line x1="996.60" y1="988.03" x2="1024.20" y2="988.03" stroke="#fff" stroke-width="1.1"/>
<line x1="996.60" y1="920.15" x2="1024.20" y2="920.15" stroke="#fff" stroke-width="1.1"/>
<line x1="996.60" y1="859.42" x2="1024.20" y2="859.42" stroke="#fff" stroke-width="1.1"/>
<line x1="1010.40" y1="988.97" x2="1010.40" y2="987.10" stroke="#000" stroke-width="1.7"/>
<line x1="1005.50" y1="988.97" x2="1015.30" y2="988.97" stroke="#000" stroke-width="2.7"/>
<line x1="1005.50" y1="987.10" x2="1015.30" y2="987.10" stroke="#000" stroke-width="2.7"/>
<line x1="1010.40" y1="922.95" x2="1010.40" y2="917.36" stroke="#000" stroke-width="1.7"/>
<line x1="1005.50" y1="922.95" x2="1015.30" y2="922.95" stroke="#000" stroke-width="2.7"/>
<line x1="1005.50" y1="917.36" x2="1015.30" y2="917.36" stroke="#000" stroke-width="2.7"/>
<line x1="1010.40" y1="860.35" x2="1010.40" y2="858.49" stroke="#000" stroke-width="1.7"/>
<line x1="1005.50" y1="860.35" x2="1015.30" y2="860.35" stroke="#000" stroke-width="2.7"/>
<line x1="1005.50" y1="858.49" x2="1015.30" y2="858.49" stroke="#000" stroke-width="2.7"/>
<line x1="1010.40" y1="842.95" x2="1010.40" y2="837.98" stroke="#000" stroke-width="1.7"/>
<line x1="1005.50" y1="842.95" x2="1015.30" y2="842.95" stroke="#000" stroke-width="2.7"/>
<line x1="1005.50" y1="837.98" x2="1015.30" y2="837.98" stroke="#000" stroke-width="2.7"/>
<line x1="840.70" y1="995.80" x2="1034.50" y2="995.80" stroke="#000" stroke-width="2.2"/>
<line x1="841.70" y1="995.80" x2="841.70" y2="1002.80" stroke="#000" stroke-width="2.2"/>
<line x1="889.62" y1="995.80" x2="889.62" y2="1002.80" stroke="#000" stroke-width="2.2"/>
<line x1="937.55" y1="995.80" x2="937.55" y2="1002.80" stroke="#000" stroke-width="2.2"/>
<line x1="985.48" y1="995.80" x2="985.48" y2="1002.80" stroke="#000" stroke-width="2.2"/>
<line x1="1033.40" y1="995.80" x2="1033.40" y2="1002.80" stroke="#000" stroke-width="2.2"/>
<line x1="841.70" y1="808.40" x2="841.70" y2="996.80" stroke="#000" stroke-width="2.2"/>
<text x="913.50" y="961.50" font-size="22" text-anchor="middle" fill="#000" font-weight="bold" transform="translate(913.50 961.50) rotate(0) scale(1 1.04) translate(-913.50 -961.50)" stroke="#000" stroke-width="0.3">*</text>
<text x="1010.00" y="961.40" font-size="20" text-anchor="middle" fill="#000" font-weight="bold" transform="translate(1010.00 961.40) rotate(0) scale(1 1.04) translate(-1010.00 -961.40)" stroke="#000" stroke-width="0.6">#</text>
<text x="867.96" y="1022.40" font-size="22" text-anchor="middle" fill="#000" font-weight="bold" transform="translate(867.96 1022.40) rotate(0) scale(1 1.04) translate(-867.96 -1022.40)" stroke="#000" stroke-width="0.3">-</text>
<text x="915.89" y="1022.40" font-size="22" text-anchor="middle" fill="#000" font-weight="bold" transform="translate(915.89 1022.40) rotate(0) scale(1 1.04) translate(-915.89 -1022.40)" stroke="#000" stroke-width="0.3">+</text>
<text x="963.81" y="1022.40" font-size="22" text-anchor="middle" fill="#000" font-weight="bold" transform="translate(963.81 1022.40) rotate(0) scale(1 1.04) translate(-963.81 -1022.40)" stroke="#000" stroke-width="0.3">-</text>
<text x="1011.74" y="1022.40" font-size="22" text-anchor="middle" fill="#000" font-weight="bold" transform="translate(1011.74 1022.40) rotate(0) scale(1 1.04) translate(-1011.74 -1022.40)" stroke="#000" stroke-width="0.3">+</text>
<text x="1040.60" y="1022.30" font-size="22" text-anchor="start" fill="#000" font-weight="bold" transform="translate(1040.60 1022.30) rotate(0) scale(1 1.04) translate(-1040.60 -1022.30)" stroke="#000" stroke-width="0.3">IFN<tspan font-family="Liberation Serif, serif" font-weight="normal">γ</tspan> 50 ng/ml</text>
<line x1="850.00" y1="1031.80" x2="929.50" y2="1031.80" stroke="#000" stroke-width="2.0"/>
<line x1="944.00" y1="1031.80" x2="1022.50" y2="1031.80" stroke="#000" stroke-width="2.0"/>
<text x="895.00" y="1056.80" font-size="22" text-anchor="middle" fill="#000" font-weight="bold" transform="translate(895.00 1056.80) rotate(0) scale(1 1.04) translate(-895.00 -1056.80)" stroke="#000" stroke-width="0.3">Vec</text>
<text x="984.50" y="1056.80" font-size="22" text-anchor="middle" fill="#000" font-weight="bold" transform="translate(984.50 1056.80) rotate(0) scale(1 1.04) translate(-984.50 -1056.80)" stroke="#000" stroke-width="0.3">OTUB1</text>
<text x="984.50" y="1083.30" font-size="22" text-anchor="middle" fill="#000" font-weight="bold" transform="translate(984.50 1083.30) rotate(0) scale(1 1.04) translate(-984.50 -1083.30)" stroke="#000" stroke-width="0.3">Y26A</text>
<rect x="1069.70" y="795.40" width="12.30" height="12.00" fill="#5b9bd5"/>
<text x="1088.00" y="809.90" font-size="22" text-anchor="start" fill="#000" font-weight="bold" transform="translate(1088.00 809.90) rotate(0) scale(1 1.04) translate(-1088.00 -809.90)" stroke="#000" stroke-width="0.3">Sub G1</text>
<rect x="1069.70" y="818.60" width="12.30" height="12.00" fill="#ed7d31"/>
<text x="1088.00" y="833.10" font-size="22" text-anchor="start" fill="#000" font-weight="bold" transform="translate(1088.00 833.10) rotate(0) scale(1 1.04) translate(-1088.00 -833.10)" stroke="#000" stroke-width="0.3">G1/G0</text>
<rect x="1069.70" y="842.80" width="12.30" height="12.00" fill="#70ad47"/>
<text x="1088.00" y="857.30" font-size="22" text-anchor="start" fill="#000" font-weight="bold" transform="translate(1088.00 857.30) rotate(0) scale(1 1.04) translate(-1088.00 -857.30)" stroke="#000" stroke-width="0.3">S</text>
<rect x="1069.70" y="867.20" width="12.30" height="12.00" fill="#a5a5a5"/>
<text x="1088.00" y="881.70" font-size="22" text-anchor="start" fill="#000" font-weight="bold" transform="translate(1088.00 881.70) rotate(0) scale(1 1.04) translate(-1088.00 -881.70)" stroke="#000" stroke-width="0.3">G2/M</text>
<text x="945.50" y="1138.00" font-size="22" text-anchor="middle" fill="#000" font-weight="bold" transform="translate(945.50 1138.00) rotate(0) scale(1 1.04) translate(-945.50 -1138.00)" stroke="#000" stroke-width="0.3">MDA-MB-453</text>
<text x="745.50" y="1251.10" font-size="22" text-anchor="middle" fill="#000" font-weight="bold" transform="translate(745.50 1251.10) rotate(-90) scale(1 1.04) translate(-745.50 -1251.10)" stroke="#000" stroke-width="0.3">Cell cycle</text>
<text x="771.00" y="1251.10" font-size="22" text-anchor="middle" fill="#000" font-weight="bold" transform="translate(771.00 1251.10) rotate(-90) scale(1 1.04) translate(-771.00 -1251.10)" stroke="#000" stroke-width="0.3">distribution (%)</text>
<line x1="841.75" y1="1147.25" x2="841.75" y2="1336.00" stroke="#000" stroke-width="2.2"/>
<line x1="835.75" y1="1335.00" x2="841.75" y2="1335.00" stroke="#000" stroke-width="2.2"/>
<text x="815.25" y="1342.60" font-size="21.5" text-anchor="end" fill="#000" font-weight="bold" transform="translate(815.25 1342.60) rotate(0) scale(1 1.04) translate(-815.25 -1342.60)" stroke="#000" stroke-width="0.3">0</text>
<line x1="835.75" y1="1288.31" x2="841.75" y2="1288.31" stroke="#000" stroke-width="2.2"/>
<text x="815.25" y="1295.91" font-size="21.5" text-anchor="end" fill="#000" font-weight="bold" transform="translate(815.25 1295.91) rotate(0) scale(1 1.04) translate(-815.25 -1295.91)" stroke="#000" stroke-width="0.3">30</text>
<line x1="835.75" y1="1241.62" x2="841.75" y2="1241.62" stroke="#000" stroke-width="2.2"/>
<text x="815.25" y="1249.22" font-size="21.5" text-anchor="end" fill="#000" font-weight="bold" transform="translate(815.25 1249.22) rotate(0) scale(1 1.04) translate(-815.25 -1249.22)" stroke="#000" stroke-width="0.3">60</text>
<line x1="835.75" y1="1194.94" x2="841.75" y2="1194.94" stroke="#000" stroke-width="2.2"/>
<text x="815.25" y="1202.54" font-size="21.5" text-anchor="end" fill="#000" font-weight="bold" transform="translate(815.25 1202.54) rotate(0) scale(1 1.04) translate(-815.25 -1202.54)" stroke="#000" stroke-width="0.3">90</text>
<line x1="835.75" y1="1148.25" x2="841.75" y2="1148.25" stroke="#000" stroke-width="2.2"/>
<text x="815.25" y="1155.85" font-size="21.5" text-anchor="end" fill="#000" font-weight="bold" transform="translate(815.25 1155.85) rotate(0) scale(1 1.04) translate(-815.25 -1155.85)" stroke="#000" stroke-width="0.3">120</text>
<rect x="852.50" y="1317.57" width="27.50" height="17.43" fill="#5b9bd5"/>
<rect x="852.50" y="1240.07" width="27.50" height="77.50" fill="#ed7d31"/>
<rect x="852.50" y="1199.30" width="27.50" height="40.77" fill="#70ad47"/>
<rect x="852.50" y="1179.38" width="27.50" height="19.92" fill="#a5a5a5"/>
<line x1="852.50" y1="1317.57" x2="880.00" y2="1317.57" stroke="#fff" stroke-width="1.1"/>
<line x1="852.50" y1="1240.07" x2="880.00" y2="1240.07" stroke="#fff" stroke-width="1.1"/>
<line x1="852.50" y1="1199.30" x2="880.00" y2="1199.30" stroke="#fff" stroke-width="1.1"/>
<line x1="866.25" y1="1318.04" x2="866.25" y2="1317.10" stroke="#000" stroke-width="1.7"/>
<line x1="861.35" y1="1318.04" x2="871.15" y2="1318.04" stroke="#000" stroke-width="2.7"/>
<line x1="861.35" y1="1317.10" x2="871.15" y2="1317.10" stroke="#000" stroke-width="2.7"/>
<line x1="866.25" y1="1241.31" x2="866.25" y2="1238.82" stroke="#000" stroke-width="1.7"/>
<line x1="861.35" y1="1241.31" x2="871.15" y2="1241.31" stroke="#000" stroke-width="2.7"/>
<line x1="861.35" y1="1238.82" x2="871.15" y2="1238.82" stroke="#000" stroke-width="2.7"/>
<line x1="866.25" y1="1200.85" x2="866.25" y2="1197.74" stroke="#000" stroke-width="1.7"/>
<line x1="861.35" y1="1200.85" x2="871.15" y2="1200.85" stroke="#000" stroke-width="2.7"/>
<line x1="861.35" y1="1197.74" x2="871.15" y2="1197.74" stroke="#000" stroke-width="2.7"/>
<line x1="866.25" y1="1180.93" x2="866.25" y2="1177.82" stroke="#000" stroke-width="1.7"/>
<line x1="861.35" y1="1180.93" x2="871.15" y2="1180.93" stroke="#000" stroke-width="2.7"/>
<line x1="861.35" y1="1177.82" x2="871.15" y2="1177.82" stroke="#000" stroke-width="2.7"/>
<rect x="900.75" y="1320.06" width="27.50" height="14.94" fill="#5b9bd5"/>
<rect x="900.75" y="1227.15" width="27.50" height="92.91" fill="#ed7d31"/>
<rect x="900.75" y="1192.76" width="27.50" height="34.39" fill="#70ad47"/>
<rect x="900.75" y="1179.38" width="27.50" height="13.38" fill="#a5a5a5"/>
<line x1="900.75" y1="1320.06" x2="928.25" y2="1320.06" stroke="#fff" stroke-width="1.1"/>
<line x1="900.75" y1="1227.15" x2="928.25" y2="1227.15" stroke="#fff" stroke-width="1.1"/>
<line x1="900.75" y1="1192.76" x2="928.25" y2="1192.76" stroke="#fff" stroke-width="1.1"/>
<line x1="914.50" y1="1320.99" x2="914.50" y2="1319.13" stroke="#000" stroke-width="1.7"/>
<line x1="909.60" y1="1320.99" x2="919.40" y2="1320.99" stroke="#000" stroke-width="2.7"/>
<line x1="909.60" y1="1319.13" x2="919.40" y2="1319.13" stroke="#000" stroke-width="2.7"/>
<line x1="914.50" y1="1229.02" x2="914.50" y2="1225.28" stroke="#000" stroke-width="1.7"/>
<line x1="909.60" y1="1229.02" x2="919.40" y2="1229.02" stroke="#000" stroke-width="2.7"/>
<line x1="909.60" y1="1225.28" x2="919.40" y2="1225.28" stroke="#000" stroke-width="2.7"/>
<line x1="914.50" y1="1196.65" x2="914.50" y2="1188.87" stroke="#000" stroke-width="1.7"/>
<line x1="909.60" y1="1196.65" x2="919.40" y2="1196.65" stroke="#000" stroke-width="2.7"/>
<line x1="909.60" y1="1188.87" x2="919.40" y2="1188.87" stroke="#000" stroke-width="2.7"/>
<line x1="914.50" y1="1180.62" x2="914.50" y2="1178.13" stroke="#000" stroke-width="1.7"/>
<line x1="909.60" y1="1180.62" x2="919.40" y2="1180.62" stroke="#000" stroke-width="2.7"/>
<line x1="909.60" y1="1178.13" x2="919.40" y2="1178.13" stroke="#000" stroke-width="2.7"/>
<rect x="948.75" y="1317.10" width="27.50" height="17.90" fill="#5b9bd5"/>
<rect x="948.75" y="1240.07" width="27.50" height="77.03" fill="#ed7d31"/>
<rect x="948.75" y="1197.58" width="27.50" height="42.49" fill="#70ad47"/>
<rect x="948.75" y="1179.38" width="27.50" height="18.21" fill="#a5a5a5"/>
<line x1="948.75" y1="1317.10" x2="976.25" y2="1317.10" stroke="#fff" stroke-width="1.1"/>
<line x1="948.75" y1="1240.07" x2="976.25" y2="1240.07" stroke="#fff" stroke-width="1.1"/>
<line x1="948.75" y1="1197.58" x2="976.25" y2="1197.58" stroke="#fff" stroke-width="1.1"/>
<line x1="962.50" y1="1317.57" x2="962.50" y2="1316.64" stroke="#000" stroke-width="1.7"/>
<line x1="957.60" y1="1317.57" x2="967.40" y2="1317.57" stroke="#000" stroke-width="2.7"/>
<line x1="957.60" y1="1316.64" x2="967.40" y2="1316.64" stroke="#000" stroke-width="2.7"/>
<line x1="962.50" y1="1241.94" x2="962.50" y2="1238.20" stroke="#000" stroke-width="1.7"/>
<line x1="957.60" y1="1241.94" x2="967.40" y2="1241.94" stroke="#000" stroke-width="2.7"/>
<line x1="957.60" y1="1238.20" x2="967.40" y2="1238.20" stroke="#000" stroke-width="2.7"/>
<line x1="962.50" y1="1198.52" x2="962.50" y2="1196.65" stroke="#000" stroke-width="1.7"/>
<line x1="957.60" y1="1198.52" x2="967.40" y2="1198.52" stroke="#000" stroke-width="2.7"/>
<line x1="957.60" y1="1196.65" x2="967.40" y2="1196.65" stroke="#000" stroke-width="2.7"/>
<line x1="962.50" y1="1180.62" x2="962.50" y2="1178.13" stroke="#000" stroke-width="1.7"/>
<line x1="957.60" y1="1180.62" x2="967.40" y2="1180.62" stroke="#000" stroke-width="2.7"/>
<line x1="957.60" y1="1178.13" x2="967.40" y2="1178.13" stroke="#000" stroke-width="2.7"/>
<rect x="997.00" y="1319.28" width="27.50" height="15.72" fill="#5b9bd5"/>
<rect x="997.00" y="1239.13" width="27.50" height="80.15" fill="#ed7d31"/>
<rect x="997.00" y="1196.34" width="27.50" height="42.80" fill="#70ad47"/>
<rect x="997.00" y="1179.38" width="27.50" height="16.96" fill="#a5a5a5"/>
<line x1="997.00" y1="1319.28" x2="1024.50" y2="1319.28" stroke="#fff" stroke-width="1.1"/>
<line x1="997.00" y1="1239.13" x2="1024.50" y2="1239.13" stroke="#fff" stroke-width="1.1"/>
<line x1="997.00" y1="1196.34" x2="1024.50" y2="1196.34" stroke="#fff" stroke-width="1.1"/>
<line x1="1010.75" y1="1319.90" x2="1010.75" y2="1318.66" stroke="#000" stroke-width="1.7"/>
<line x1="1005.85" y1="1319.90" x2="1015.65" y2="1319.90" stroke="#000" stroke-width="2.7"/>
<line x1="1005.85" y1="1318.66" x2="1015.65" y2="1318.66" stroke="#000" stroke-width="2.7"/>
<line x1="1010.75" y1="1240.07" x2="1010.75" y2="1238.20" stroke="#000" stroke-width="1.7"/>
<line x1="1005.85" y1="1240.07" x2="1015.65" y2="1240.07" stroke="#000" stroke-width="2.7"/>
<line x1="1005.85" y1="1238.20" x2="1015.65" y2="1238.20" stroke="#000" stroke-width="2.7"/>
<line x1="1010.75" y1="1196.96" x2="1010.75" y2="1195.72" stroke="#000" stroke-width="1.7"/>
<line x1="1005.85" y1="1196.96" x2="1015.65" y2="1196.96" stroke="#000" stroke-width="2.7"/>
<line x1="1005.85" y1="1195.72" x2="1015.65" y2="1195.72" stroke="#000" stroke-width="2.7"/>
<line x1="1010.75" y1="1180.15" x2="1010.75" y2="1178.60" stroke="#000" stroke-width="1.7"/>
<line x1="1005.85" y1="1180.15" x2="1015.65" y2="1180.15" stroke="#000" stroke-width="2.7"/>
<line x1="1005.85" y1="1178.60" x2="1015.65" y2="1178.60" stroke="#000" stroke-width="2.7"/>
<line x1="840.75" y1="1335.00" x2="1036.10" y2="1335.00" stroke="#000" stroke-width="2.2"/>
<line x1="841.75" y1="1335.00" x2="841.75" y2="1342.00" stroke="#000" stroke-width="2.2"/>
<line x1="890.06" y1="1335.00" x2="890.06" y2="1342.00" stroke="#000" stroke-width="2.2"/>
<line x1="938.38" y1="1335.00" x2="938.38" y2="1342.00" stroke="#000" stroke-width="2.2"/>
<line x1="986.69" y1="1335.00" x2="986.69" y2="1342.00" stroke="#000" stroke-width="2.2"/>
<line x1="1035.00" y1="1335.00" x2="1035.00" y2="1342.00" stroke="#000" stroke-width="2.2"/>
<line x1="841.75" y1="1147.25" x2="841.75" y2="1336.00" stroke="#000" stroke-width="2.2"/>
<text x="914.00" y="1286.00" font-size="22" text-anchor="middle" fill="#000" font-weight="bold" transform="translate(914.00 1286.00) rotate(0) scale(1 1.04) translate(-914.00 -1286.00)" stroke="#000" stroke-width="0.3">*</text>
<text x="1010.00" y="1286.30" font-size="20" text-anchor="middle" fill="#000" font-weight="bold" transform="translate(1010.00 1286.30) rotate(0) scale(1 1.04) translate(-1010.00 -1286.30)" stroke="#000" stroke-width="0.6">#</text>
<text x="868.21" y="1361.60" font-size="22" text-anchor="middle" fill="#000" font-weight="bold" transform="translate(868.21 1361.60) rotate(0) scale(1 1.04) translate(-868.21 -1361.60)" stroke="#000" stroke-width="0.3">-</text>
<text x="916.52" y="1361.60" font-size="22" text-anchor="middle" fill="#000" font-weight="bold" transform="translate(916.52 1361.60) rotate(0) scale(1 1.04) translate(-916.52 -1361.60)" stroke="#000" stroke-width="0.3">+</text>
<text x="964.83" y="1361.60" font-size="22" text-anchor="middle" fill="#000" font-weight="bold" transform="translate(964.83 1361.60) rotate(0) scale(1 1.04) translate(-964.83 -1361.60)" stroke="#000" stroke-width="0.3">-</text>
<text x="1013.14" y="1361.60" font-size="22" text-anchor="middle" fill="#000" font-weight="bold" transform="translate(1013.14 1361.60) rotate(0) scale(1 1.04) translate(-1013.14 -1361.60)" stroke="#000" stroke-width="0.3">+</text>
<text x="1041.25" y="1361.50" font-size="22" text-anchor="start" fill="#000" font-weight="bold" transform="translate(1041.25 1361.50) rotate(0) scale(1 1.04) translate(-1041.25 -1361.50)" stroke="#000" stroke-width="0.3">IFN<tspan font-family="Liberation Serif, serif" font-weight="normal">γ</tspan> 50 ng/ml</text>
<line x1="850.00" y1="1371.00" x2="929.50" y2="1371.00" stroke="#000" stroke-width="2.0"/>
<line x1="944.00" y1="1371.00" x2="1022.50" y2="1371.00" stroke="#000" stroke-width="2.0"/>
<text x="894.50" y="1396.00" font-size="22" text-anchor="middle" fill="#000" font-weight="bold" transform="translate(894.50 1396.00) rotate(0) scale(1 1.04) translate(-894.50 -1396.00)" stroke="#000" stroke-width="0.3">Vec</text>
<text x="983.75" y="1396.00" font-size="22" text-anchor="middle" fill="#000" font-weight="bold" transform="translate(983.75 1396.00) rotate(0) scale(1 1.04) translate(-983.75 -1396.00)" stroke="#000" stroke-width="0.3">OTUB1</text>
<text x="983.75" y="1422.50" font-size="22" text-anchor="middle" fill="#000" font-weight="bold" transform="translate(983.75 1422.50) rotate(0) scale(1 1.04) translate(-983.75 -1422.50)" stroke="#000" stroke-width="0.3">Y26A</text>
<rect x="1069.70" y="1151.25" width="12.30" height="12.00" fill="#5b9bd5"/>
<text x="1088.00" y="1165.75" font-size="22" text-anchor="start" fill="#000" font-weight="bold" transform="translate(1088.00 1165.75) rotate(0) scale(1 1.04) translate(-1088.00 -1165.75)" stroke="#000" stroke-width="0.3">Sub G1</text>
<rect x="1069.70" y="1175.20" width="12.30" height="12.00" fill="#ed7d31"/>
<text x="1088.00" y="1189.70" font-size="22" text-anchor="start" fill="#000" font-weight="bold" transform="translate(1088.00 1189.70) rotate(0) scale(1 1.04) translate(-1088.00 -1189.70)" stroke="#000" stroke-width="0.3">G1/G0</text>
<rect x="1069.70" y="1199.50" width="12.30" height="12.00" fill="#70ad47"/>
<text x="1088.00" y="1214.00" font-size="22" text-anchor="start" fill="#000" font-weight="bold" transform="translate(1088.00 1214.00) rotate(0) scale(1 1.04) translate(-1088.00 -1214.00)" stroke="#000" stroke-width="0.3">S</text>
<rect x="1069.70" y="1225.00" width="12.30" height="12.00" fill="#a5a5a5"/>
<text x="1088.00" y="1239.50" font-size="22" text-anchor="start" fill="#000" font-weight="bold" transform="translate(1088.00 1239.50) rotate(0) scale(1 1.04) translate(-1088.00 -1239.50)" stroke="#000" stroke-width="0.3">G2/M</text>
<text x="1456.50" y="574.60" font-size="22" text-anchor="middle" fill="#000" font-weight="bold" transform="translate(1456.50 574.60) rotate(-90) scale(1 1.04) translate(-1456.50 -574.60)" stroke="#000" stroke-width="0.3">EdU positive cells</text>
<text x="1484.50" y="573.40" font-size="22" text-anchor="middle" fill="#000" font-weight="bold" transform="translate(1484.50 573.40) rotate(-90) scale(1 1.04) translate(-1484.50 -573.40)" stroke="#000" stroke-width="0.3">(per field)</text>
<line x1="1539.50" y1="483.50" x2="1539.50" y2="625.60" stroke="#000" stroke-width="2.2"/>
<line x1="1533.50" y1="624.60" x2="1539.50" y2="624.60" stroke="#000" stroke-width="2.2"/>
<text x="1520.50" y="632.20" font-size="21.5" text-anchor="end" fill="#000" font-weight="bold" transform="translate(1520.50 632.20) rotate(0) scale(1 1.04) translate(-1520.50 -632.20)" stroke="#000" stroke-width="0.3">0</text>
<line x1="1533.50" y1="577.90" x2="1539.50" y2="577.90" stroke="#000" stroke-width="2.2"/>
<text x="1520.50" y="585.50" font-size="21.5" text-anchor="end" fill="#000" font-weight="bold" transform="translate(1520.50 585.50) rotate(0) scale(1 1.04) translate(-1520.50 -585.50)" stroke="#000" stroke-width="0.3">10</text>
<line x1="1533.50" y1="531.20" x2="1539.50" y2="531.20" stroke="#000" stroke-width="2.2"/>
<text x="1520.50" y="538.80" font-size="21.5" text-anchor="end" fill="#000" font-weight="bold" transform="translate(1520.50 538.80) rotate(0) scale(1 1.04) translate(-1520.50 -538.80)" stroke="#000" stroke-width="0.3">20</text>
<line x1="1533.50" y1="484.50" x2="1539.50" y2="484.50" stroke="#000" stroke-width="2.2"/>
<text x="1520.50" y="492.10" font-size="21.5" text-anchor="end" fill="#000" font-weight="bold" transform="translate(1520.50 492.10) rotate(0) scale(1 1.04) translate(-1520.50 -492.10)" stroke="#000" stroke-width="0.3">30</text>
<line x1="1538.50" y1="624.60" x2="1723.10" y2="624.60" stroke="#000" stroke-width="2.2"/>
<line x1="1539.50" y1="624.60" x2="1539.50" y2="631.60" stroke="#000" stroke-width="2.2"/>
<line x1="1576.00" y1="624.60" x2="1576.00" y2="631.60" stroke="#000" stroke-width="2.2"/>
<line x1="1612.50" y1="624.60" x2="1612.50" y2="631.60" stroke="#000" stroke-width="2.2"/>
<line x1="1649.00" y1="624.60" x2="1649.00" y2="631.60" stroke="#000" stroke-width="2.2"/>
<line x1="1685.50" y1="624.60" x2="1685.50" y2="631.60" stroke="#000" stroke-width="2.2"/>
<line x1="1722.00" y1="624.60" x2="1722.00" y2="631.60" stroke="#000" stroke-width="2.2"/>
<rect x="1585.60" y="514.86" width="18.00" height="108.75" fill="#5b9bd5"/>
<line x1="1594.60" y1="526.06" x2="1594.60" y2="502.71" stroke="#000" stroke-width="1.6"/>
<line x1="1590.00" y1="526.06" x2="1599.20" y2="526.06" stroke="#000" stroke-width="2.2"/>
<line x1="1590.00" y1="502.71" x2="1599.20" y2="502.71" stroke="#000" stroke-width="2.2"/>
<rect x="1622.30" y="609.19" width="18.00" height="14.41" fill="#5b9bd5"/>
<line x1="1631.30" y1="616.66" x2="1631.30" y2="602.18" stroke="#000" stroke-width="1.6"/>
<line x1="1626.70" y1="616.66" x2="1635.90" y2="616.66" stroke="#000" stroke-width="2.2"/>
<line x1="1626.70" y1="602.18" x2="1635.90" y2="602.18" stroke="#000" stroke-width="2.2"/>
<rect x="1658.80" y="525.13" width="18.00" height="98.47" fill="#5b9bd5"/>
<line x1="1667.80" y1="534.94" x2="1667.80" y2="515.79" stroke="#000" stroke-width="1.6"/>
<line x1="1663.20" y1="534.94" x2="1672.40" y2="534.94" stroke="#000" stroke-width="2.2"/>
<line x1="1663.20" y1="515.79" x2="1672.40" y2="515.79" stroke="#000" stroke-width="2.2"/>
<rect x="1695.30" y="530.27" width="18.00" height="93.33" fill="#5b9bd5"/>
<line x1="1704.30" y1="534.94" x2="1704.30" y2="524.66" stroke="#000" stroke-width="1.6"/>
<line x1="1699.70" y1="534.94" x2="1708.90" y2="534.94" stroke="#000" stroke-width="2.2"/>
<line x1="1699.70" y1="524.66" x2="1708.90" y2="524.66" stroke="#000" stroke-width="2.2"/>
<text x="1630.80" y="599.40" font-size="22" text-anchor="middle" fill="#000" font-weight="bold" transform="translate(1630.80 599.40) rotate(0) scale(1 1.04) translate(-1630.80 -599.40)" stroke="#000" stroke-width="0.3">*</text>
<text x="1704.30" y="510.50" font-size="22" text-anchor="middle" fill="#000" font-weight="bold" transform="translate(1704.30 510.50) rotate(0) scale(1 1.04) translate(-1704.30 -510.50)" stroke="#000" stroke-width="0.6">#</text>
<text x="1594.25" y="648.20" font-size="22" text-anchor="middle" fill="#000" font-weight="bold" transform="translate(1594.25 648.20) rotate(0) scale(1 1.04) translate(-1594.25 -648.20)" stroke="#000" stroke-width="0.3">-</text>
<text x="1630.75" y="648.20" font-size="22" text-anchor="middle" fill="#000" font-weight="bold" transform="translate(1630.75 648.20) rotate(0) scale(1 1.04) translate(-1630.75 -648.20)" stroke="#000" stroke-width="0.3">+</text>
<text x="1667.25" y="648.20" font-size="22" text-anchor="middle" fill="#000" font-weight="bold" transform="translate(1667.25 648.20) rotate(0) scale(1 1.04) translate(-1667.25 -648.20)" stroke="#000" stroke-width="0.3">-</text>
<text x="1703.75" y="648.20" font-size="22" text-anchor="middle" fill="#000" font-weight="bold" transform="translate(1703.75 648.20) rotate(0) scale(1 1.04) translate(-1703.75 -648.20)" stroke="#000" stroke-width="0.3">+</text>
<text x="1729.60" y="648.10" font-size="22" text-anchor="start" fill="#000" font-weight="bold" transform="translate(1729.60 648.10) rotate(0) scale(1 1.04) translate(-1729.60 -648.10)" stroke="#000" stroke-width="0.3">IFN<tspan font-family="Liberation Serif, serif" font-weight="normal">γ</tspan> 50 ng/ml</text>
<line x1="1578.40" y1="657.80" x2="1643.90" y2="657.80" stroke="#000" stroke-width="2.0"/>
<line x1="1654.00" y1="657.80" x2="1719.50" y2="657.80" stroke="#000" stroke-width="2.0"/>
<text x="1611.30" y="683.10" font-size="22" text-anchor="middle" fill="#000" font-weight="bold" transform="translate(1611.30 683.10) rotate(0) scale(1 1.04) translate(-1611.30 -683.10)" stroke="#000" stroke-width="0.3">Cont</text>
<text x="1611.30" y="710.10" font-size="22" text-anchor="middle" fill="#000" font-weight="bold" transform="translate(1611.30 710.10) rotate(0) scale(1 1.04) translate(-1611.30 -710.10)" stroke="#000" stroke-width="0.3">siRNA</text>
<text x="1689.50" y="683.10" font-size="22" text-anchor="middle" fill="#000" font-weight="bold" transform="translate(1689.50 683.10) rotate(0) scale(1 1.04) translate(-1689.50 -683.10)" stroke="#000" stroke-width="0.3">OTUB1</text>
<text x="1690.30" y="710.10" font-size="22" text-anchor="middle" fill="#000" font-weight="bold" transform="translate(1690.30 710.10) rotate(0) scale(1 1.04) translate(-1690.30 -710.10)" stroke="#000" stroke-width="0.3">siRNA</text>
<text x="1567.50" y="646.50" font-size="22.5" text-anchor="end" fill="#000" font-weight="bold" transform="translate(1567.50 646.50) rotate(-43) scale(1 1.04) translate(-1567.50 -646.50)" stroke="#000" stroke-width="0.3">Unstrained</text>
<text x="1456.50" y="1291.00" font-size="22" text-anchor="middle" fill="#000" font-weight="bold" transform="translate(1456.50 1291.00) rotate(-90) scale(1 1.04) translate(-1456.50 -1291.00)" stroke="#000" stroke-width="0.3">Edu positive cells</text>
<text x="1484.50" y="1288.60" font-size="22" text-anchor="middle" fill="#000" font-weight="bold" transform="translate(1484.50 1288.60) rotate(-90) scale(1 1.04) translate(-1484.50 -1288.60)" stroke="#000" stroke-width="0.3">(per field)</text>
<line x1="1539.50" y1="1203.70" x2="1539.50" y2="1345.90" stroke="#000" stroke-width="2.2"/>
<line x1="1533.50" y1="1344.90" x2="1539.50" y2="1344.90" stroke="#000" stroke-width="2.2"/>
<text x="1520.50" y="1352.50" font-size="21.5" text-anchor="end" fill="#000" font-weight="bold" transform="translate(1520.50 1352.50) rotate(0) scale(1 1.04) translate(-1520.50 -1352.50)" stroke="#000" stroke-width="0.3">0</text>
<line x1="1533.50" y1="1298.17" x2="1539.50" y2="1298.17" stroke="#000" stroke-width="2.2"/>
<text x="1520.50" y="1305.77" font-size="21.5" text-anchor="end" fill="#000" font-weight="bold" transform="translate(1520.50 1305.77) rotate(0) scale(1 1.04) translate(-1520.50 -1305.77)" stroke="#000" stroke-width="0.3">10</text>
<line x1="1533.50" y1="1251.43" x2="1539.50" y2="1251.43" stroke="#000" stroke-width="2.2"/>
<text x="1520.50" y="1259.03" font-size="21.5" text-anchor="end" fill="#000" font-weight="bold" transform="translate(1520.50 1259.03) rotate(0) scale(1 1.04) translate(-1520.50 -1259.03)" stroke="#000" stroke-width="0.3">20</text>
<line x1="1533.50" y1="1204.70" x2="1539.50" y2="1204.70" stroke="#000" stroke-width="2.2"/>
<text x="1520.50" y="1212.30" font-size="21.5" text-anchor="end" fill="#000" font-weight="bold" transform="translate(1520.50 1212.30) rotate(0) scale(1 1.04) translate(-1520.50 -1212.30)" stroke="#000" stroke-width="0.3">30</text>
<line x1="1538.50" y1="1344.90" x2="1723.10" y2="1344.90" stroke="#000" stroke-width="2.2"/>
<line x1="1539.50" y1="1344.90" x2="1539.50" y2="1351.90" stroke="#000" stroke-width="2.2"/>
<line x1="1576.00" y1="1344.90" x2="1576.00" y2="1351.90" stroke="#000" stroke-width="2.2"/>
<line x1="1612.50" y1="1344.90" x2="1612.50" y2="1351.90" stroke="#000" stroke-width="2.2"/>
<line x1="1649.00" y1="1344.90" x2="1649.00" y2="1351.90" stroke="#000" stroke-width="2.2"/>
<line x1="1685.50" y1="1344.90" x2="1685.50" y2="1351.90" stroke="#000" stroke-width="2.2"/>
<line x1="1722.00" y1="1344.90" x2="1722.00" y2="1351.90" stroke="#000" stroke-width="2.2"/>
<rect x="1585.60" y="1234.61" width="18.00" height="109.29" fill="#5b9bd5"/>
<line x1="1594.60" y1="1262.18" x2="1594.60" y2="1207.04" stroke="#000" stroke-width="1.6"/>
<line x1="1590.00" y1="1262.18" x2="1599.20" y2="1262.18" stroke="#000" stroke-width="2.2"/>
<line x1="1590.00" y1="1207.04" x2="1599.20" y2="1207.04" stroke="#000" stroke-width="2.2"/>
<rect x="1622.30" y="1329.48" width="18.00" height="14.42" fill="#5b9bd5"/>
<line x1="1631.30" y1="1338.82" x2="1631.30" y2="1319.20" stroke="#000" stroke-width="1.6"/>
<line x1="1626.70" y1="1338.82" x2="1635.90" y2="1338.82" stroke="#000" stroke-width="2.2"/>
<line x1="1626.70" y1="1319.20" x2="1635.90" y2="1319.20" stroke="#000" stroke-width="2.2"/>
<rect x="1658.80" y="1245.36" width="18.00" height="98.54" fill="#5b9bd5"/>
<line x1="1667.80" y1="1264.52" x2="1667.80" y2="1225.73" stroke="#000" stroke-width="1.6"/>
<line x1="1663.20" y1="1264.52" x2="1672.40" y2="1264.52" stroke="#000" stroke-width="2.2"/>
<line x1="1663.20" y1="1225.73" x2="1672.40" y2="1225.73" stroke="#000" stroke-width="2.2"/>
<rect x="1695.30" y="1250.03" width="18.00" height="93.87" fill="#5b9bd5"/>
<line x1="1704.30" y1="1271.53" x2="1704.30" y2="1229.00" stroke="#000" stroke-width="1.6"/>
<line x1="1699.70" y1="1271.53" x2="1708.90" y2="1271.53" stroke="#000" stroke-width="2.2"/>
<line x1="1699.70" y1="1229.00" x2="1708.90" y2="1229.00" stroke="#000" stroke-width="2.2"/>
<text x="1630.50" y="1314.60" font-size="22" text-anchor="middle" fill="#000" font-weight="bold" transform="translate(1630.50 1314.60) rotate(0) scale(1 1.04) translate(-1630.50 -1314.60)" stroke="#000" stroke-width="0.3">*</text>
<text x="1703.90" y="1213.90" font-size="22" text-anchor="middle" fill="#000" font-weight="bold" transform="translate(1703.90 1213.90) rotate(0) scale(1 1.04) translate(-1703.90 -1213.90)" stroke="#000" stroke-width="0.6">#</text>
<text x="1594.25" y="1368.50" font-size="22" text-anchor="middle" fill="#000" font-weight="bold" transform="translate(1594.25 1368.50) rotate(0) scale(1 1.04) translate(-1594.25 -1368.50)" stroke="#000" stroke-width="0.3">-</text>
<text x="1630.75" y="1368.50" font-size="22" text-anchor="middle" fill="#000" font-weight="bold" transform="translate(1630.75 1368.50) rotate(0) scale(1 1.04) translate(-1630.75 -1368.50)" stroke="#000" stroke-width="0.3">+</text>
<text x="1667.25" y="1368.50" font-size="22" text-anchor="middle" fill="#000" font-weight="bold" transform="translate(1667.25 1368.50) rotate(0) scale(1 1.04) translate(-1667.25 -1368.50)" stroke="#000" stroke-width="0.3">-</text>
<text x="1703.75" y="1368.50" font-size="22" text-anchor="middle" fill="#000" font-weight="bold" transform="translate(1703.75 1368.50) rotate(0) scale(1 1.04) translate(-1703.75 -1368.50)" stroke="#000" stroke-width="0.3">+</text>
<text x="1729.60" y="1368.40" font-size="22" text-anchor="start" fill="#000" font-weight="bold" transform="translate(1729.60 1368.40) rotate(0) scale(1 1.04) translate(-1729.60 -1368.40)" stroke="#000" stroke-width="0.3">IFN<tspan font-family="Liberation Serif, serif" font-weight="normal">γ</tspan> 50 ng/ml</text>
<line x1="1578.40" y1="1378.10" x2="1643.90" y2="1378.10" stroke="#000" stroke-width="2.0"/>
<line x1="1654.00" y1="1378.10" x2="1719.50" y2="1378.10" stroke="#000" stroke-width="2.0"/>
<text x="1611.30" y="1403.40" font-size="22" text-anchor="middle" fill="#000" font-weight="bold" transform="translate(1611.30 1403.40) rotate(0) scale(1 1.04) translate(-1611.30 -1403.40)" stroke="#000" stroke-width="0.3">Vec</text>
<text x="1689.50" y="1403.40" font-size="22" text-anchor="middle" fill="#000" font-weight="bold" transform="translate(1689.50 1403.40) rotate(0) scale(1 1.04) translate(-1689.50 -1403.40)" stroke="#000" stroke-width="0.3">OTUB1</text>
<text x="1690.30" y="1430.40" font-size="22" text-anchor="middle" fill="#000" font-weight="bold" transform="translate(1690.30 1430.40) rotate(0) scale(1 1.04) translate(-1690.30 -1430.40)" stroke="#000" stroke-width="0.3">Y26A</text>
<text x="1567.50" y="1366.50" font-size="22.5" text-anchor="end" fill="#000" font-weight="bold" transform="translate(1567.50 1366.50) rotate(-43) scale(1 1.04) translate(-1567.50 -1366.50)" stroke="#000" stroke-width="0.3">Unstrained</text>
<text x="1353.00" y="96.80" font-size="22" text-anchor="middle" fill="#000" font-weight="bold" transform="translate(1353.00 96.80) rotate(0) scale(1 1.04) translate(-1353.00 -96.80)" stroke="#000" stroke-width="0.3">Unstrained</text>
<text x="1482.00" y="95.60" font-size="22" text-anchor="middle" fill="#000" font-weight="bold" transform="translate(1482.00 95.60) rotate(0) scale(1 1.04) translate(-1482.00 -95.60)" stroke="#000" stroke-width="0.3">-</text>
<text x="1619.80" y="95.60" font-size="22" text-anchor="middle" fill="#000" font-weight="bold" transform="translate(1619.80 95.60) rotate(0) scale(1 1.04) translate(-1619.80 -95.60)" stroke="#000" stroke-width="0.3">+</text>
<text x="1746.00" y="95.60" font-size="22" text-anchor="middle" fill="#000" font-weight="bold" transform="translate(1746.00 95.60) rotate(0) scale(1 1.04) translate(-1746.00 -95.60)" stroke="#000" stroke-width="0.3">-</text>
<text x="1878.30" y="95.60" font-size="22" text-anchor="middle" fill="#000" font-weight="bold" transform="translate(1878.30 95.60) rotate(0) scale(1 1.04) translate(-1878.30 -95.60)" stroke="#000" stroke-width="0.3">+</text>
<text x="1952.00" y="96.80" font-size="22" text-anchor="start" fill="#000" font-weight="bold" transform="translate(1952.00 96.80) rotate(0) scale(1 1.04) translate(-1952.00 -96.80)" stroke="#000" stroke-width="0.3">IFN<tspan font-family="Liberation Serif, serif" font-weight="normal">γ</tspan></text>
<line x1="1424.00" y1="68.00" x2="1672.80" y2="68.00" stroke="#000" stroke-width="2.0"/>
<line x1="1688.80" y1="68.00" x2="1938.00" y2="68.00" stroke="#000" stroke-width="2.0"/>
<text x="1553.90" y="54.80" font-size="22" text-anchor="middle" fill="#000" font-weight="bold" transform="translate(1553.90 54.80) rotate(0) scale(1 1.04) translate(-1553.90 -54.80)" stroke="#000" stroke-width="0.3">Cont siRNA</text>
<text x="1818.80" y="54.80" font-size="22" text-anchor="middle" fill="#000" font-weight="bold" transform="translate(1818.80 54.80) rotate(0) scale(1 1.04) translate(-1818.80 -54.80)" stroke="#000" stroke-width="0.3">OTUB1 siRNA</text>
<text x="1271.20" y="163.50" font-size="22" text-anchor="middle" fill="#0000ff" font-weight="bold" transform="translate(1271.20 163.50) rotate(-90) scale(1 1.04) translate(-1271.20 -163.50)" stroke="#0000ff" stroke-width="0.3">DAPI</text>
<text x="1271.20" y="279.50" font-size="22" text-anchor="middle" fill="#00b050" font-weight="bold" transform="translate(1271.20 279.50) rotate(-90) scale(1 1.04) translate(-1271.20 -279.50)" stroke="#00b050" stroke-width="0.3">EdU</text>
<text x="1271.20" y="407.00" font-size="22" text-anchor="middle" fill="#000" font-weight="bold" transform="translate(1271.20 407.00) rotate(-90) scale(1 1.04) translate(-1271.20 -407.00)" stroke="#000" stroke-width="0.3">Merge</text>
<text x="1967.70" y="485.90" font-size="22" text-anchor="end" fill="#000" font-weight="bold" transform="translate(1967.70 485.90) rotate(0) scale(1 1.04) translate(-1967.70 -485.90)" stroke="#000" stroke-width="0.3">Scale bar=100 <tspan font-family="Liberation Serif, serif" font-weight="normal">μ</tspan>m</text>
<text x="1353.00" y="817.20" font-size="22" text-anchor="middle" fill="#000" font-weight="bold" transform="translate(1353.00 817.20) rotate(0) scale(1 1.04) translate(-1353.00 -817.20)" stroke="#000" stroke-width="0.3">Unstrained</text>
<text x="1482.00" y="816.00" font-size="22" text-anchor="middle" fill="#000" font-weight="bold" transform="translate(1482.00 816.00) rotate(0) scale(1 1.04) translate(-1482.00 -816.00)" stroke="#000" stroke-width="0.3">-</text>
<text x="1619.80" y="816.00" font-size="22" text-anchor="middle" fill="#000" font-weight="bold" transform="translate(1619.80 816.00) rotate(0) scale(1 1.04) translate(-1619.80 -816.00)" stroke="#000" stroke-width="0.3">+</text>
<text x="1746.00" y="816.00" font-size="22" text-anchor="middle" fill="#000" font-weight="bold" transform="translate(1746.00 816.00) rotate(0) scale(1 1.04) translate(-1746.00 -816.00)" stroke="#000" stroke-width="0.3">-</text>
<text x="1878.30" y="816.00" font-size="22" text-anchor="middle" fill="#000" font-weight="bold" transform="translate(1878.30 816.00) rotate(0) scale(1 1.04) translate(-1878.30 -816.00)" stroke="#000" stroke-width="0.3">+</text>
<text x="1952.00" y="817.20" font-size="22" text-anchor="start" fill="#000" font-weight="bold" transform="translate(1952.00 817.20) rotate(0) scale(1 1.04) translate(-1952.00 -817.20)" stroke="#000" stroke-width="0.3">IFN<tspan font-family="Liberation Serif, serif" font-weight="normal">γ</tspan></text>
<line x1="1424.00" y1="787.20" x2="1672.80" y2="787.20" stroke="#000" stroke-width="2.0"/>
<line x1="1688.80" y1="787.20" x2="1938.00" y2="787.20" stroke="#000" stroke-width="2.0"/>
<text x="1553.90" y="772.00" font-size="22" text-anchor="middle" fill="#000" font-weight="bold" transform="translate(1553.90 772.00) rotate(0) scale(1 1.04) translate(-1553.90 -772.00)" stroke="#000" stroke-width="0.3">Vec</text>
<text x="1839.20" y="772.00" font-size="22" text-anchor="middle" fill="#000" font-weight="bold" transform="translate(1839.20 772.00) rotate(0) scale(1 1.04) translate(-1839.20 -772.00)" stroke="#000" stroke-width="0.3">OTUB1 Y26A</text>
<text x="1271.20" y="884.70" font-size="22" text-anchor="middle" fill="#0000ff" font-weight="bold" transform="translate(1271.20 884.70) rotate(-90) scale(1 1.04) translate(-1271.20 -884.70)" stroke="#0000ff" stroke-width="0.3">DAPI</text>
<text x="1271.20" y="991.80" font-size="22" text-anchor="middle" fill="#00b050" font-weight="bold" transform="translate(1271.20 991.80) rotate(-90) scale(1 1.04) translate(-1271.20 -991.80)" stroke="#00b050" stroke-width="0.3">EdU</text>
<text x="1271.20" y="1103.00" font-size="22" text-anchor="middle" fill="#000" font-weight="bold" transform="translate(1271.20 1103.00) rotate(-90) scale(1 1.04) translate(-1271.20 -1103.00)" stroke="#000" stroke-width="0.3">Merge</text>
<text x="1967.70" y="1208.50" font-size="22" text-anchor="end" fill="#000" font-weight="bold" transform="translate(1967.70 1208.50) rotate(0) scale(1 1.04) translate(-1967.70 -1208.50)" stroke="#000" stroke-width="0.3">Scale bar=100 <tspan font-family="Liberation Serif, serif" font-weight="normal">μ</tspan>m</text>
<defs><filter id="bl" x="-5%" y="-5%" width="110%" height="110%"><feGaussianBlur stdDeviation="0.75"/></filter><filter id="bl2" x="-50%" y="-50%" width="200%" height="200%"><feGaussianBlur stdDeviation="3"/></filter><filter id="bl3" x="-50%" y="-50%" width="200%" height="200%"><feGaussianBlur stdDeviation="7"/></filter><filter id="mott" x="-30%" y="-30%" width="160%" height="160%"><feGaussianBlur in="SourceGraphic" stdDeviation="6" result="b"/><feTurbulence type="fractalNoise" baseFrequency="0.45" numOctaves="2" seed="5" result="n"/><feColorMatrix in="n" type="matrix" values="0 0 0 0 0  0 0 0 0 0  0 0 0 0 0  2.2 0 0 0 -0.75" result="a"/><feComposite in="b" in2="a" operator="in"/></filter></defs>
<clipPath id="cp1"><rect x="1285.10" y="105.40" width="129.20" height="117.30"/></clipPath>
<rect x="1285.10" y="105.40" width="129.20" height="117.30" fill="#00000c"/>
<g clip-path="url(#cp1)"><g filter="url(#bl)"><ellipse cx="1300.5" cy="148.7" rx="2.90" ry="3.70" fill="#0000ff"/><ellipse cx="1331.2" cy="147.3" rx="2.30" ry="2.30" fill="#0000ff"/><ellipse cx="1337.1" cy="146.3" rx="2.50" ry="2.50" fill="#0000ff"/><ellipse cx="1349.1" cy="144.9" rx="2.30" ry="3.00" fill="#0000ff"/><ellipse cx="1329.0" cy="154.8" rx="2.70" ry="3.30" fill="#0000ff" transform="rotate(20 1329.0 154.8)"/><ellipse cx="1336.5" cy="154.3" rx="2.00" ry="2.00" fill="#0000ff"/><ellipse cx="1336.9" cy="161.2" rx="1.20" ry="1.20" fill="#0000ff" opacity="0.6"/><ellipse cx="1319.7" cy="165.3" rx="2.70" ry="3.50" fill="#0000ff" transform="rotate(20 1319.7 165.3)"/><ellipse cx="1361.0" cy="160.4" rx="3.30" ry="2.30" fill="#0000ff" transform="rotate(35 1361.0 160.4)"/><ellipse cx="1367.5" cy="169.5" rx="2.20" ry="2.20" fill="#0000ff"/><ellipse cx="1376.9" cy="165.3" rx="2.20" ry="2.20" fill="#0000ff"/><ellipse cx="1384.3" cy="165.5" rx="2.50" ry="2.50" fill="#0000ff"/><ellipse cx="1380.2" cy="170.8" rx="2.20" ry="2.20" fill="#0000ff"/><ellipse cx="1384.3" cy="172.8" rx="2.00" ry="2.00" fill="#0000ff"/><ellipse cx="1382.2" cy="168.3" rx="2.00" ry="2.00" fill="#0000ff"/><ellipse cx="1395.5" cy="152.8" rx="2.70" ry="3.30" fill="#0000ff"/><ellipse cx="1323.4" cy="189.6" rx="2.80" ry="3.30" fill="#0000ff" transform="rotate(-20 1323.4 189.6)"/><ellipse cx="1334.2" cy="192.3" rx="2.20" ry="3.00" fill="#0000ff" opacity="0.9"/><ellipse cx="1345.9" cy="186.7" rx="2.30" ry="2.30" fill="#0000ff"/><ellipse cx="1360.2" cy="198.5" rx="2.80" ry="3.50" fill="#0000ff"/><ellipse cx="1339.3" cy="206.7" rx="5.30" ry="5.00" fill="#0000ff"/></g></g>
<clipPath id="cp2"><rect x="1285.10" y="227.10" width="129.20" height="117.30"/></clipPath>
<rect x="1285.10" y="227.10" width="129.20" height="117.30" fill="#061206"/>
<g clip-path="url(#cp2)"><g filter="url(#bl)"></g></g>
<clipPath id="cp3"><rect x="1285.10" y="348.40" width="129.20" height="117.30"/></clipPath>
<rect x="1285.10" y="348.40" width="129.20" height="117.30" fill="#03100a"/>
<g clip-path="url(#cp3)"><g filter="url(#bl)"><ellipse cx="1300.5" cy="391.7" rx="2.90" ry="3.70" fill="#0000ff"/><ellipse cx="1331.2" cy="390.3" rx="2.30" ry="2.30" fill="#0000ff"/><ellipse cx="1337.1" cy="389.3" rx="2.50" ry="2.50" fill="#0000ff"/><ellipse cx="1349.1" cy="387.9" rx="2.30" ry="3.00" fill="#0000ff"/><ellipse cx="1329.0" cy="397.8" rx="2.70" ry="3.30" fill="#0000ff" transform="rotate(20 1329.0 397.8)"/><ellipse cx="1336.5" cy="397.3" rx="2.00" ry="2.00" fill="#0000ff"/><ellipse cx="1336.9" cy="404.2" rx="1.20" ry="1.20" fill="#0000ff" opacity="0.6"/><ellipse cx="1319.7" cy="408.3" rx="2.70" ry="3.50" fill="#0000ff" transform="rotate(20 1319.7 408.3)"/><ellipse cx="1361.0" cy="403.4" rx="3.30" ry="2.30" fill="#0000ff" transform="rotate(35 1361.0 403.4)"/><ellipse cx="1367.5" cy="412.5" rx="2.20" ry="2.20" fill="#0000ff"/><ellipse cx="1376.9" cy="408.3" rx="2.20" ry="2.20" fill="#0000ff"/><ellipse cx="1384.3" cy="408.5" rx="2.50" ry="2.50" fill="#0000ff"/><ellipse cx="1380.2" cy="413.8" rx="2.20" ry="2.20" fill="#0000ff"/><ellipse cx="1384.3" cy="415.8" rx="2.00" ry="2.00" fill="#0000ff"/><ellipse cx="1382.2" cy="411.3" rx="2.00" ry="2.00" fill="#0000ff"/><ellipse cx="1395.5" cy="395.8" rx="2.70" ry="3.30" fill="#0000ff"/><ellipse cx="1323.4" cy="432.6" rx="2.80" ry="3.30" fill="#0000ff" transform="rotate(-20 1323.4 432.6)"/><ellipse cx="1334.2" cy="435.3" rx="2.20" ry="3.00" fill="#0000ff" opacity="0.9"/><ellipse cx="1345.9" cy="429.7" rx="2.30" ry="2.30" fill="#0000ff"/><ellipse cx="1360.2" cy="441.5" rx="2.80" ry="3.50" fill="#0000ff"/><ellipse cx="1339.3" cy="449.7" rx="5.30" ry="5.00" fill="#0000ff"/></g></g>
<clipPath id="cp4"><rect x="1417.70" y="105.40" width="129.20" height="117.30"/></clipPath>
<rect x="1417.70" y="105.40" width="129.20" height="117.30" fill="#000008"/>
<g clip-path="url(#cp4)"><g filter="url(#bl)"><ellipse cx="1431.3" cy="106.6" rx="2.50" ry="2.50" fill="#0000ff"/><ellipse cx="1448.5" cy="106.6" rx="2.50" ry="2.50" fill="#0000ff"/><ellipse cx="1441.1" cy="115.6" rx="3.30" ry="2.20" fill="#0000ff" transform="rotate(40 1441.1 115.6)"/><ellipse cx="1466.7" cy="110.6" rx="2.50" ry="1.80" fill="#0000ff" transform="rotate(-30 1466.7 110.6)"/><ellipse cx="1426.8" cy="128.7" rx="3.00" ry="2.50" fill="#0000ff" transform="rotate(40 1426.8 128.7)"/><ellipse cx="1448.9" cy="141.4" rx="3.50" ry="4.50" fill="#0000ff" opacity="0.85"/><ellipse cx="1462.3" cy="136.9" rx="3.00" ry="3.30" fill="#0000ff"/><ellipse cx="1467.7" cy="143.8" rx="3.20" ry="3.00" fill="#0000ff"/><ellipse cx="1480.7" cy="135.6" rx="2.80" ry="3.30" fill="#0000ff"/><ellipse cx="1495.4" cy="130.7" rx="2.00" ry="3.00" fill="#0000ff"/><ellipse cx="1489.3" cy="144.0" rx="2.50" ry="3.00" fill="#0000ff"/><ellipse cx="1519.9" cy="112.8" rx="2.50" ry="4.50" fill="#0000ff"/><ellipse cx="1534.6" cy="121.7" rx="3.00" ry="3.00" fill="#0000ff"/><ellipse cx="1545.3" cy="127.9" rx="2.50" ry="2.50" fill="#0000ff"/><ellipse cx="1544.9" cy="109.9" rx="2.50" ry="2.50" fill="#0000ff"/><ellipse cx="1515.9" cy="134.8" rx="2.00" ry="2.80" fill="#0000ff"/><ellipse cx="1442.7" cy="156.9" rx="3.00" ry="2.50" fill="#0000ff" transform="rotate(40 1442.7 156.9)"/><ellipse cx="1458.7" cy="155.2" rx="4.00" ry="4.50" fill="#0000ff"/><ellipse cx="1470.9" cy="156.1" rx="3.00" ry="2.50" fill="#0000ff"/><ellipse cx="1420.3" cy="161.4" rx="2.00" ry="3.00" fill="#0000ff"/><ellipse cx="1502.0" cy="158.9" rx="4.00" ry="3.00" fill="#0000ff" transform="rotate(-40 1502.0 158.9)"/><ellipse cx="1445.6" cy="171.2" rx="3.50" ry="2.00" fill="#0000ff" transform="rotate(50 1445.6 171.2)"/><ellipse cx="1474.2" cy="178.1" rx="3.50" ry="2.00" fill="#0000ff" transform="rotate(-30 1474.2 178.1)"/><ellipse cx="1466.0" cy="182.2" rx="2.50" ry="2.50" fill="#0000ff"/><ellipse cx="1490.1" cy="180.2" rx="2.50" ry="3.50" fill="#0000ff"/><ellipse cx="1540.0" cy="181.4" rx="2.50" ry="3.50" fill="#0000ff"/><ellipse cx="1501.2" cy="192.8" rx="2.50" ry="2.50" fill="#0000ff"/><ellipse cx="1497.9" cy="198.1" rx="2.50" ry="2.50" fill="#0000ff"/><ellipse cx="1482.4" cy="200.2" rx="3.50" ry="2.30" fill="#0000ff"/><ellipse cx="1529.3" cy="194.1" rx="2.00" ry="2.00" fill="#0000ff"/><ellipse cx="1451.3" cy="204.3" rx="2.00" ry="2.80" fill="#0000ff"/><ellipse cx="1460.3" cy="205.1" rx="3.50" ry="2.50" fill="#0000ff" opacity="0.8"/><ellipse cx="1509.7" cy="210.8" rx="3.00" ry="2.50" fill="#0000ff"/><ellipse cx="1435.8" cy="213.7" rx="2.00" ry="3.00" fill="#0000ff"/><ellipse cx="1478.7" cy="217.3" rx="3.00" ry="3.00" fill="#0000ff"/><ellipse cx="1490.5" cy="219.0" rx="2.50" ry="2.50" fill="#0000ff"/></g></g>
<clipPath id="cp5"><rect x="1417.70" y="227.10" width="129.20" height="117.30"/></clipPath>
<rect x="1417.70" y="227.10" width="129.20" height="117.30" fill="#010801"/>
<g clip-path="url(#cp5)"><g filter="url(#bl)"><ellipse cx="1445.7" cy="247.1" rx="16" ry="10" fill="#1a5a1a" opacity="0.25" filter="url(#bl3)"/><ellipse cx="1512.7" cy="249.1" rx="14" ry="14" fill="#1a5a1a" opacity="0.25" filter="url(#bl3)"/><ellipse cx="1537.7" cy="277.1" rx="10" ry="20" fill="#1a5a1a" opacity="0.25" filter="url(#bl3)"/><ellipse cx="1477.7" cy="272.1" rx="18" ry="12" fill="#1a5a1a" opacity="0.25" filter="url(#bl3)"/><ellipse cx="1457.7" cy="317.1" rx="16" ry="14" fill="#1a5a1a" opacity="0.25" filter="url(#bl3)"/><ellipse cx="1502.7" cy="322.1" rx="18" ry="14" fill="#1a5a1a" opacity="0.25" filter="url(#bl3)"/><ellipse cx="1487.7" cy="297.1" rx="14" ry="10" fill="#1a5a1a" opacity="0.25" filter="url(#bl3)"/><ellipse cx="1466.7" cy="232.3" rx="1.60" ry="2.50" fill="#1cf01c" transform="rotate(30 1466.7 232.3)"/><ellipse cx="1426.9" cy="250.7" rx="2.00" ry="3.00" fill="#1cf01c" transform="rotate(-30 1426.9 250.7)"/><ellipse cx="1495.5" cy="252.4" rx="1.50" ry="2.80" fill="#1cf01c" transform="rotate(-15 1495.5 252.4)"/><ellipse cx="1515.9" cy="256.6" rx="1.80" ry="3.00" fill="#1cf01c" transform="rotate(-20 1515.9 256.6)"/><ellipse cx="1489.3" cy="265.5" rx="2.20" ry="3.00" fill="#1cf01c"/><ellipse cx="1442.6" cy="278.7" rx="2.00" ry="2.80" fill="#1cf01c" transform="rotate(-35 1442.6 278.7)"/><ellipse cx="1457.5" cy="278.3" rx="2.80" ry="2.00" fill="#1cf01c" transform="rotate(-40 1457.5 278.3)"/><ellipse cx="1470.9" cy="277.9" rx="2.70" ry="2.00" fill="#1cf01c" transform="rotate(-20 1470.9 277.9)"/><ellipse cx="1420.3" cy="283.3" rx="1.50" ry="1.50" fill="#1cf01c" opacity="0.6"/><ellipse cx="1445.9" cy="293.1" rx="1.80" ry="3.20" fill="#1cf01c" transform="rotate(-35 1445.9 293.1)" opacity="0.9"/><ellipse cx="1473.8" cy="300.0" rx="2.80" ry="1.80" fill="#1cf01c" transform="rotate(-35 1473.8 300.0)"/><ellipse cx="1490.6" cy="300.6" rx="1.60" ry="2.80" fill="#1cf01c" transform="rotate(-20 1490.6 300.6)"/><ellipse cx="1488.7" cy="303.9" rx="1.80" ry="1.80" fill="#1cf01c"/><ellipse cx="1465.9" cy="303.9" rx="1.60" ry="1.60" fill="#1cf01c" opacity="0.7"/><ellipse cx="1540.9" cy="303.3" rx="1.60" ry="3.00" fill="#1cf01c"/><ellipse cx="1529.0" cy="315.8" rx="1.50" ry="1.50" fill="#1cf01c" opacity="0.6"/><ellipse cx="1483.0" cy="321.7" rx="2.30" ry="1.70" fill="#1cf01c" opacity="0.9"/><ellipse cx="1451.5" cy="325.9" rx="1.30" ry="2.30" fill="#1cf01c" opacity="0.7"/><ellipse cx="1461.4" cy="327.2" rx="3.00" ry="2.30" fill="#1cf01c" opacity="0.8"/><ellipse cx="1509.7" cy="332.2" rx="2.30" ry="2.00" fill="#1cf01c" opacity="0.9"/><ellipse cx="1436.1" cy="335.5" rx="1.30" ry="2.50" fill="#1cf01c" opacity="0.7"/><ellipse cx="1478.8" cy="338.8" rx="2.30" ry="2.20" fill="#1cf01c" opacity="0.9"/><ellipse cx="1535.1" cy="243.7" rx="2.00" ry="2.00" fill="#1cf01c" opacity="0.45"/><ellipse cx="1519.6" cy="234.9" rx="2.00" ry="3.50" fill="#1cf01c" opacity="0.35"/><ellipse cx="1545.2" cy="249.4" rx="2.00" ry="3.00" fill="#1cf01c" opacity="0.35"/></g></g>
<clipPath id="cp6"><rect x="1417.70" y="348.40" width="129.20" height="117.30"/></clipPath>
<rect x="1417.70" y="348.40" width="129.20" height="117.30" fill="#020a04"/>
<g clip-path="url(#cp6)"><g filter="url(#bl)"><ellipse cx="1431.3" cy="349.6" rx="2.50" ry="2.50" fill="#0000ff"/><ellipse cx="1448.5" cy="349.6" rx="2.50" ry="2.50" fill="#0000ff"/><ellipse cx="1441.1" cy="358.6" rx="3.30" ry="2.20" fill="#0000ff" transform="rotate(40 1441.1 358.6)"/><ellipse cx="1466.7" cy="353.6" rx="2.50" ry="1.80" fill="#0000ff" transform="rotate(-30 1466.7 353.6)"/><ellipse cx="1426.8" cy="371.7" rx="3.00" ry="2.50" fill="#0000ff" transform="rotate(40 1426.8 371.7)"/><ellipse cx="1448.9" cy="384.4" rx="3.50" ry="4.50" fill="#0000ff" opacity="0.85"/><ellipse cx="1462.3" cy="379.9" rx="3.00" ry="3.30" fill="#0000ff"/><ellipse cx="1467.7" cy="386.8" rx="3.20" ry="3.00" fill="#0000ff"/><ellipse cx="1480.7" cy="378.6" rx="2.80" ry="3.30" fill="#0000ff"/><ellipse cx="1495.4" cy="373.7" rx="2.00" ry="3.00" fill="#0000ff"/><ellipse cx="1489.3" cy="387.0" rx="2.50" ry="3.00" fill="#0000ff"/><ellipse cx="1519.9" cy="355.8" rx="2.50" ry="4.50" fill="#0000ff"/><ellipse cx="1534.6" cy="364.7" rx="3.00" ry="3.00" fill="#0000ff"/><ellipse cx="1545.3" cy="370.9" rx="2.50" ry="2.50" fill="#0000ff"/><ellipse cx="1544.9" cy="352.9" rx="2.50" ry="2.50" fill="#0000ff"/><ellipse cx="1515.9" cy="377.8" rx="2.00" ry="2.80" fill="#0000ff"/><ellipse cx="1442.7" cy="399.9" rx="3.00" ry="2.50" fill="#0000ff" transform="rotate(40 1442.7 399.9)"/><ellipse cx="1458.7" cy="398.2" rx="4.00" ry="4.50" fill="#0000ff"/><ellipse cx="1470.9" cy="399.1" rx="3.00" ry="2.50" fill="#0000ff"/><ellipse cx="1420.3" cy="404.4" rx="2.00" ry="3.00" fill="#0000ff"/><ellipse cx="1502.0" cy="401.9" rx="4.00" ry="3.00" fill="#0000ff" transform="rotate(-40 1502.0 401.9)"/><ellipse cx="1445.6" cy="414.2" rx="3.50" ry="2.00" fill="#0000ff" transform="rotate(50 1445.6 414.2)"/><ellipse cx="1474.2" cy="421.1" rx="3.50" ry="2.00" fill="#0000ff" transform="rotate(-30 1474.2 421.1)"/><ellipse cx="1466.0" cy="425.2" rx="2.50" ry="2.50" fill="#0000ff"/><ellipse cx="1490.1" cy="423.2" rx="2.50" ry="3.50" fill="#0000ff"/><ellipse cx="1540.0" cy="424.4" rx="2.50" ry="3.50" fill="#0000ff"/><ellipse cx="1501.2" cy="435.8" rx="2.50" ry="2.50" fill="#0000ff"/><ellipse cx="1497.9" cy="441.1" rx="2.50" ry="2.50" fill="#0000ff"/><ellipse cx="1482.4" cy="443.2" rx="3.50" ry="2.30" fill="#0000ff"/><ellipse cx="1529.3" cy="437.1" rx="2.00" ry="2.00" fill="#0000ff"/><ellipse cx="1451.3" cy="447.3" rx="2.00" ry="2.80" fill="#0000ff"/><ellipse cx="1460.3" cy="448.1" rx="3.50" ry="2.50" fill="#0000ff" opacity="0.8"/><ellipse cx="1509.7" cy="453.8" rx="3.00" ry="2.50" fill="#0000ff"/><ellipse cx="1435.8" cy="456.7" rx="2.00" ry="3.00" fill="#0000ff"/><ellipse cx="1478.7" cy="460.3" rx="3.00" ry="3.00" fill="#0000ff"/><ellipse cx="1490.5" cy="462.0" rx="2.50" ry="2.50" fill="#0000ff"/><ellipse cx="1466.7" cy="353.6" rx="1.60" ry="2.50" fill="#20eac8" transform="rotate(30 1466.7 353.6)"/><ellipse cx="1426.9" cy="372.0" rx="2.00" ry="3.00" fill="#20eac8" transform="rotate(-30 1426.9 372.0)"/><ellipse cx="1495.5" cy="373.7" rx="1.50" ry="2.80" fill="#20eac8" transform="rotate(-15 1495.5 373.7)"/><ellipse cx="1515.9" cy="377.9" rx="1.80" ry="3.00" fill="#20eac8" transform="rotate(-20 1515.9 377.9)"/><ellipse cx="1489.3" cy="386.8" rx="2.20" ry="3.00" fill="#20eac8"/><ellipse cx="1442.6" cy="400.0" rx="2.00" ry="2.80" fill="#20eac8" transform="rotate(-35 1442.6 400.0)"/><ellipse cx="1457.5" cy="399.6" rx="2.80" ry="2.00" fill="#20eac8" transform="rotate(-40 1457.5 399.6)"/><ellipse cx="1470.9" cy="399.2" rx="2.70" ry="2.00" fill="#20eac8" transform="rotate(-20 1470.9 399.2)"/><ellipse cx="1420.3" cy="404.6" rx="1.50" ry="1.50" fill="#20eac8" opacity="0.6"/><ellipse cx="1445.9" cy="414.4" rx="1.80" ry="3.20" fill="#20eac8" transform="rotate(-35 1445.9 414.4)" opacity="0.9"/><ellipse cx="1473.8" cy="421.3" rx="2.80" ry="1.80" fill="#20eac8" transform="rotate(-35 1473.8 421.3)"/><ellipse cx="1490.6" cy="421.9" rx="1.60" ry="2.80" fill="#20eac8" transform="rotate(-20 1490.6 421.9)"/><ellipse cx="1488.7" cy="425.2" rx="1.80" ry="1.80" fill="#20eac8"/><ellipse cx="1465.9" cy="425.2" rx="1.60" ry="1.60" fill="#20eac8" opacity="0.7"/><ellipse cx="1540.9" cy="424.6" rx="1.60" ry="3.00" fill="#20eac8"/><ellipse cx="1529.0" cy="437.1" rx="1.50" ry="1.50" fill="#20eac8" opacity="0.6"/><ellipse cx="1483.0" cy="443.0" rx="2.30" ry="1.70" fill="#20eac8" opacity="0.9"/><ellipse cx="1451.5" cy="447.2" rx="1.30" ry="2.30" fill="#20eac8" opacity="0.7"/><ellipse cx="1461.4" cy="448.5" rx="3.00" ry="2.30" fill="#20eac8" opacity="0.8"/><ellipse cx="1509.7" cy="453.5" rx="2.30" ry="2.00" fill="#20eac8" opacity="0.9"/><ellipse cx="1436.1" cy="456.8" rx="1.30" ry="2.50" fill="#20eac8" opacity="0.7"/><ellipse cx="1478.8" cy="460.1" rx="2.30" ry="2.20" fill="#20eac8" opacity="0.9"/><ellipse cx="1535.1" cy="365.0" rx="2.00" ry="2.00" fill="#20eac8" opacity="0.45"/><ellipse cx="1519.6" cy="356.2" rx="2.00" ry="3.50" fill="#20eac8" opacity="0.35"/><ellipse cx="1545.2" cy="370.7" rx="2.00" ry="3.00" fill="#20eac8" opacity="0.35"/></g></g>
<clipPath id="cp7"><rect x="1550.70" y="105.40" width="129.20" height="117.30"/></clipPath>
<rect x="1550.70" y="105.40" width="129.20" height="117.30" fill="#000008"/>
<g clip-path="url(#cp7)"><g filter="url(#bl)"><ellipse cx="1602.6" cy="140.5" rx="8.00" ry="12.00" fill="#0000ff" opacity="0.45" filter="url(#bl2)"/><ellipse cx="1605.2" cy="197.0" rx="13.00" ry="11.00" fill="#0000ff" opacity="0.45" filter="url(#bl2)"/><ellipse cx="1626.3" cy="208.8" rx="6.00" ry="12.00" fill="#0000ff" transform="rotate(15 1626.3 208.8)" opacity="0.4" filter="url(#bl2)"/><ellipse cx="1648.0" cy="118.0" rx="7.00" ry="8.00" fill="#0000ff" transform="rotate(-40 1648.0 118.0)" opacity="0.45" filter="url(#bl2)"/><ellipse cx="1640.0" cy="175.0" rx="6.00" ry="8.00" fill="#0000ff" opacity="0.3" filter="url(#bl2)"/><ellipse cx="1644.0" cy="112.2" rx="3.50" ry="5.50" fill="#0000ff" transform="rotate(-20 1644.0 112.2)"/><ellipse cx="1655.2" cy="126.0" rx="2.50" ry="1.50" fill="#0000ff" transform="rotate(-30 1655.2 126.0)" opacity="0.7"/><ellipse cx="1609.8" cy="130.6" rx="2.30" ry="2.30" fill="#0000ff"/><ellipse cx="1614.4" cy="129.3" rx="2.30" ry="2.30" fill="#0000ff"/><ellipse cx="1604.6" cy="147.1" rx="4.00" ry="4.00" fill="#0000ff" opacity="0.9"/><ellipse cx="1581.6" cy="141.2" rx="2.30" ry="2.30" fill="#0000ff"/><ellipse cx="1582.9" cy="147.1" rx="2.30" ry="2.30" fill="#0000ff"/><ellipse cx="1582.2" cy="160.2" rx="2.80" ry="2.80" fill="#0000ff"/><ellipse cx="1632.2" cy="155.0" rx="3.00" ry="2.50" fill="#0000ff"/><ellipse cx="1650.0" cy="150.4" rx="3.00" ry="3.00" fill="#0000ff"/><ellipse cx="1634.8" cy="171.4" rx="2.80" ry="2.80" fill="#0000ff"/><ellipse cx="1638.8" cy="187.8" rx="5.00" ry="5.00" fill="#0000ff" opacity="0.95"/><ellipse cx="1600.0" cy="192.4" rx="3.50" ry="3.50" fill="#0000ff"/><ellipse cx="1607.2" cy="199.7" rx="4.50" ry="6.00" fill="#0000ff"/><ellipse cx="1597.3" cy="199.7" rx="3.00" ry="3.00" fill="#0000ff"/><ellipse cx="1676.2" cy="126.7" rx="2.50" ry="1.00" fill="#0000ff" transform="rotate(-30 1676.2 126.7)" opacity="0.6"/></g></g>
<clipPath id="cp8"><rect x="1550.70" y="227.10" width="129.20" height="117.30"/></clipPath>
<rect x="1550.70" y="227.10" width="129.20" height="117.30" fill="#000000"/>
<g clip-path="url(#cp8)"><g filter="url(#bl)"><ellipse cx="1632.9" cy="277.0" rx="2.50" ry="2.00" fill="#1cf01c"/><ellipse cx="1650.0" cy="272.4" rx="1.20" ry="1.20" fill="#1cf01c" opacity="0.5"/><ellipse cx="1678.7" cy="246.7" rx="2.00" ry="1.50" fill="#1cf01c" transform="rotate(-30 1678.7 246.7)"/></g></g>
<clipPath id="cp9"><rect x="1550.70" y="348.40" width="129.20" height="117.30"/></clipPath>
<rect x="1550.70" y="348.40" width="129.20" height="117.30" fill="#000006"/>
<g clip-path="url(#cp9)"><g filter="url(#bl)"><ellipse cx="1602.6" cy="383.5" rx="8.00" ry="12.00" fill="#0000ff" opacity="0.45" filter="url(#bl2)"/><ellipse cx="1605.2" cy="440.0" rx="13.00" ry="11.00" fill="#0000ff" opacity="0.45" filter="url(#bl2)"/><ellipse cx="1626.3" cy="451.8" rx="6.00" ry="12.00" fill="#0000ff" transform="rotate(15 1626.3 451.8)" opacity="0.4" filter="url(#bl2)"/><ellipse cx="1648.0" cy="361.0" rx="7.00" ry="8.00" fill="#0000ff" transform="rotate(-40 1648.0 361.0)" opacity="0.45" filter="url(#bl2)"/><ellipse cx="1640.0" cy="418.0" rx="6.00" ry="8.00" fill="#0000ff" opacity="0.3" filter="url(#bl2)"/><ellipse cx="1644.0" cy="355.2" rx="3.50" ry="5.50" fill="#0000ff" transform="rotate(-20 1644.0 355.2)"/><ellipse cx="1655.2" cy="369.0" rx="2.50" ry="1.50" fill="#0000ff" transform="rotate(-30 1655.2 369.0)" opacity="0.7"/><ellipse cx="1609.8" cy="373.6" rx="2.30" ry="2.30" fill="#0000ff"/><ellipse cx="1614.4" cy="372.3" rx="2.30" ry="2.30" fill="#0000ff"/><ellipse cx="1604.6" cy="390.1" rx="4.00" ry="4.00" fill="#0000ff" opacity="0.9"/><ellipse cx="1581.6" cy="384.2" rx="2.30" ry="2.30" fill="#0000ff"/><ellipse cx="1582.9" cy="390.1" rx="2.30" ry="2.30" fill="#0000ff"/><ellipse cx="1582.2" cy="403.2" rx="2.80" ry="2.80" fill="#0000ff"/><ellipse cx="1632.2" cy="398.0" rx="3.00" ry="2.50" fill="#0000ff"/><ellipse cx="1650.0" cy="393.4" rx="3.00" ry="3.00" fill="#0000ff"/><ellipse cx="1634.8" cy="414.4" rx="2.80" ry="2.80" fill="#0000ff"/><ellipse cx="1638.8" cy="430.8" rx="5.00" ry="5.00" fill="#0000ff" opacity="0.95"/><ellipse cx="1600.0" cy="435.4" rx="3.50" ry="3.50" fill="#0000ff"/><ellipse cx="1607.2" cy="442.7" rx="4.50" ry="6.00" fill="#0000ff"/><ellipse cx="1597.3" cy="442.7" rx="3.00" ry="3.00" fill="#0000ff"/><ellipse cx="1676.2" cy="369.7" rx="2.50" ry="1.00" fill="#0000ff" transform="rotate(-30 1676.2 369.7)" opacity="0.6"/><ellipse cx="1632.9" cy="398.3" rx="2.50" ry="2.00" fill="#20eac8"/><ellipse cx="1650.0" cy="393.7" rx="1.20" ry="1.20" fill="#20eac8" opacity="0.5"/><ellipse cx="1678.7" cy="368.0" rx="2.00" ry="1.50" fill="#20eac8" transform="rotate(-30 1678.7 368.0)"/></g></g>
<clipPath id="cp10"><rect x="1683.30" y="105.40" width="129.20" height="117.30"/></clipPath>
<rect x="1683.30" y="105.40" width="129.20" height="117.30" fill="#000006"/>
<g clip-path="url(#cp10)"><g filter="url(#bl)"><ellipse cx="1686.8" cy="105.7" rx="2.00" ry="2.00" fill="#0000ff"/><ellipse cx="1708.8" cy="107.4" rx="2.00" ry="1.50" fill="#0000ff"/><ellipse cx="1703.8" cy="124.1" rx="2.20" ry="1.60" fill="#0000ff" transform="rotate(30 1703.8 124.1)"/><ellipse cx="1688.1" cy="132.6" rx="2.20" ry="2.20" fill="#0000ff"/><ellipse cx="1692.0" cy="133.7" rx="2.20" ry="2.20" fill="#0000ff"/><ellipse cx="1684.4" cy="137.0" rx="1.80" ry="1.80" fill="#0000ff"/><ellipse cx="1714.8" cy="131.7" rx="3.00" ry="1.50" fill="#0000ff"/><ellipse cx="1705.2" cy="143.1" rx="2.00" ry="2.00" fill="#0000ff"/><ellipse cx="1757.5" cy="132.0" rx="1.30" ry="2.20" fill="#0000ff"/><ellipse cx="1753.1" cy="141.2" rx="1.30" ry="2.20" fill="#0000ff" transform="rotate(30 1753.1 141.2)"/><ellipse cx="1757.8" cy="148.1" rx="1.80" ry="1.30" fill="#0000ff" transform="rotate(30 1757.8 148.1)"/><ellipse cx="1768.5" cy="156.7" rx="1.80" ry="1.80" fill="#0000ff"/><ellipse cx="1720.9" cy="164.2" rx="1.30" ry="2.50" fill="#0000ff" transform="rotate(20 1720.9 164.2)"/><ellipse cx="1749.2" cy="166.5" rx="2.30" ry="1.50" fill="#0000ff"/><ellipse cx="1744.3" cy="171.1" rx="2.20" ry="2.20" fill="#0000ff"/><ellipse cx="1750.1" cy="170.7" rx="2.00" ry="2.00" fill="#0000ff"/><ellipse cx="1759.7" cy="169.4" rx="1.30" ry="2.30" fill="#0000ff"/><ellipse cx="1781.4" cy="173.6" rx="1.30" ry="2.30" fill="#0000ff" transform="rotate(30 1781.4 173.6)"/><ellipse cx="1759.7" cy="178.2" rx="1.30" ry="2.30" fill="#0000ff" transform="rotate(-20 1759.7 178.2)"/><ellipse cx="1701.5" cy="178.2" rx="3.00" ry="3.00" fill="#0000ff"/><ellipse cx="1777.9" cy="189.8" rx="2.20" ry="2.20" fill="#0000ff"/><ellipse cx="1794.3" cy="190.9" rx="1.60" ry="1.00" fill="#0000ff"/><ellipse cx="1785.4" cy="208.2" rx="1.20" ry="2.50" fill="#0000ff" transform="rotate(20 1785.4 208.2)"/><ellipse cx="1768.0" cy="211.5" rx="1.20" ry="2.30" fill="#0000ff" transform="rotate(20 1768.0 211.5)"/></g></g>
<clipPath id="cp11"><rect x="1683.30" y="227.10" width="129.20" height="117.30"/></clipPath>
<rect x="1683.30" y="227.10" width="129.20" height="117.30" fill="#000000"/>
<g clip-path="url(#cp11)"><g filter="url(#bl)"><ellipse cx="1686.9" cy="227.7" rx="1.50" ry="1.50" fill="#1cf01c"/><ellipse cx="1708.6" cy="229.4" rx="1.80" ry="1.80" fill="#1cf01c"/><ellipse cx="1703.4" cy="245.8" rx="2.50" ry="2.00" fill="#1cf01c" transform="rotate(30 1703.4 245.8)"/><ellipse cx="1688.3" cy="254.4" rx="2.20" ry="2.20" fill="#1cf01c"/><ellipse cx="1692.2" cy="255.0" rx="1.80" ry="1.80" fill="#1cf01c"/><ellipse cx="1684.3" cy="258.6" rx="1.50" ry="1.50" fill="#1cf01c"/><ellipse cx="1714.6" cy="253.6" rx="3.20" ry="1.80" fill="#1cf01c"/><ellipse cx="1705.1" cy="264.9" rx="2.20" ry="2.20" fill="#1cf01c"/><ellipse cx="1757.7" cy="254.0" rx="1.60" ry="2.80" fill="#1cf01c"/><ellipse cx="1758.0" cy="269.7" rx="2.30" ry="2.00" fill="#1cf01c" transform="rotate(30 1758.0 269.7)"/><ellipse cx="1721.1" cy="286.2" rx="1.60" ry="2.50" fill="#1cf01c" transform="rotate(20 1721.1 286.2)"/><ellipse cx="1701.1" cy="299.7" rx="3.00" ry="3.30" fill="#1cf01c"/><ellipse cx="1743.9" cy="292.5" rx="2.20" ry="2.20" fill="#1cf01c"/><ellipse cx="1750.3" cy="292.4" rx="2.20" ry="2.20" fill="#1cf01c"/><ellipse cx="1759.9" cy="300.0" rx="1.30" ry="2.60" fill="#1cf01c" transform="rotate(-20 1759.9 300.0)"/><ellipse cx="1781.4" cy="295.1" rx="2.00" ry="2.60" fill="#1cf01c" transform="rotate(20 1781.4 295.1)"/><ellipse cx="1777.7" cy="311.4" rx="2.00" ry="2.80" fill="#1cf01c" transform="rotate(-10 1777.7 311.4)"/><ellipse cx="1794.1" cy="312.5" rx="2.80" ry="2.00" fill="#1cf01c"/><ellipse cx="1785.3" cy="330.0" rx="1.60" ry="3.20" fill="#1cf01c" transform="rotate(20 1785.3 330.0)"/><ellipse cx="1768.1" cy="333.1" rx="1.70" ry="2.30" fill="#1cf01c"/></g></g>
<clipPath id="cp12"><rect x="1683.30" y="348.40" width="129.20" height="117.30"/></clipPath>
<rect x="1683.30" y="348.40" width="129.20" height="117.30" fill="#000004"/>
<g clip-path="url(#cp12)"><g filter="url(#bl)"><ellipse cx="1686.8" cy="348.7" rx="2.00" ry="2.00" fill="#0000ff"/><ellipse cx="1708.8" cy="350.4" rx="2.00" ry="1.50" fill="#0000ff"/><ellipse cx="1703.8" cy="367.1" rx="2.20" ry="1.60" fill="#0000ff" transform="rotate(30 1703.8 367.1)"/><ellipse cx="1688.1" cy="375.6" rx="2.20" ry="2.20" fill="#0000ff"/><ellipse cx="1692.0" cy="376.7" rx="2.20" ry="2.20" fill="#0000ff"/><ellipse cx="1684.4" cy="380.0" rx="1.80" ry="1.80" fill="#0000ff"/><ellipse cx="1714.8" cy="374.7" rx="3.00" ry="1.50" fill="#0000ff"/><ellipse cx="1705.2" cy="386.1" rx="2.00" ry="2.00" fill="#0000ff"/><ellipse cx="1757.5" cy="375.0" rx="1.30" ry="2.20" fill="#0000ff"/><ellipse cx="1753.1" cy="384.2" rx="1.30" ry="2.20" fill="#0000ff" transform="rotate(30 1753.1 384.2)"/><ellipse cx="1757.8" cy="391.1" rx="1.80" ry="1.30" fill="#0000ff" transform="rotate(30 1757.8 391.1)"/><ellipse cx="1768.5" cy="399.7" rx="1.80" ry="1.80" fill="#0000ff"/><ellipse cx="1720.9" cy="407.2" rx="1.30" ry="2.50" fill="#0000ff" transform="rotate(20 1720.9 407.2)"/><ellipse cx="1749.2" cy="409.5" rx="2.30" ry="1.50" fill="#0000ff"/><ellipse cx="1744.3" cy="414.1" rx="2.20" ry="2.20" fill="#0000ff"/><ellipse cx="1750.1" cy="413.7" rx="2.00" ry="2.00" fill="#0000ff"/><ellipse cx="1759.7" cy="412.4" rx="1.30" ry="2.30" fill="#0000ff"/><ellipse cx="1781.4" cy="416.6" rx="1.30" ry="2.30" fill="#0000ff" transform="rotate(30 1781.4 416.6)"/><ellipse cx="1759.7" cy="421.2" rx="1.30" ry="2.30" fill="#0000ff" transform="rotate(-20 1759.7 421.2)"/><ellipse cx="1701.5" cy="421.2" rx="3.00" ry="3.00" fill="#0000ff"/><ellipse cx="1777.9" cy="432.8" rx="2.20" ry="2.20" fill="#0000ff"/><ellipse cx="1794.3" cy="433.9" rx="1.60" ry="1.00" fill="#0000ff"/><ellipse cx="1785.4" cy="451.2" rx="1.20" ry="2.50" fill="#0000ff" transform="rotate(20 1785.4 451.2)"/><ellipse cx="1768.0" cy="454.5" rx="1.20" ry="2.30" fill="#0000ff" transform="rotate(20 1768.0 454.5)"/><ellipse cx="1686.9" cy="349.0" rx="1.50" ry="1.50" fill="#20eac8"/><ellipse cx="1708.6" cy="350.7" rx="1.80" ry="1.80" fill="#20eac8"/><ellipse cx="1703.4" cy="367.1" rx="2.50" ry="2.00" fill="#20eac8" transform="rotate(30 1703.4 367.1)"/><ellipse cx="1688.3" cy="375.7" rx="2.20" ry="2.20" fill="#20eac8"/><ellipse cx="1692.2" cy="376.3" rx="1.80" ry="1.80" fill="#20eac8"/><ellipse cx="1684.3" cy="379.9" rx="1.50" ry="1.50" fill="#20eac8"/><ellipse cx="1714.6" cy="374.9" rx="3.20" ry="1.80" fill="#20eac8"/><ellipse cx="1705.1" cy="386.2" rx="2.20" ry="2.20" fill="#20eac8"/><ellipse cx="1757.7" cy="375.3" rx="1.60" ry="2.80" fill="#20eac8"/><ellipse cx="1758.0" cy="391.0" rx="2.30" ry="2.00" fill="#20eac8" transform="rotate(30 1758.0 391.0)"/><ellipse cx="1721.1" cy="407.5" rx="1.60" ry="2.50" fill="#20eac8" transform="rotate(20 1721.1 407.5)"/><ellipse cx="1701.1" cy="421.0" rx="3.00" ry="3.30" fill="#20eac8"/><ellipse cx="1743.9" cy="413.8" rx="2.20" ry="2.20" fill="#20eac8"/><ellipse cx="1750.3" cy="413.7" rx="2.20" ry="2.20" fill="#20eac8"/><ellipse cx="1759.9" cy="421.3" rx="1.30" ry="2.60" fill="#20eac8" transform="rotate(-20 1759.9 421.3)"/><ellipse cx="1781.4" cy="416.4" rx="2.00" ry="2.60" fill="#20eac8" transform="rotate(20 1781.4 416.4)"/><ellipse cx="1777.7" cy="432.7" rx="2.00" ry="2.80" fill="#20eac8" transform="rotate(-10 1777.7 432.7)"/><ellipse cx="1794.1" cy="433.8" rx="2.80" ry="2.00" fill="#20eac8"/><ellipse cx="1785.3" cy="451.3" rx="1.60" ry="3.20" fill="#20eac8" transform="rotate(20 1785.3 451.3)"/><ellipse cx="1768.1" cy="454.4" rx="1.70" ry="2.30" fill="#20eac8"/></g></g>
<clipPath id="cp13"><rect x="1816.10" y="105.40" width="129.20" height="117.30"/></clipPath>
<rect x="1816.10" y="105.40" width="129.20" height="117.30" fill="#000006"/>
<g clip-path="url(#cp13)"><g filter="url(#bl)"><ellipse cx="1934.1" cy="110.1" rx="3.20" ry="2.50" fill="#0000ff" transform="rotate(-30 1934.1 110.1)"/><ellipse cx="1927.9" cy="119.1" rx="3.20" ry="2.20" fill="#0000ff" transform="rotate(-35 1927.9 119.1)"/><ellipse cx="1912.4" cy="121.3" rx="3.20" ry="3.20" fill="#0000ff"/><ellipse cx="1887.9" cy="124.4" rx="2.00" ry="2.50" fill="#0000ff"/><ellipse cx="1826.0" cy="122.3" rx="2.30" ry="2.30" fill="#0000ff"/><ellipse cx="1826.5" cy="128.1" rx="1.50" ry="1.50" fill="#0000ff"/><ellipse cx="1833.8" cy="126.7" rx="2.50" ry="1.60" fill="#0000ff" transform="rotate(-40 1833.8 126.7)"/><ellipse cx="1839.3" cy="145.0" rx="1.60" ry="3.00" fill="#0000ff" transform="rotate(15 1839.3 145.0)"/><ellipse cx="1817.6" cy="149.1" rx="2.00" ry="3.00" fill="#0000ff" transform="rotate(30 1817.6 149.1)"/><ellipse cx="1885.9" cy="140.5" rx="2.80" ry="2.80" fill="#0000ff"/><ellipse cx="1890.8" cy="141.4" rx="2.00" ry="2.00" fill="#0000ff" opacity="0.8"/><ellipse cx="1885.0" cy="146.3" rx="2.20" ry="2.20" fill="#0000ff"/><ellipse cx="1895.7" cy="147.1" rx="2.00" ry="2.80" fill="#0000ff" transform="rotate(-30 1895.7 147.1)"/><ellipse cx="1898.9" cy="152.8" rx="2.00" ry="3.30" fill="#0000ff" transform="rotate(-25 1898.9 152.8)"/><ellipse cx="1905.7" cy="156.5" rx="3.00" ry="1.60" fill="#0000ff" transform="rotate(-35 1905.7 156.5)"/><ellipse cx="1869.8" cy="165.0" rx="2.70" ry="2.00" fill="#0000ff" transform="rotate(40 1869.8 165.0)"/><ellipse cx="1932.4" cy="166.4" rx="1.40" ry="2.80" fill="#0000ff" transform="rotate(-15 1932.4 166.4)"/><ellipse cx="1827.4" cy="170.4" rx="3.80" ry="4.50" fill="#0000ff"/><ellipse cx="1820.9" cy="176.5" rx="3.00" ry="4.00" fill="#0000ff"/><ellipse cx="1825.0" cy="184.2" rx="3.00" ry="4.00" fill="#0000ff"/><ellipse cx="1834.4" cy="176.9" rx="2.00" ry="3.20" fill="#0000ff"/><ellipse cx="1852.4" cy="181.0" rx="3.50" ry="3.80" fill="#0000ff"/><ellipse cx="1847.9" cy="184.2" rx="3.00" ry="3.50" fill="#0000ff"/><ellipse cx="1896.9" cy="170.4" rx="1.60" ry="3.00" fill="#0000ff" transform="rotate(-35 1896.9 170.4)"/><ellipse cx="1901.0" cy="178.9" rx="3.00" ry="1.60" fill="#0000ff" transform="rotate(35 1901.0 178.9)"/><ellipse cx="1892.1" cy="185.5" rx="2.50" ry="2.50" fill="#0000ff"/><ellipse cx="1919.3" cy="197.7" rx="1.70" ry="2.20" fill="#0000ff"/><ellipse cx="1904.9" cy="199.8" rx="2.50" ry="2.50" fill="#0000ff"/><ellipse cx="1882.0" cy="202.9" rx="2.80" ry="2.40" fill="#0000ff" transform="rotate(40 1882.0 202.9)"/><ellipse cx="1933.6" cy="205.1" rx="2.20" ry="1.50" fill="#0000ff" transform="rotate(40 1933.6 205.1)"/><ellipse cx="1904.1" cy="208.1" rx="3.00" ry="2.30" fill="#0000ff"/><ellipse cx="1838.5" cy="215.7" rx="3.50" ry="2.30" fill="#0000ff"/><ellipse cx="1885.0" cy="218.2" rx="3.00" ry="2.50" fill="#0000ff"/></g></g>
<clipPath id="cp14"><rect x="1816.10" y="227.10" width="129.20" height="117.30"/></clipPath>
<rect x="1816.10" y="227.10" width="129.20" height="117.30" fill="#000000"/>
<g clip-path="url(#cp14)"><g filter="url(#bl)"><ellipse cx="1826.1" cy="243.7" rx="2.50" ry="2.50" fill="#1cf01c"/><ellipse cx="1834.0" cy="248.0" rx="2.60" ry="1.60" fill="#1cf01c" transform="rotate(-35 1834.0 248.0)"/><ellipse cx="1888.1" cy="245.8" rx="2.00" ry="2.70" fill="#1cf01c" transform="rotate(-20 1888.1 245.8)"/><ellipse cx="1912.5" cy="242.8" rx="3.80" ry="3.80" fill="#1cf01c"/><ellipse cx="1928.2" cy="240.5" rx="1.00" ry="1.00" fill="#1cf01c" opacity="0.4"/><ellipse cx="1839.5" cy="266.2" rx="1.50" ry="2.80" fill="#1cf01c" transform="rotate(20 1839.5 266.2)"/><ellipse cx="1885.1" cy="267.8" rx="2.60" ry="2.60" fill="#1cf01c"/><ellipse cx="1898.7" cy="274.3" rx="1.60" ry="2.80" fill="#1cf01c" transform="rotate(-20 1898.7 274.3)"/><ellipse cx="1905.9" cy="277.9" rx="2.80" ry="1.80" fill="#1cf01c" transform="rotate(-35 1905.9 277.9)"/><ellipse cx="1869.7" cy="286.2" rx="2.30" ry="2.00" fill="#1cf01c" opacity="0.45"/><ellipse cx="1932.4" cy="287.9" rx="1.50" ry="2.80" fill="#1cf01c" transform="rotate(-15 1932.4 287.9)"/><ellipse cx="1896.9" cy="292.1" rx="1.60" ry="2.80" fill="#1cf01c" transform="rotate(-30 1896.9 292.1)"/><ellipse cx="1900.9" cy="300.2" rx="2.80" ry="1.80" fill="#1cf01c" transform="rotate(35 1900.9 300.2)"/><ellipse cx="1834.5" cy="298.7" rx="1.50" ry="2.50" fill="#1cf01c" opacity="0.5"/><ellipse cx="1847.4" cy="305.9" rx="2.00" ry="2.80" fill="#1cf01c" opacity="0.45"/><ellipse cx="1892.3" cy="306.9" rx="2.60" ry="2.80" fill="#1cf01c" opacity="0.75"/><ellipse cx="1882.0" cy="324.3" rx="2.00" ry="2.60" fill="#1cf01c" opacity="0.6"/><ellipse cx="1838.6" cy="337.2" rx="4.00" ry="2.80" fill="#1cf01c" opacity="0.75"/></g></g>
<clipPath id="cp15"><rect x="1816.10" y="348.40" width="129.20" height="117.30"/></clipPath>
<rect x="1816.10" y="348.40" width="129.20" height="117.30" fill="#000004"/>
<g clip-path="url(#cp15)"><g filter="url(#bl)"><ellipse cx="1934.1" cy="353.1" rx="3.20" ry="2.50" fill="#0000ff" transform="rotate(-30 1934.1 353.1)"/><ellipse cx="1927.9" cy="362.1" rx="3.20" ry="2.20" fill="#0000ff" transform="rotate(-35 1927.9 362.1)"/><ellipse cx="1912.4" cy="364.3" rx="3.20" ry="3.20" fill="#0000ff"/><ellipse cx="1887.9" cy="367.4" rx="2.00" ry="2.50" fill="#0000ff"/><ellipse cx="1826.0" cy="365.3" rx="2.30" ry="2.30" fill="#0000ff"/><ellipse cx="1826.5" cy="371.1" rx="1.50" ry="1.50" fill="#0000ff"/><ellipse cx="1833.8" cy="369.7" rx="2.50" ry="1.60" fill="#0000ff" transform="rotate(-40 1833.8 369.7)"/><ellipse cx="1839.3" cy="388.0" rx="1.60" ry="3.00" fill="#0000ff" transform="rotate(15 1839.3 388.0)"/><ellipse cx="1817.6" cy="392.1" rx="2.00" ry="3.00" fill="#0000ff" transform="rotate(30 1817.6 392.1)"/><ellipse cx="1885.9" cy="383.5" rx="2.80" ry="2.80" fill="#0000ff"/><ellipse cx="1890.8" cy="384.4" rx="2.00" ry="2.00" fill="#0000ff" opacity="0.8"/><ellipse cx="1885.0" cy="389.3" rx="2.20" ry="2.20" fill="#0000ff"/><ellipse cx="1895.7" cy="390.1" rx="2.00" ry="2.80" fill="#0000ff" transform="rotate(-30 1895.7 390.1)"/><ellipse cx="1898.9" cy="395.8" rx="2.00" ry="3.30" fill="#0000ff" transform="rotate(-25 1898.9 395.8)"/><ellipse cx="1905.7" cy="399.5" rx="3.00" ry="1.60" fill="#0000ff" transform="rotate(-35 1905.7 399.5)"/><ellipse cx="1869.8" cy="408.0" rx="2.70" ry="2.00" fill="#0000ff" transform="rotate(40 1869.8 408.0)"/><ellipse cx="1932.4" cy="409.4" rx="1.40" ry="2.80" fill="#0000ff" transform="rotate(-15 1932.4 409.4)"/><ellipse cx="1827.4" cy="413.4" rx="3.80" ry="4.50" fill="#0000ff"/><ellipse cx="1820.9" cy="419.5" rx="3.00" ry="4.00" fill="#0000ff"/><ellipse cx="1825.0" cy="427.2" rx="3.00" ry="4.00" fill="#0000ff"/><ellipse cx="1834.4" cy="419.9" rx="2.00" ry="3.20" fill="#0000ff"/><ellipse cx="1852.4" cy="424.0" rx="3.50" ry="3.80" fill="#0000ff"/><ellipse cx="1847.9" cy="427.2" rx="3.00" ry="3.50" fill="#0000ff"/><ellipse cx="1896.9" cy="413.4" rx="1.60" ry="3.00" fill="#0000ff" transform="rotate(-35 1896.9 413.4)"/><ellipse cx="1901.0" cy="421.9" rx="3.00" ry="1.60" fill="#0000ff" transform="rotate(35 1901.0 421.9)"/><ellipse cx="1892.1" cy="428.5" rx="2.50" ry="2.50" fill="#0000ff"/><ellipse cx="1919.3" cy="440.7" rx="1.70" ry="2.20" fill="#0000ff"/><ellipse cx="1904.9" cy="442.8" rx="2.50" ry="2.50" fill="#0000ff"/><ellipse cx="1882.0" cy="445.9" rx="2.80" ry="2.40" fill="#0000ff" transform="rotate(40 1882.0 445.9)"/><ellipse cx="1933.6" cy="448.1" rx="2.20" ry="1.50" fill="#0000ff" transform="rotate(40 1933.6 448.1)"/><ellipse cx="1904.1" cy="451.1" rx="3.00" ry="2.30" fill="#0000ff"/><ellipse cx="1838.5" cy="458.7" rx="3.50" ry="2.30" fill="#0000ff"/><ellipse cx="1885.0" cy="461.2" rx="3.00" ry="2.50" fill="#0000ff"/><ellipse cx="1826.1" cy="365.0" rx="2.50" ry="2.50" fill="#20eac8"/><ellipse cx="1834.0" cy="369.3" rx="2.60" ry="1.60" fill="#20eac8" transform="rotate(-35 1834.0 369.3)"/><ellipse cx="1888.1" cy="367.1" rx="2.00" ry="2.70" fill="#20eac8" transform="rotate(-20 1888.1 367.1)"/><ellipse cx="1912.5" cy="364.1" rx="3.80" ry="3.80" fill="#20eac8"/><ellipse cx="1928.2" cy="361.8" rx="1.00" ry="1.00" fill="#20eac8" opacity="0.4"/><ellipse cx="1839.5" cy="387.5" rx="1.50" ry="2.80" fill="#20eac8" transform="rotate(20 1839.5 387.5)"/><ellipse cx="1885.1" cy="389.1" rx="2.60" ry="2.60" fill="#20eac8"/><ellipse cx="1898.7" cy="395.6" rx="1.60" ry="2.80" fill="#20eac8" transform="rotate(-20 1898.7 395.6)"/><ellipse cx="1905.9" cy="399.2" rx="2.80" ry="1.80" fill="#20eac8" transform="rotate(-35 1905.9 399.2)"/><ellipse cx="1869.7" cy="407.5" rx="2.30" ry="2.00" fill="#20eac8" opacity="0.45"/><ellipse cx="1932.4" cy="409.2" rx="1.50" ry="2.80" fill="#20eac8" transform="rotate(-15 1932.4 409.2)"/><ellipse cx="1896.9" cy="413.4" rx="1.60" ry="2.80" fill="#20eac8" transform="rotate(-30 1896.9 413.4)"/><ellipse cx="1900.9" cy="421.5" rx="2.80" ry="1.80" fill="#20eac8" transform="rotate(35 1900.9 421.5)"/><ellipse cx="1834.5" cy="420.0" rx="1.50" ry="2.50" fill="#20eac8" opacity="0.5"/><ellipse cx="1847.4" cy="427.2" rx="2.00" ry="2.80" fill="#20eac8" opacity="0.45"/><ellipse cx="1892.3" cy="428.2" rx="2.60" ry="2.80" fill="#20eac8" opacity="0.75"/><ellipse cx="1882.0" cy="445.6" rx="2.00" ry="2.60" fill="#20eac8" opacity="0.6"/><ellipse cx="1838.6" cy="458.5" rx="4.00" ry="2.80" fill="#20eac8" opacity="0.75"/></g></g>
<rect x="1911.00" y="450.95" width="21.20" height="3.50" fill="#fff"/>
<clipPath id="cp16"><rect x="1285.10" y="825.30" width="129.20" height="117.30"/></clipPath>
<rect x="1285.10" y="825.30" width="129.20" height="117.30" fill="#00000c"/>
<g clip-path="url(#cp16)"><g filter="url(#bl)"><ellipse cx="1352.7" cy="829.6" rx="3.00" ry="4.50" fill="#0000ff"/><ellipse cx="1362.3" cy="833.2" rx="2.60" ry="3.00" fill="#0000ff"/><ellipse cx="1383.0" cy="835.3" rx="2.60" ry="3.00" fill="#0000ff"/><ellipse cx="1404.9" cy="830.0" rx="1.80" ry="2.50" fill="#0000ff"/><ellipse cx="1326.8" cy="838.8" rx="3.00" ry="2.60" fill="#0000ff"/><ellipse cx="1337.6" cy="840.1" rx="2.80" ry="2.50" fill="#0000ff" transform="rotate(40 1337.6 840.1)"/><ellipse cx="1347.9" cy="843.0" rx="3.00" ry="3.30" fill="#0000ff"/><ellipse cx="1318.9" cy="852.0" rx="3.00" ry="3.00" fill="#0000ff"/><ellipse cx="1378.4" cy="851.0" rx="2.70" ry="3.30" fill="#0000ff"/><ellipse cx="1388.9" cy="856.6" rx="3.50" ry="4.00" fill="#0000ff"/><ellipse cx="1393.9" cy="851.3" rx="2.60" ry="3.00" fill="#0000ff"/><ellipse cx="1367.2" cy="864.4" rx="3.20" ry="2.70" fill="#0000ff"/><ellipse cx="1309.1" cy="872.1" rx="2.30" ry="2.70" fill="#0000ff"/><ellipse cx="1338.3" cy="878.3" rx="3.70" ry="5.00" fill="#0000ff"/><ellipse cx="1351.8" cy="873.0" rx="2.60" ry="3.60" fill="#0000ff"/><ellipse cx="1305.0" cy="888.8" rx="2.40" ry="2.60" fill="#0000ff"/><ellipse cx="1341.8" cy="900.0" rx="1.80" ry="3.50" fill="#0000ff"/><ellipse cx="1351.8" cy="899.7" rx="2.00" ry="3.50" fill="#0000ff" transform="rotate(20 1351.8 899.7)"/><ellipse cx="1331.7" cy="930.9" rx="2.80" ry="2.00" fill="#0000ff" transform="rotate(-35 1331.7 930.9)"/><ellipse cx="1355.1" cy="930.2" rx="2.60" ry="3.60" fill="#0000ff"/><ellipse cx="1376.7" cy="927.6" rx="3.00" ry="3.20" fill="#0000ff"/></g></g>
<clipPath id="cp17"><rect x="1285.10" y="947.10" width="129.20" height="117.30"/></clipPath>
<rect x="1285.10" y="947.10" width="129.20" height="117.30" fill="#000000"/>
<g clip-path="url(#cp17)"><g filter="url(#bl)"></g></g>
<clipPath id="cp18"><rect x="1285.10" y="1068.60" width="129.20" height="117.30"/></clipPath>
<rect x="1285.10" y="1068.60" width="129.20" height="117.30" fill="#00000e"/>
<g clip-path="url(#cp18)"><g filter="url(#bl)"><ellipse cx="1352.7" cy="1072.9" rx="3.00" ry="4.50" fill="#0000ff"/><ellipse cx="1362.3" cy="1076.5" rx="2.60" ry="3.00" fill="#0000ff"/><ellipse cx="1383.0" cy="1078.6" rx="2.60" ry="3.00" fill="#0000ff"/><ellipse cx="1404.9" cy="1073.3" rx="1.80" ry="2.50" fill="#0000ff"/><ellipse cx="1326.8" cy="1082.1" rx="3.00" ry="2.60" fill="#0000ff"/><ellipse cx="1337.6" cy="1083.4" rx="2.80" ry="2.50" fill="#0000ff" transform="rotate(40 1337.6 1083.4)"/><ellipse cx="1347.9" cy="1086.3" rx="3.00" ry="3.30" fill="#0000ff"/><ellipse cx="1318.9" cy="1095.3" rx="3.00" ry="3.00" fill="#0000ff"/><ellipse cx="1378.4" cy="1094.3" rx="2.70" ry="3.30" fill="#0000ff"/><ellipse cx="1388.9" cy="1099.9" rx="3.50" ry="4.00" fill="#0000ff"/><ellipse cx="1393.9" cy="1094.6" rx="2.60" ry="3.00" fill="#0000ff"/><ellipse cx="1367.2" cy="1107.7" rx="3.20" ry="2.70" fill="#0000ff"/><ellipse cx="1309.1" cy="1115.4" rx="2.30" ry="2.70" fill="#0000ff"/><ellipse cx="1338.3" cy="1121.6" rx="3.70" ry="5.00" fill="#0000ff"/><ellipse cx="1351.8" cy="1116.3" rx="2.60" ry="3.60" fill="#0000ff"/><ellipse cx="1305.0" cy="1132.1" rx="2.40" ry="2.60" fill="#0000ff"/><ellipse cx="1341.8" cy="1143.3" rx="1.80" ry="3.50" fill="#0000ff"/><ellipse cx="1351.8" cy="1143.0" rx="2.00" ry="3.50" fill="#0000ff" transform="rotate(20 1351.8 1143.0)"/><ellipse cx="1331.7" cy="1174.2" rx="2.80" ry="2.00" fill="#0000ff" transform="rotate(-35 1331.7 1174.2)"/><ellipse cx="1355.1" cy="1173.5" rx="2.60" ry="3.60" fill="#0000ff"/><ellipse cx="1376.7" cy="1170.9" rx="3.00" ry="3.20" fill="#0000ff"/></g></g>
<clipPath id="cp19"><rect x="1417.70" y="825.30" width="129.20" height="117.30"/></clipPath>
<rect x="1417.70" y="825.30" width="129.20" height="117.30" fill="#000008"/>
<g clip-path="url(#cp19)"><g filter="url(#bl)"><ellipse cx="1424.4" cy="830.9" rx="3.00" ry="3.00" fill="#0000ff"/><ellipse cx="1432.9" cy="829.0" rx="3.50" ry="3.50" fill="#0000ff"/><ellipse cx="1427.7" cy="834.9" rx="2.80" ry="2.80" fill="#0000ff"/><ellipse cx="1448.4" cy="829.9" rx="2.00" ry="2.00" fill="#0000ff"/><ellipse cx="1418.5" cy="837.5" rx="1.50" ry="1.50" fill="#0000ff"/><ellipse cx="1448.0" cy="845.4" rx="4.00" ry="7.00" fill="#0000ff" transform="rotate(10 1448.0 845.4)"/><ellipse cx="1447.4" cy="866.4" rx="2.00" ry="2.00" fill="#0000ff"/><ellipse cx="1445.4" cy="876.5" rx="2.20" ry="2.80" fill="#0000ff" transform="rotate(-40 1445.4 876.5)"/><ellipse cx="1457.6" cy="879.2" rx="5.00" ry="4.00" fill="#0000ff" transform="rotate(-40 1457.6 879.2)"/><ellipse cx="1484.6" cy="861.2" rx="3.30" ry="6.50" fill="#0000ff"/><ellipse cx="1508.5" cy="848.7" rx="2.00" ry="2.00" fill="#0000ff"/><ellipse cx="1507.6" cy="852.6" rx="2.00" ry="2.00" fill="#0000ff"/><ellipse cx="1508.5" cy="868.4" rx="2.00" ry="3.80" fill="#0000ff" transform="rotate(-15 1508.5 868.4)"/><ellipse cx="1514.5" cy="881.5" rx="1.60" ry="1.60" fill="#0000ff"/><ellipse cx="1521.3" cy="882.2" rx="3.20" ry="3.80" fill="#0000ff"/><ellipse cx="1510.1" cy="902.3" rx="2.80" ry="2.00" fill="#0000ff"/><ellipse cx="1487.2" cy="909.8" rx="2.60" ry="3.30" fill="#0000ff"/><ellipse cx="1485.9" cy="914.4" rx="2.00" ry="2.00" fill="#0000ff"/><ellipse cx="1485.5" cy="919.7" rx="1.80" ry="1.80" fill="#0000ff"/><ellipse cx="1461.2" cy="917.7" rx="2.40" ry="3.00" fill="#0000ff"/><ellipse cx="1507.2" cy="917.7" rx="2.50" ry="3.00" fill="#0000ff"/><ellipse cx="1504.9" cy="923.0" rx="2.30" ry="2.30" fill="#0000ff"/><ellipse cx="1534.4" cy="910.9" rx="2.00" ry="3.40" fill="#0000ff"/><ellipse cx="1526.7" cy="923.4" rx="1.50" ry="1.50" fill="#0000ff"/><ellipse cx="1534.8" cy="929.5" rx="2.80" ry="2.40" fill="#0000ff"/><ellipse cx="1528.9" cy="936.1" rx="2.40" ry="2.80" fill="#0000ff"/><ellipse cx="1421.8" cy="919.7" rx="3.50" ry="3.80" fill="#0000ff"/><ellipse cx="1429.6" cy="923.6" rx="2.50" ry="3.20" fill="#0000ff"/><ellipse cx="1426.0" cy="934.0" rx="8.00" ry="11.00" fill="#0000ff" opacity="0.3" filter="url(#bl2)"/></g></g>
<clipPath id="cp20"><rect x="1417.70" y="947.10" width="129.20" height="117.30"/></clipPath>
<rect x="1417.70" y="947.10" width="129.20" height="117.30" fill="#000000"/>
<g clip-path="url(#cp20)"><g filter="url(#bl)"><ellipse cx="1424.4" cy="952.7" rx="3.00" ry="3.00" fill="#1cf01c"/><ellipse cx="1432.9" cy="950.8" rx="3.50" ry="3.50" fill="#1cf01c"/><ellipse cx="1427.7" cy="956.7" rx="2.80" ry="2.80" fill="#1cf01c"/><ellipse cx="1448.4" cy="951.7" rx="2.00" ry="2.00" fill="#1cf01c"/><ellipse cx="1418.5" cy="959.3" rx="1.50" ry="1.50" fill="#1cf01c"/><ellipse cx="1448.0" cy="967.2" rx="4.00" ry="7.00" fill="#1cf01c" transform="rotate(10 1448.0 967.2)"/><ellipse cx="1447.4" cy="988.2" rx="2.00" ry="2.00" fill="#1cf01c"/><ellipse cx="1445.4" cy="998.3" rx="2.20" ry="2.80" fill="#1cf01c" transform="rotate(-40 1445.4 998.3)"/><ellipse cx="1457.6" cy="1001.0" rx="5.00" ry="4.00" fill="#1cf01c" transform="rotate(-40 1457.6 1001.0)"/><ellipse cx="1484.6" cy="983.0" rx="3.30" ry="6.50" fill="#1cf01c"/><ellipse cx="1508.5" cy="970.5" rx="2.00" ry="2.00" fill="#1cf01c"/><ellipse cx="1507.6" cy="974.4" rx="2.00" ry="2.00" fill="#1cf01c"/><ellipse cx="1508.5" cy="990.2" rx="2.00" ry="3.80" fill="#1cf01c" transform="rotate(-15 1508.5 990.2)"/><ellipse cx="1514.5" cy="1003.3" rx="1.60" ry="1.60" fill="#1cf01c"/><ellipse cx="1521.3" cy="1004.0" rx="3.20" ry="3.80" fill="#1cf01c"/><ellipse cx="1510.1" cy="1024.1" rx="2.80" ry="2.00" fill="#1cf01c"/><ellipse cx="1487.2" cy="1031.6" rx="2.60" ry="3.30" fill="#1cf01c"/><ellipse cx="1485.9" cy="1036.2" rx="2.00" ry="2.00" fill="#1cf01c"/><ellipse cx="1485.5" cy="1041.5" rx="1.80" ry="1.80" fill="#1cf01c"/><ellipse cx="1461.2" cy="1039.5" rx="2.40" ry="3.00" fill="#1cf01c"/><ellipse cx="1507.2" cy="1039.5" rx="2.50" ry="3.00" fill="#1cf01c"/><ellipse cx="1504.9" cy="1044.8" rx="2.30" ry="2.30" fill="#1cf01c"/><ellipse cx="1534.4" cy="1032.7" rx="2.00" ry="3.40" fill="#1cf01c"/><ellipse cx="1526.7" cy="1045.2" rx="1.50" ry="1.50" fill="#1cf01c"/><ellipse cx="1534.8" cy="1051.3" rx="2.80" ry="2.40" fill="#1cf01c"/><ellipse cx="1528.9" cy="1057.9" rx="2.40" ry="2.80" fill="#1cf01c"/><ellipse cx="1421.8" cy="1041.5" rx="3.50" ry="3.80" fill="#1cf01c"/><ellipse cx="1429.6" cy="1045.4" rx="2.50" ry="3.20" fill="#1cf01c"/></g></g>
<clipPath id="cp21"><rect x="1417.70" y="1068.60" width="129.20" height="117.30"/></clipPath>
<rect x="1417.70" y="1068.60" width="129.20" height="117.30" fill="#00000a"/>
<g clip-path="url(#cp21)"><g filter="url(#bl)"><ellipse cx="1424.4" cy="1074.2" rx="3.00" ry="3.00" fill="#0000ff"/><ellipse cx="1432.9" cy="1072.3" rx="3.50" ry="3.50" fill="#0000ff"/><ellipse cx="1427.7" cy="1078.2" rx="2.80" ry="2.80" fill="#0000ff"/><ellipse cx="1448.4" cy="1073.2" rx="2.00" ry="2.00" fill="#0000ff"/><ellipse cx="1418.5" cy="1080.8" rx="1.50" ry="1.50" fill="#0000ff"/><ellipse cx="1448.0" cy="1088.7" rx="4.00" ry="7.00" fill="#0000ff" transform="rotate(10 1448.0 1088.7)"/><ellipse cx="1447.4" cy="1109.7" rx="2.00" ry="2.00" fill="#0000ff"/><ellipse cx="1445.4" cy="1119.8" rx="2.20" ry="2.80" fill="#0000ff" transform="rotate(-40 1445.4 1119.8)"/><ellipse cx="1457.6" cy="1122.5" rx="5.00" ry="4.00" fill="#0000ff" transform="rotate(-40 1457.6 1122.5)"/><ellipse cx="1484.6" cy="1104.5" rx="3.30" ry="6.50" fill="#0000ff"/><ellipse cx="1508.5" cy="1092.0" rx="2.00" ry="2.00" fill="#0000ff"/><ellipse cx="1507.6" cy="1095.9" rx="2.00" ry="2.00" fill="#0000ff"/><ellipse cx="1508.5" cy="1111.7" rx="2.00" ry="3.80" fill="#0000ff" transform="rotate(-15 1508.5 1111.7)"/><ellipse cx="1514.5" cy="1124.8" rx="1.60" ry="1.60" fill="#0000ff"/><ellipse cx="1521.3" cy="1125.5" rx="3.20" ry="3.80" fill="#0000ff"/><ellipse cx="1510.1" cy="1145.6" rx="2.80" ry="2.00" fill="#0000ff"/><ellipse cx="1487.2" cy="1153.1" rx="2.60" ry="3.30" fill="#0000ff"/><ellipse cx="1485.9" cy="1157.7" rx="2.00" ry="2.00" fill="#0000ff"/><ellipse cx="1485.5" cy="1163.0" rx="1.80" ry="1.80" fill="#0000ff"/><ellipse cx="1461.2" cy="1161.0" rx="2.40" ry="3.00" fill="#0000ff"/><ellipse cx="1507.2" cy="1161.0" rx="2.50" ry="3.00" fill="#0000ff"/><ellipse cx="1504.9" cy="1166.3" rx="2.30" ry="2.30" fill="#0000ff"/><ellipse cx="1534.4" cy="1154.2" rx="2.00" ry="3.40" fill="#0000ff"/><ellipse cx="1526.7" cy="1166.7" rx="1.50" ry="1.50" fill="#0000ff"/><ellipse cx="1534.8" cy="1172.8" rx="2.80" ry="2.40" fill="#0000ff"/><ellipse cx="1528.9" cy="1179.4" rx="2.40" ry="2.80" fill="#0000ff"/><ellipse cx="1421.8" cy="1163.0" rx="3.50" ry="3.80" fill="#0000ff"/><ellipse cx="1429.6" cy="1166.9" rx="2.50" ry="3.20" fill="#0000ff"/><ellipse cx="1426.0" cy="1177.3" rx="8.00" ry="11.00" fill="#0000ff" opacity="0.3" filter="url(#bl2)"/><ellipse cx="1424.4" cy="1074.2" rx="3.00" ry="3.00" fill="#10e4ff"/><ellipse cx="1432.9" cy="1072.3" rx="3.50" ry="3.50" fill="#10e4ff"/><ellipse cx="1427.7" cy="1078.2" rx="2.80" ry="2.80" fill="#10e4ff"/><ellipse cx="1448.4" cy="1073.2" rx="2.00" ry="2.00" fill="#10e4ff"/><ellipse cx="1418.5" cy="1080.8" rx="1.50" ry="1.50" fill="#10e4ff"/><ellipse cx="1448.0" cy="1088.7" rx="4.00" ry="7.00" fill="#10e4ff" transform="rotate(10 1448.0 1088.7)"/><ellipse cx="1447.4" cy="1109.7" rx="2.00" ry="2.00" fill="#10e4ff"/><ellipse cx="1445.4" cy="1119.8" rx="2.20" ry="2.80" fill="#10e4ff" transform="rotate(-40 1445.4 1119.8)"/><ellipse cx="1457.6" cy="1122.5" rx="5.00" ry="4.00" fill="#10e4ff" transform="rotate(-40 1457.6 1122.5)"/><ellipse cx="1484.6" cy="1104.5" rx="3.30" ry="6.50" fill="#10e4ff"/><ellipse cx="1508.5" cy="1092.0" rx="2.00" ry="2.00" fill="#10e4ff"/><ellipse cx="1507.6" cy="1095.9" rx="2.00" ry="2.00" fill="#10e4ff"/><ellipse cx="1508.5" cy="1111.7" rx="2.00" ry="3.80" fill="#10e4ff" transform="rotate(-15 1508.5 1111.7)"/><ellipse cx="1514.5" cy="1124.8" rx="1.60" ry="1.60" fill="#10e4ff"/><ellipse cx="1521.3" cy="1125.5" rx="3.20" ry="3.80" fill="#10e4ff"/><ellipse cx="1510.1" cy="1145.6" rx="2.80" ry="2.00" fill="#10e4ff"/><ellipse cx="1487.2" cy="1153.1" rx="2.60" ry="3.30" fill="#10e4ff"/><ellipse cx="1485.9" cy="1157.7" rx="2.00" ry="2.00" fill="#10e4ff"/><ellipse cx="1485.5" cy="1163.0" rx="1.80" ry="1.80" fill="#10e4ff"/><ellipse cx="1461.2" cy="1161.0" rx="2.40" ry="3.00" fill="#10e4ff"/><ellipse cx="1507.2" cy="1161.0" rx="2.50" ry="3.00" fill="#10e4ff"/><ellipse cx="1504.9" cy="1166.3" rx="2.30" ry="2.30" fill="#10e4ff"/><ellipse cx="1534.4" cy="1154.2" rx="2.00" ry="3.40" fill="#10e4ff"/><ellipse cx="1526.7" cy="1166.7" rx="1.50" ry="1.50" fill="#10e4ff"/><ellipse cx="1534.8" cy="1172.8" rx="2.80" ry="2.40" fill="#10e4ff"/><ellipse cx="1528.9" cy="1179.4" rx="2.40" ry="2.80" fill="#10e4ff"/><ellipse cx="1421.8" cy="1163.0" rx="3.50" ry="3.80" fill="#10e4ff"/><ellipse cx="1429.6" cy="1166.9" rx="2.50" ry="3.20" fill="#10e4ff"/></g></g>
<clipPath id="cp22"><rect x="1550.70" y="825.30" width="129.20" height="117.30"/></clipPath>
<rect x="1550.70" y="825.30" width="129.20" height="117.30" fill="#00000a"/>
<g clip-path="url(#cp22)"><g filter="url(#bl)"><ellipse cx="1566.4" cy="827.6" rx="2.60" ry="2.60" fill="#0000ff"/><ellipse cx="1560.3" cy="831.6" rx="3.00" ry="3.00" fill="#0000ff"/><ellipse cx="1563.8" cy="836.6" rx="2.80" ry="2.80" fill="#0000ff"/><ellipse cx="1569.1" cy="838.5" rx="2.30" ry="2.30" fill="#0000ff"/><ellipse cx="1570.8" cy="843.1" rx="2.20" ry="2.20" fill="#0000ff"/><ellipse cx="1563.1" cy="848.4" rx="2.30" ry="2.30" fill="#0000ff"/><ellipse cx="1561.6" cy="873.0" rx="3.80" ry="4.00" fill="#0000ff"/><ellipse cx="1592.1" cy="865.8" rx="2.60" ry="2.60" fill="#0000ff"/><ellipse cx="1596.0" cy="869.0" rx="2.60" ry="2.60" fill="#0000ff"/><ellipse cx="1600.0" cy="867.7" rx="2.80" ry="2.80" fill="#0000ff"/><ellipse cx="1662.0" cy="849.3" rx="1.50" ry="2.50" fill="#0000ff"/><ellipse cx="1657.2" cy="875.2" rx="2.30" ry="1.70" fill="#0000ff"/><ellipse cx="1665.1" cy="881.3" rx="2.20" ry="2.20" fill="#0000ff"/><ellipse cx="1634.8" cy="886.1" rx="2.40" ry="3.20" fill="#0000ff"/><ellipse cx="1589.2" cy="897.6" rx="2.30" ry="2.30" fill="#0000ff"/><ellipse cx="1596.0" cy="899.7" rx="2.00" ry="2.80" fill="#0000ff"/><ellipse cx="1605.9" cy="901.9" rx="2.20" ry="3.20" fill="#0000ff"/><ellipse cx="1598.7" cy="907.6" rx="2.00" ry="2.80" fill="#0000ff"/><ellipse cx="1599.7" cy="921.3" rx="2.00" ry="2.70" fill="#0000ff"/></g></g>
<clipPath id="cp23"><rect x="1550.70" y="947.10" width="129.20" height="117.30"/></clipPath>
<rect x="1550.70" y="947.10" width="129.20" height="117.30" fill="#000000"/>
<g clip-path="url(#cp23)"><g filter="url(#bl)"><path d="M1566.7 1002.1 Q1588.7 983.1 1612.7 991.1 Q1648.7 1002.1 1642.7 1027.1 Q1630.7 1059.1 1605.7 1061.1 Q1570.7 1055.1 1566.7 1002.1Z" fill="#1c5c1c" opacity="0.5" filter="url(#mott)"/></g></g>
<clipPath id="cp24"><rect x="1550.70" y="1068.60" width="129.20" height="117.30"/></clipPath>
<rect x="1550.70" y="1068.60" width="129.20" height="117.30" fill="#000008"/>
<g clip-path="url(#cp24)"><g filter="url(#bl)"><ellipse cx="1597.7" cy="1141.6" rx="38" ry="35" fill="#0b220f" opacity="0.06" filter="url(#bl3)"/><ellipse cx="1566.4" cy="1070.9" rx="2.60" ry="2.60" fill="#0000ff"/><ellipse cx="1560.3" cy="1074.9" rx="3.00" ry="3.00" fill="#0000ff"/><ellipse cx="1563.8" cy="1079.9" rx="2.80" ry="2.80" fill="#0000ff"/><ellipse cx="1569.1" cy="1081.8" rx="2.30" ry="2.30" fill="#0000ff"/><ellipse cx="1570.8" cy="1086.4" rx="2.20" ry="2.20" fill="#0000ff"/><ellipse cx="1563.1" cy="1091.7" rx="2.30" ry="2.30" fill="#0000ff"/><ellipse cx="1561.6" cy="1116.3" rx="3.80" ry="4.00" fill="#0000ff"/><ellipse cx="1592.1" cy="1109.1" rx="2.60" ry="2.60" fill="#0000ff"/><ellipse cx="1596.0" cy="1112.3" rx="2.60" ry="2.60" fill="#0000ff"/><ellipse cx="1600.0" cy="1111.0" rx="2.80" ry="2.80" fill="#0000ff"/><ellipse cx="1662.0" cy="1092.6" rx="1.50" ry="2.50" fill="#0000ff"/><ellipse cx="1657.2" cy="1118.5" rx="2.30" ry="1.70" fill="#0000ff"/><ellipse cx="1665.1" cy="1124.6" rx="2.20" ry="2.20" fill="#0000ff"/><ellipse cx="1634.8" cy="1129.4" rx="2.40" ry="3.20" fill="#0000ff"/><ellipse cx="1589.2" cy="1140.9" rx="2.30" ry="2.30" fill="#0000ff"/><ellipse cx="1596.0" cy="1143.0" rx="2.00" ry="2.80" fill="#0000ff"/><ellipse cx="1605.9" cy="1145.2" rx="2.20" ry="3.20" fill="#0000ff"/><ellipse cx="1598.7" cy="1150.9" rx="2.00" ry="2.80" fill="#0000ff"/><ellipse cx="1599.7" cy="1164.6" rx="2.00" ry="2.70" fill="#0000ff"/></g></g>
<clipPath id="cp25"><rect x="1683.30" y="825.30" width="129.20" height="117.30"/></clipPath>
<rect x="1683.30" y="825.30" width="129.20" height="117.30" fill="#000006"/>
<g clip-path="url(#cp25)"><g filter="url(#bl)"><ellipse cx="1802.5" cy="825.7" rx="1.50" ry="1.50" fill="#0000ff"/><ellipse cx="1807.5" cy="829.2" rx="1.80" ry="1.80" fill="#0000ff"/><ellipse cx="1695.7" cy="837.1" rx="2.30" ry="3.30" fill="#0000ff" transform="rotate(-30 1695.7 837.1)"/><ellipse cx="1725.5" cy="841.4" rx="2.30" ry="2.80" fill="#0000ff"/><ellipse cx="1765.6" cy="850.0" rx="2.30" ry="1.80" fill="#0000ff"/><ellipse cx="1753.5" cy="863.1" rx="3.50" ry="5.50" fill="#0000ff"/><ellipse cx="1755.4" cy="869.7" rx="2.00" ry="2.00" fill="#0000ff"/><ellipse cx="1764.6" cy="869.0" rx="1.80" ry="1.80" fill="#0000ff"/><ellipse cx="1701.2" cy="873.7" rx="4.00" ry="4.00" fill="#0000ff"/><ellipse cx="1706.5" cy="878.9" rx="2.00" ry="2.00" fill="#0000ff"/><ellipse cx="1786.7" cy="875.2" rx="4.00" ry="3.20" fill="#0000ff"/><ellipse cx="1750.9" cy="881.8" rx="2.80" ry="2.80" fill="#0000ff"/><ellipse cx="1762.0" cy="880.2" rx="2.20" ry="2.20" fill="#0000ff"/><ellipse cx="1761.0" cy="884.8" rx="2.00" ry="2.00" fill="#0000ff"/><ellipse cx="1799.8" cy="906.3" rx="2.30" ry="2.30" fill="#0000ff"/><ellipse cx="1738.7" cy="914.0" rx="3.00" ry="2.50" fill="#0000ff"/><ellipse cx="1769.6" cy="932.2" rx="2.80" ry="2.20" fill="#0000ff"/><ellipse cx="1755.8" cy="937.2" rx="3.20" ry="4.00" fill="#0000ff"/></g></g>
<clipPath id="cp26"><rect x="1683.30" y="947.10" width="129.20" height="117.30"/></clipPath>
<rect x="1683.30" y="947.10" width="129.20" height="117.30" fill="#000000"/>
<g clip-path="url(#cp26)"><g filter="url(#bl)"><ellipse cx="1802.5" cy="947.5" rx="1.50" ry="1.50" fill="#1cf01c"/><ellipse cx="1807.5" cy="951.0" rx="1.80" ry="1.80" fill="#1cf01c"/><ellipse cx="1695.7" cy="958.9" rx="2.30" ry="3.30" fill="#1cf01c" transform="rotate(-30 1695.7 958.9)"/><ellipse cx="1725.5" cy="963.2" rx="2.30" ry="2.80" fill="#1cf01c"/><ellipse cx="1765.6" cy="971.8" rx="2.30" ry="1.80" fill="#1cf01c"/><ellipse cx="1753.5" cy="984.9" rx="3.50" ry="5.50" fill="#1cf01c"/><ellipse cx="1755.4" cy="991.5" rx="2.00" ry="2.00" fill="#1cf01c"/><ellipse cx="1764.6" cy="990.8" rx="1.80" ry="1.80" fill="#1cf01c"/><ellipse cx="1701.2" cy="995.5" rx="4.00" ry="4.00" fill="#1cf01c"/><ellipse cx="1706.5" cy="1000.7" rx="2.00" ry="2.00" fill="#1cf01c"/><ellipse cx="1786.7" cy="997.0" rx="4.00" ry="3.20" fill="#1cf01c"/><ellipse cx="1750.9" cy="1003.6" rx="2.80" ry="2.80" fill="#1cf01c"/><ellipse cx="1762.0" cy="1002.0" rx="2.20" ry="2.20" fill="#1cf01c"/><ellipse cx="1761.0" cy="1006.6" rx="2.00" ry="2.00" fill="#1cf01c"/><ellipse cx="1799.8" cy="1028.1" rx="2.30" ry="2.30" fill="#1cf01c"/><ellipse cx="1738.7" cy="1035.8" rx="3.00" ry="2.50" fill="#1cf01c"/><ellipse cx="1769.6" cy="1054.0" rx="2.80" ry="2.20" fill="#1cf01c"/><ellipse cx="1755.8" cy="1059.0" rx="3.20" ry="4.00" fill="#1cf01c"/></g></g>
<clipPath id="cp27"><rect x="1683.30" y="1068.60" width="129.20" height="117.30"/></clipPath>
<rect x="1683.30" y="1068.60" width="129.20" height="117.30" fill="#000004"/>
<g clip-path="url(#cp27)"><g filter="url(#bl)"><ellipse cx="1802.5" cy="1069.0" rx="1.50" ry="1.50" fill="#0000ff"/><ellipse cx="1807.5" cy="1072.5" rx="1.80" ry="1.80" fill="#0000ff"/><ellipse cx="1695.7" cy="1080.4" rx="2.30" ry="3.30" fill="#0000ff" transform="rotate(-30 1695.7 1080.4)"/><ellipse cx="1725.5" cy="1084.7" rx="2.30" ry="2.80" fill="#0000ff"/><ellipse cx="1765.6" cy="1093.3" rx="2.30" ry="1.80" fill="#0000ff"/><ellipse cx="1753.5" cy="1106.4" rx="3.50" ry="5.50" fill="#0000ff"/><ellipse cx="1755.4" cy="1113.0" rx="2.00" ry="2.00" fill="#0000ff"/><ellipse cx="1764.6" cy="1112.3" rx="1.80" ry="1.80" fill="#0000ff"/><ellipse cx="1701.2" cy="1117.0" rx="4.00" ry="4.00" fill="#0000ff"/><ellipse cx="1706.5" cy="1122.2" rx="2.00" ry="2.00" fill="#0000ff"/><ellipse cx="1786.7" cy="1118.5" rx="4.00" ry="3.20" fill="#0000ff"/><ellipse cx="1750.9" cy="1125.1" rx="2.80" ry="2.80" fill="#0000ff"/><ellipse cx="1762.0" cy="1123.5" rx="2.20" ry="2.20" fill="#0000ff"/><ellipse cx="1761.0" cy="1128.1" rx="2.00" ry="2.00" fill="#0000ff"/><ellipse cx="1799.8" cy="1149.6" rx="2.30" ry="2.30" fill="#0000ff"/><ellipse cx="1738.7" cy="1157.3" rx="3.00" ry="2.50" fill="#0000ff"/><ellipse cx="1769.6" cy="1175.5" rx="2.80" ry="2.20" fill="#0000ff"/><ellipse cx="1755.8" cy="1180.5" rx="3.20" ry="4.00" fill="#0000ff"/><ellipse cx="1802.5" cy="1069.0" rx="1.50" ry="1.50" fill="#10e4ff"/><ellipse cx="1807.5" cy="1072.5" rx="1.80" ry="1.80" fill="#10e4ff"/><ellipse cx="1695.7" cy="1080.4" rx="2.30" ry="3.30" fill="#10e4ff" transform="rotate(-30 1695.7 1080.4)"/><ellipse cx="1725.5" cy="1084.7" rx="2.30" ry="2.80" fill="#10e4ff"/><ellipse cx="1765.6" cy="1093.3" rx="2.30" ry="1.80" fill="#10e4ff"/><ellipse cx="1753.5" cy="1106.4" rx="3.50" ry="5.50" fill="#10e4ff"/><ellipse cx="1755.4" cy="1113.0" rx="2.00" ry="2.00" fill="#10e4ff"/><ellipse cx="1764.6" cy="1112.3" rx="1.80" ry="1.80" fill="#10e4ff"/><ellipse cx="1701.2" cy="1117.0" rx="4.00" ry="4.00" fill="#10e4ff"/><ellipse cx="1706.5" cy="1122.2" rx="2.00" ry="2.00" fill="#10e4ff"/><ellipse cx="1786.7" cy="1118.5" rx="4.00" ry="3.20" fill="#10e4ff"/><ellipse cx="1750.9" cy="1125.1" rx="2.80" ry="2.80" fill="#10e4ff"/><ellipse cx="1762.0" cy="1123.5" rx="2.20" ry="2.20" fill="#10e4ff"/><ellipse cx="1761.0" cy="1128.1" rx="2.00" ry="2.00" fill="#10e4ff"/><ellipse cx="1799.8" cy="1149.6" rx="2.30" ry="2.30" fill="#10e4ff"/><ellipse cx="1738.7" cy="1157.3" rx="3.00" ry="2.50" fill="#10e4ff"/><ellipse cx="1769.6" cy="1175.5" rx="2.80" ry="2.20" fill="#10e4ff"/><ellipse cx="1755.8" cy="1180.5" rx="3.20" ry="4.00" fill="#10e4ff"/></g></g>
<clipPath id="cp28"><rect x="1816.10" y="825.30" width="129.20" height="117.30"/></clipPath>
<rect x="1816.10" y="825.30" width="129.20" height="117.30" fill="#000006"/>
<g clip-path="url(#cp28)"><g filter="url(#bl)"><ellipse cx="1881.0" cy="836.0" rx="1.50" ry="2.50" fill="#0000ff" opacity="0.5"/><ellipse cx="1829.1" cy="851.6" rx="2.60" ry="2.60" fill="#0000ff"/><ellipse cx="1831.1" cy="854.8" rx="1.80" ry="1.80" fill="#0000ff"/><ellipse cx="1848.7" cy="856.2" rx="2.00" ry="2.00" fill="#0000ff"/><ellipse cx="1895.9" cy="849.5" rx="2.00" ry="1.70" fill="#0000ff"/><ellipse cx="1892.4" cy="867.1" rx="2.50" ry="3.70" fill="#0000ff"/><ellipse cx="1880.0" cy="885.5" rx="1.80" ry="2.40" fill="#0000ff"/><ellipse cx="1890.8" cy="886.3" rx="2.20" ry="3.30" fill="#0000ff"/><ellipse cx="1915.7" cy="883.2" rx="2.40" ry="2.80" fill="#0000ff"/><ellipse cx="1874.4" cy="891.6" rx="2.80" ry="2.80" fill="#0000ff"/><ellipse cx="1877.7" cy="898.1" rx="3.20" ry="3.20" fill="#0000ff"/><ellipse cx="1883.4" cy="899.8" rx="2.60" ry="2.60" fill="#0000ff"/><ellipse cx="1880.5" cy="902.2" rx="2.40" ry="2.40" fill="#0000ff"/><ellipse cx="1862.2" cy="910.8" rx="1.60" ry="2.50" fill="#0000ff"/><ellipse cx="1908.7" cy="914.9" rx="3.00" ry="2.50" fill="#0000ff"/><ellipse cx="1885.3" cy="927.9" rx="2.80" ry="2.80" fill="#0000ff"/><ellipse cx="1890.8" cy="929.2" rx="2.60" ry="2.60" fill="#0000ff"/><ellipse cx="1893.6" cy="925.5" rx="2.50" ry="2.50" fill="#0000ff"/><ellipse cx="1897.7" cy="928.9" rx="2.80" ry="2.80" fill="#0000ff"/><ellipse cx="1903.8" cy="935.3" rx="2.20" ry="2.20" fill="#0000ff"/></g></g>
<clipPath id="cp29"><rect x="1816.10" y="947.10" width="129.20" height="117.30"/></clipPath>
<rect x="1816.10" y="947.10" width="129.20" height="117.30" fill="#000000"/>
<g clip-path="url(#cp29)"><g filter="url(#bl)"><ellipse cx="1829.1" cy="973.4" rx="2.60" ry="2.60" fill="#1cf01c"/><ellipse cx="1831.1" cy="976.6" rx="1.80" ry="1.80" fill="#1cf01c"/><ellipse cx="1848.7" cy="978.0" rx="2.00" ry="2.00" fill="#1cf01c"/><ellipse cx="1895.9" cy="971.3" rx="2.00" ry="1.70" fill="#1cf01c"/><ellipse cx="1892.4" cy="988.9" rx="2.50" ry="3.70" fill="#1cf01c"/><ellipse cx="1880.0" cy="1007.3" rx="1.80" ry="2.40" fill="#1cf01c"/><ellipse cx="1890.8" cy="1008.1" rx="2.20" ry="3.30" fill="#1cf01c"/><ellipse cx="1915.7" cy="1005.0" rx="2.40" ry="2.80" fill="#1cf01c"/><ellipse cx="1874.4" cy="1013.4" rx="2.80" ry="2.80" fill="#1cf01c"/><ellipse cx="1877.7" cy="1019.9" rx="3.20" ry="3.20" fill="#1cf01c"/><ellipse cx="1883.4" cy="1021.6" rx="2.60" ry="2.60" fill="#1cf01c"/><ellipse cx="1880.5" cy="1024.0" rx="2.40" ry="2.40" fill="#1cf01c"/><ellipse cx="1862.2" cy="1032.6" rx="1.60" ry="2.50" fill="#1cf01c"/><ellipse cx="1908.7" cy="1036.7" rx="3.00" ry="2.50" fill="#1cf01c"/><ellipse cx="1885.3" cy="1049.7" rx="2.80" ry="2.80" fill="#1cf01c"/><ellipse cx="1890.8" cy="1051.0" rx="2.60" ry="2.60" fill="#1cf01c"/><ellipse cx="1893.6" cy="1047.3" rx="2.50" ry="2.50" fill="#1cf01c"/><ellipse cx="1897.7" cy="1050.7" rx="2.80" ry="2.80" fill="#1cf01c"/><ellipse cx="1903.8" cy="1057.1" rx="2.20" ry="2.20" fill="#1cf01c"/></g></g>
<clipPath id="cp30"><rect x="1816.10" y="1068.60" width="129.20" height="117.30"/></clipPath>
<rect x="1816.10" y="1068.60" width="129.20" height="117.30" fill="#000004"/>
<g clip-path="url(#cp30)"><g filter="url(#bl)"><ellipse cx="1881.0" cy="1079.3" rx="1.50" ry="2.50" fill="#0000ff" opacity="0.5"/><ellipse cx="1829.1" cy="1094.9" rx="2.60" ry="2.60" fill="#0000ff"/><ellipse cx="1831.1" cy="1098.1" rx="1.80" ry="1.80" fill="#0000ff"/><ellipse cx="1848.7" cy="1099.5" rx="2.00" ry="2.00" fill="#0000ff"/><ellipse cx="1895.9" cy="1092.8" rx="2.00" ry="1.70" fill="#0000ff"/><ellipse cx="1892.4" cy="1110.4" rx="2.50" ry="3.70" fill="#0000ff"/><ellipse cx="1880.0" cy="1128.8" rx="1.80" ry="2.40" fill="#0000ff"/><ellipse cx="1890.8" cy="1129.6" rx="2.20" ry="3.30" fill="#0000ff"/><ellipse cx="1915.7" cy="1126.5" rx="2.40" ry="2.80" fill="#0000ff"/><ellipse cx="1874.4" cy="1134.9" rx="2.80" ry="2.80" fill="#0000ff"/><ellipse cx="1877.7" cy="1141.4" rx="3.20" ry="3.20" fill="#0000ff"/><ellipse cx="1883.4" cy="1143.1" rx="2.60" ry="2.60" fill="#0000ff"/><ellipse cx="1880.5" cy="1145.5" rx="2.40" ry="2.40" fill="#0000ff"/><ellipse cx="1862.2" cy="1154.1" rx="1.60" ry="2.50" fill="#0000ff"/><ellipse cx="1908.7" cy="1158.2" rx="3.00" ry="2.50" fill="#0000ff"/><ellipse cx="1885.3" cy="1171.2" rx="2.80" ry="2.80" fill="#0000ff"/><ellipse cx="1890.8" cy="1172.5" rx="2.60" ry="2.60" fill="#0000ff"/><ellipse cx="1893.6" cy="1168.8" rx="2.50" ry="2.50" fill="#0000ff"/><ellipse cx="1897.7" cy="1172.2" rx="2.80" ry="2.80" fill="#0000ff"/><ellipse cx="1903.8" cy="1178.6" rx="2.20" ry="2.20" fill="#0000ff"/><ellipse cx="1829.1" cy="1094.9" rx="2.60" ry="2.60" fill="#10e4ff"/><ellipse cx="1831.1" cy="1098.1" rx="1.80" ry="1.80" fill="#10e4ff"/><ellipse cx="1848.7" cy="1099.5" rx="2.00" ry="2.00" fill="#10e4ff"/><ellipse cx="1895.9" cy="1092.8" rx="2.00" ry="1.70" fill="#10e4ff"/><ellipse cx="1892.4" cy="1110.4" rx="2.50" ry="3.70" fill="#10e4ff"/><ellipse cx="1880.0" cy="1128.8" rx="1.80" ry="2.40" fill="#10e4ff"/><ellipse cx="1890.8" cy="1129.6" rx="2.20" ry="3.30" fill="#10e4ff"/><ellipse cx="1915.7" cy="1126.5" rx="2.40" ry="2.80" fill="#10e4ff"/><ellipse cx="1874.4" cy="1134.9" rx="2.80" ry="2.80" fill="#10e4ff"/><ellipse cx="1877.7" cy="1141.4" rx="3.20" ry="3.20" fill="#10e4ff"/><ellipse cx="1883.4" cy="1143.1" rx="2.60" ry="2.60" fill="#10e4ff"/><ellipse cx="1880.5" cy="1145.5" rx="2.40" ry="2.40" fill="#10e4ff"/><ellipse cx="1862.2" cy="1154.1" rx="1.60" ry="2.50" fill="#10e4ff"/><ellipse cx="1908.7" cy="1158.2" rx="3.00" ry="2.50" fill="#10e4ff"/><ellipse cx="1885.3" cy="1171.2" rx="2.80" ry="2.80" fill="#10e4ff"/><ellipse cx="1890.8" cy="1172.5" rx="2.60" ry="2.60" fill="#10e4ff"/><ellipse cx="1893.6" cy="1168.8" rx="2.50" ry="2.50" fill="#10e4ff"/><ellipse cx="1897.7" cy="1172.2" rx="2.80" ry="2.80" fill="#10e4ff"/><ellipse cx="1903.8" cy="1178.6" rx="2.20" ry="2.20" fill="#10e4ff"/></g></g>
<rect x="1911.00" y="1174.05" width="21.20" height="3.50" fill="#fff"/>
</svg></body></html>
